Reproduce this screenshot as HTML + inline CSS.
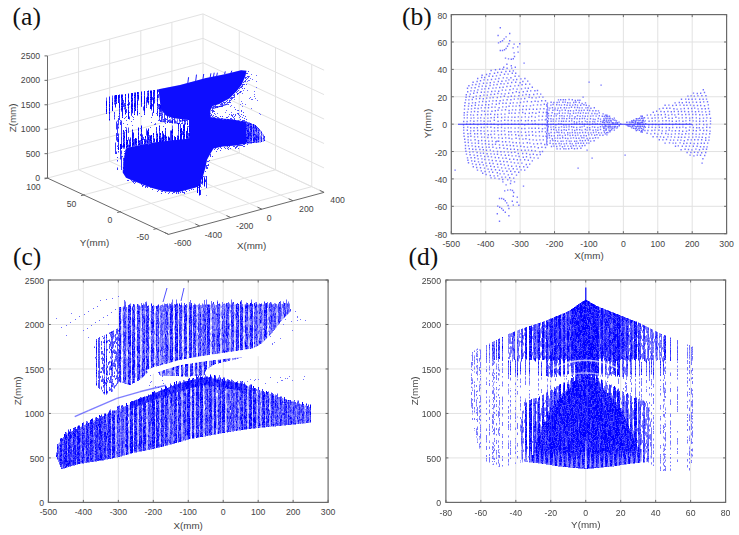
<!DOCTYPE html><html><head><meta charset="utf-8"><style>html,body{margin:0;padding:0;background:#fff;}svg{display:block;}</style></head><body><svg width="739" height="535" viewBox="0 0 739 535" shape-rendering="auto">
<defs><filter id="soft" x="-5%" y="-5%" width="110%" height="110%"><feGaussianBlur stdDeviation="0.55"/></filter></defs>
<rect width="739" height="535" fill="#fff"/>
<line x1="485.71" y1="14.60" x2="485.71" y2="233.70" stroke="#e2e2e2" stroke-width="1.0"/>
<line x1="520.12" y1="14.60" x2="520.12" y2="233.70" stroke="#e2e2e2" stroke-width="1.0"/>
<line x1="554.54" y1="14.60" x2="554.54" y2="233.70" stroke="#e2e2e2" stroke-width="1.0"/>
<line x1="588.95" y1="14.60" x2="588.95" y2="233.70" stroke="#e2e2e2" stroke-width="1.0"/>
<line x1="623.36" y1="14.60" x2="623.36" y2="233.70" stroke="#e2e2e2" stroke-width="1.0"/>
<line x1="657.77" y1="14.60" x2="657.77" y2="233.70" stroke="#e2e2e2" stroke-width="1.0"/>
<line x1="692.19" y1="14.60" x2="692.19" y2="233.70" stroke="#e2e2e2" stroke-width="1.0"/>
<line x1="451.30" y1="206.31" x2="726.60" y2="206.31" stroke="#e2e2e2" stroke-width="1.0"/>
<line x1="451.30" y1="178.92" x2="726.60" y2="178.92" stroke="#e2e2e2" stroke-width="1.0"/>
<line x1="451.30" y1="151.54" x2="726.60" y2="151.54" stroke="#e2e2e2" stroke-width="1.0"/>
<line x1="451.30" y1="124.15" x2="726.60" y2="124.15" stroke="#e2e2e2" stroke-width="1.0"/>
<line x1="451.30" y1="96.76" x2="726.60" y2="96.76" stroke="#e2e2e2" stroke-width="1.0"/>
<line x1="451.30" y1="69.38" x2="726.60" y2="69.38" stroke="#e2e2e2" stroke-width="1.0"/>
<line x1="451.30" y1="41.99" x2="726.60" y2="41.99" stroke="#e2e2e2" stroke-width="1.0"/>
<line x1="83.36" y1="280.00" x2="83.36" y2="502.40" stroke="#e2e2e2" stroke-width="1.0"/>
<line x1="118.33" y1="280.00" x2="118.33" y2="502.40" stroke="#e2e2e2" stroke-width="1.0"/>
<line x1="153.29" y1="280.00" x2="153.29" y2="502.40" stroke="#e2e2e2" stroke-width="1.0"/>
<line x1="188.25" y1="280.00" x2="188.25" y2="502.40" stroke="#e2e2e2" stroke-width="1.0"/>
<line x1="223.21" y1="280.00" x2="223.21" y2="502.40" stroke="#e2e2e2" stroke-width="1.0"/>
<line x1="258.18" y1="280.00" x2="258.18" y2="502.40" stroke="#e2e2e2" stroke-width="1.0"/>
<line x1="293.14" y1="280.00" x2="293.14" y2="502.40" stroke="#e2e2e2" stroke-width="1.0"/>
<line x1="48.40" y1="457.92" x2="328.10" y2="457.92" stroke="#e2e2e2" stroke-width="1.0"/>
<line x1="48.40" y1="413.44" x2="328.10" y2="413.44" stroke="#e2e2e2" stroke-width="1.0"/>
<line x1="48.40" y1="368.96" x2="328.10" y2="368.96" stroke="#e2e2e2" stroke-width="1.0"/>
<line x1="48.40" y1="324.48" x2="328.10" y2="324.48" stroke="#e2e2e2" stroke-width="1.0"/>
<line x1="480.86" y1="280.00" x2="480.86" y2="502.40" stroke="#e2e2e2" stroke-width="1.0"/>
<line x1="515.83" y1="280.00" x2="515.83" y2="502.40" stroke="#e2e2e2" stroke-width="1.0"/>
<line x1="550.79" y1="280.00" x2="550.79" y2="502.40" stroke="#e2e2e2" stroke-width="1.0"/>
<line x1="585.75" y1="280.00" x2="585.75" y2="502.40" stroke="#e2e2e2" stroke-width="1.0"/>
<line x1="620.71" y1="280.00" x2="620.71" y2="502.40" stroke="#e2e2e2" stroke-width="1.0"/>
<line x1="655.67" y1="280.00" x2="655.67" y2="502.40" stroke="#e2e2e2" stroke-width="1.0"/>
<line x1="690.64" y1="280.00" x2="690.64" y2="502.40" stroke="#e2e2e2" stroke-width="1.0"/>
<line x1="445.90" y1="457.92" x2="725.60" y2="457.92" stroke="#e2e2e2" stroke-width="1.0"/>
<line x1="445.90" y1="413.44" x2="725.60" y2="413.44" stroke="#e2e2e2" stroke-width="1.0"/>
<line x1="445.90" y1="368.96" x2="725.60" y2="368.96" stroke="#e2e2e2" stroke-width="1.0"/>
<line x1="445.90" y1="324.48" x2="725.60" y2="324.48" stroke="#e2e2e2" stroke-width="1.0"/>
<line x1="78.60" y1="169.70" x2="78.60" y2="47.50" stroke="#e2e2e2" stroke-width="1.0"/>
<line x1="109.70" y1="161.30" x2="109.70" y2="39.10" stroke="#e2e2e2" stroke-width="1.0"/>
<line x1="140.80" y1="152.90" x2="140.80" y2="30.70" stroke="#e2e2e2" stroke-width="1.0"/>
<line x1="171.90" y1="144.50" x2="171.90" y2="22.30" stroke="#e2e2e2" stroke-width="1.0"/>
<line x1="203.00" y1="136.10" x2="203.00" y2="13.90" stroke="#e2e2e2" stroke-width="1.0"/>
<line x1="47.50" y1="153.66" x2="203.00" y2="111.66" stroke="#e2e2e2" stroke-width="1.0"/>
<line x1="47.50" y1="129.22" x2="203.00" y2="87.22" stroke="#e2e2e2" stroke-width="1.0"/>
<line x1="47.50" y1="104.78" x2="203.00" y2="62.78" stroke="#e2e2e2" stroke-width="1.0"/>
<line x1="47.50" y1="80.34" x2="203.00" y2="38.34" stroke="#e2e2e2" stroke-width="1.0"/>
<line x1="47.50" y1="55.90" x2="203.00" y2="13.90" stroke="#e2e2e2" stroke-width="1.0"/>
<line x1="239.25" y1="152.95" x2="239.25" y2="30.75" stroke="#e2e2e2" stroke-width="1.0"/>
<line x1="275.50" y1="169.80" x2="275.50" y2="47.60" stroke="#e2e2e2" stroke-width="1.0"/>
<line x1="311.75" y1="186.65" x2="311.75" y2="64.45" stroke="#e2e2e2" stroke-width="1.0"/>
<line x1="203.00" y1="111.66" x2="324.07" y2="167.94" stroke="#e2e2e2" stroke-width="1.0"/>
<line x1="203.00" y1="87.22" x2="324.07" y2="143.50" stroke="#e2e2e2" stroke-width="1.0"/>
<line x1="203.00" y1="62.78" x2="324.07" y2="119.06" stroke="#e2e2e2" stroke-width="1.0"/>
<line x1="203.00" y1="38.34" x2="324.07" y2="94.62" stroke="#e2e2e2" stroke-width="1.0"/>
<line x1="203.00" y1="13.90" x2="324.07" y2="70.18" stroke="#e2e2e2" stroke-width="1.0"/>
<line x1="78.60" y1="169.70" x2="199.68" y2="225.98" stroke="#e2e2e2" stroke-width="1.0"/>
<line x1="109.70" y1="161.30" x2="230.78" y2="217.58" stroke="#e2e2e2" stroke-width="1.0"/>
<line x1="140.80" y1="152.90" x2="261.88" y2="209.18" stroke="#e2e2e2" stroke-width="1.0"/>
<line x1="171.90" y1="144.50" x2="292.98" y2="200.78" stroke="#e2e2e2" stroke-width="1.0"/>
<line x1="203.00" y1="136.10" x2="324.07" y2="192.38" stroke="#e2e2e2" stroke-width="1.0"/>
<line x1="83.75" y1="194.95" x2="239.25" y2="152.95" stroke="#e2e2e2" stroke-width="1.0"/>
<line x1="120.00" y1="211.80" x2="275.50" y2="169.80" stroke="#e2e2e2" stroke-width="1.0"/>
<line x1="156.25" y1="228.65" x2="311.75" y2="186.65" stroke="#e2e2e2" stroke-width="1.0"/>
<line x1="203.00" y1="136.10" x2="324.07" y2="192.38" stroke="#e2e2e2" stroke-width="1.0"/>
<line x1="47.50" y1="178.10" x2="203.00" y2="136.10" stroke="#e2e2e2" stroke-width="1.0"/>
<g filter="url(#soft)">
<path transform="scale(.5)" d="M521 268v3m4 1v4" stroke="#f4f4ff" stroke-width="2.0" fill="none"/>
<path transform="scale(.5)" d="M525 279v4" stroke="#d4d4ff" stroke-width="2.0" fill="none"/>
<path transform="scale(.5)" d="M505 280v4" stroke="#cacaff" stroke-width="2.0" fill="none"/>
<path transform="scale(.5)" d="M505 276v4m16-15v3m4 8v3" stroke="#bfbfff" stroke-width="2.0" fill="none"/>
<path transform="scale(.5)" d="M519 263v3m6 0v6m0 11v1" stroke="#b5b5ff" stroke-width="2.0" fill="none"/>
<path transform="scale(.5)" d="M499 257v4m6-11v4m0 8v2m14 18v3m2-25v5" stroke="#9f9fff" stroke-width="2.0" fill="none"/>
<path transform="scale(.5)" d="M505 258v4m6 1v5m8 2v2m0 6v4" stroke="#9595ff" stroke-width="2.0" fill="none"/>
<path transform="scale(.5)" d="M355 237v3m150 8v2m0 18v5m10 11v2m6-7v4" stroke="#8a8aff" stroke-width="2.0" fill="none"/>
<path transform="scale(.5)" d="M355 242v4m4-3v2m146 19v4m0 5v3m10-19v6m0 0v5m4 4v6m2-7v5" stroke="#8080ff" stroke-width="2.0" fill="none"/>
<path transform="scale(.5)" d="M265 226v1m60 10v4m186 40v4m10-9v3m0 4v2m6-7v3" stroke="#7575ff" stroke-width="2.0" fill="none"/>
<path transform="scale(.5)" d="M265 193v3m60 27v5m0 13v3m30-4v2m74-20v2m2 4v2m0 2v2m4-8v2m2 6v2m0 0v2m4-26v2m10 10v2m2-6v2m2 12v2m2-32v2m0 26v2m4-48v2m0 24v2m2-4v2m0 12v2m0 2v2m6-36v2m0 2v2m0 14v2m4-36v2m2 38v2m2 4v2m2 6v2m2-78v2m0 48v2m0 32v2m0-2v2m2-102v2m0 14v2m0 4v2m0 16v2m0-2v2m0 18v2m2-54v2m0 34v2m0 18v2m0 4v2m2-50v2m0 14v2m4-40v2m0 64v2m0 37v6m2-11v2m2-82v2m0 16v2m2-30v2m0 6v2m2-10v2m0 6v2m0 34v2m2-42v2m0 36v2m2-48v2m0 48v2m0 16v2m2-60v2m0 38v2m4-18v2m0 4v2m0 2v2m0 55v5m0 16v4m2-78v2m2-48v2m0 10v2m0 10v2m2 24v2m0 78v4m4-58v2m0 38v4m2-42v2" stroke="#6a6aff" stroke-width="2.0" fill="none"/>
<path transform="scale(.5)" d="M213 195v6m132 50v7m20-16v3m128 18v4m2-14v3m4 5v2m0 13v5m10-22v5m0 20v2m4-21v4m4 11v2m10-13v6m0 6v2" stroke="#6060ff" stroke-width="2.0" fill="none"/>
<path transform="scale(.5)" d="M225 191v5m12 36v2m4 6v2m6 4v2m2-12v2m2-12v2m0 6v2m0 18v2m0 4v2m2-30v2m0 6v2m0 13v4m2-11v2m4-26v2m4 16v2m2-12v2m0 16v2m2-18v2m0-2v2m0 2v2m12-14v2m0-2v2m2 28v2m2-26v2m16 36v7m2-23v2m2-22v2m0 8v2m6 2v2m2-4v2m0 0v2m2-24v2m4 12v2m2-8v3m0 3v2m8 10v2m4-8v2m16-10v2m2-6v2m0 0v2m8 12v2m0 10v9m2-33v2m2 8v2m8-10v2m2-2v2m4 10v2m0 0v2m2-4v2m2 4v2m2 0v2m106 19v5m12-14v4m6-22v4m10 10v4m0 4v4m8-9v2m6 4v3" stroke="#5555ff" stroke-width="2.0" fill="none"/>
<path transform="scale(.5)" d="M249 276v7m46-98v6m18 80v6m6-58v6m16 11v5m10-6v5m24 5v4m6-9v5m84-17v2m4 0v2m0 4v2m2-8v2m0 0v2m2-6v2m0 4v2m2-4v2m0-2v2m0 2v2m2-20v2m0 8v2m0 0v2m0-2v2m4-6v2m2-8v2m0 4v2m0 0v2m2 0v2m2 0v2m0 16v5m2-35v2m0 0v2m0-2v2m0 4v2m0 23v5m2-24v2m2-12v2m0 4v2m4 0v2m4 10v5m0 7v4m14 4v4m10-10v5" stroke="#4a4aff" stroke-width="2.0" fill="none"/>
<path transform="scale(.5)" d="M219 229v8m10-46v8m0 0v6m0 0v4m0 15v5m0 0v6m0 0v4m10-10v8m4 43v8m2 3v4m2-95v7m0 0v7m2-8v9m0 0v4m0 44v9m4-54v8m2-18v3m2-15v3m0 56v3m0 0v8m0 8v7m0 8v5m0 0v1m2-91v6m0 23v6m10-42v8m0 73v8m0 0v6m12-24v4m0 8v8m6-75v8m0 53v6m6-85v4m0 0v5m0 0v9m0 0v3m0 41v9m0 0v5m0 8v6m0 0v2m4-6v6m6-69v3m2-27v6m0 8v5m0 12v7m12-53v5m0 4v8m0 12v7m0 0v3m2-5v7m0 17v3m4 35v3m0 0v6m2-14v4m4-4v7m0 0v4m12-20v5m0 0v4m0 0v8m0 0v4m24-37v3m0 14v8m12-4v7m0 0v4m0 0v3m104-20v5m2-3v4m6-21v4m0 35v4m4-44v3m0 11v5m0 7v3m2 6v4m2-4v4m2-32v2m0 0v4m0 24v6m6-3v2m2-14v3m2-21v5m2-3v3m0 26v1m2-34v3m4 12v3" stroke="#4040ff" stroke-width="2.0" fill="none"/>
<path transform="scale(.5)" d="M225 196v7m6 82v23m2-65v16m0 7v15m0 22v5m2-67v2m0 4v25m0 2v10m0 7v3m0 3v1m0 16v2m0 4v3m0 12v5m2-104v15m0 2v4m0 10v11m0 24v3m2-108v9m0 11v8m0 11v4m2 3v7m0 39v30m2-123v9m0 36v49m0 1v4m0 6v8m0 2v29m16-56v5m8-12v6m0 7v3m2-108v5m2 98v3m14-22v8m16-91v7m0 8v8m14 1v3m4 50v8m2-56v3m0 0v3m0 0v2m0 2v4m0 0v3m0 8v2m0 0v2m2-24v5m0 0v4m0 0v4m0 0v3m0 0v4m0 0v2m0 0v2m2-13v6m0 29v4m2-32v3m0 0v3m2-16v2m0 0v6m0 0v4m0 0v4m0 0v1m2-9v2m0 0v6m0 0v1m2-7v2m2 1v2m2-3v4m2-11v3m0 3v4m0 0v3m2-7v2m0 0v5m2-11v2m0 4v3m0 0v2m6-10v6m0 0v2m0 0v3m0 25v9m2-40v5m0 0v1m2-4v2m0 0v2m8-7v4m0 5v8m2-16v2m0 3v2m4-9v3m2 32v7m2-42v2m0 0v4m0 0v4m2-9v2m108 2v3m0 26v3m2-2v6m0 3v4m4-45v3m8 26v3m2-22v6m2-13v6m2 10v5m0 20v1m6-30v3m4 10v6m4-22v3m8 10v4" stroke="#3535ff" stroke-width="2.0" fill="none"/>
<path transform="scale(.5)" d="M219 200v4m18 81v8m10-24v6m10-59v3m6 5v7m6-12v8m2-33v8m4-10v7m0 12v6m0 0v4m2-37v5m6 15v9m0 70v7m6-68v5m6-45v3m0 6v3m4 83v8m8-105v3m8 30v4m0 10v5m6 39v4m4-47v3m2 51v2m6-7v4m10-5v5m2-15v3m10-23v2m4-10v5m10-1v3m0 17v5m32 88v3m0 0v16m0 6v10m2-27v2m0 9v1m8-22v1m0 5v5m2-12v24m0 15v1m68-137v5m2 12v2m6-31v2m0 4v4m2 18v3m0 12v2m2-41v5m8 4v2m0 21v4m0 0v3m6-22v4m4 0v2m2 12v4m4-27v4m0 7v4m10 1v3m2-6v5" stroke="#2a2aff" stroke-width="2.0" fill="none"/>
<path transform="scale(.5)" d="M233 203v3m0 0v2m14 70v7m2-2v4m2-82v4m0 4v6m8 60v5m2-9v8m2-78v3m2-5v5m0 12v6m2 46v5m4 14v1m6-29v3m12-84v9m2 86v5m4-8v8m12-94v7m0 80v6m2-97v9m0 6v8m0 75v3m4-31v7m0 0v6m2-81v3m4 24v3m12 45v9m12-4v4m0 0v6m12 2v4m2-31v8m2-14v3m20 24v5m108 0v4m6-29v3m0 12v3m0 6v4m0 5v2m2-22v4m4-6v3m0 0v6m4-25v4m0 14v4m0 11v3m8-24v4m2 6v3m2 0v4m2-20v3m6 14v5m0 0v4" stroke="#2020ff" stroke-width="2.0" fill="none"/>
<path transform="scale(.5)" d="M213 213v4m0 8v3m6-35v7m12 12v3m2-16v4m4-5v6m2-15v8m4 77v6m2-60v6m18-7v5m0 7v1m2 31v5m2-3v7m22-45v3m0 48v7m6-83v3m2-20v8m0 75v5m4 10v3m2-12v5m4-71v4m0 0v6m0 63v4m8-88v8m0 12v4m4-13v5m0 42v8m2-46v6m10 33v5m4-29v4m20 35v4m8-1v7m10-19v8m2-6v7m108-29v3m0 13v4m2-3v3m2 6v6m2-16v4m2-9v3m0 12v3m4-2v2m2-13v4m0 12v2m0 7v4m4-41v5m0 3v2m0 17v2m2-21v6m0 9v6m0 8v4m6-9v6m2-8v5m2-21v5m4 17v3" stroke="#1515ff" stroke-width="2.0" fill="none"/>
<path transform="scale(.5)" d="M219 240v1m12-36v7m12 3v6m2-32v6m0 31v7m0 0v3m2 24v5m0 0v4m4-81v5m0 0v5m0 0v7m6 14v7m4 57v7m2-104v6m2 76v8m4-61v4m2-34v9m0 8v8m0 0v7m2 70v5m2-93v5m0 22v5m8-48v8m0 71v3m0 0v5m0 0v5m6-84v3m0 0v8m6 59v3m0 6v4m2-93v4m4 24v9m2-18v5m4-22v5m0 30v6m2-31v6m6 6v6m0 10v6m6 48v5m10 2v2m2-3v3m12-38v1m12 29v5m8-43v4m4-3v3m0 6v4m4 25v4m6-41v6m0 0v4m0-1v7m102-9v3m2 16v6m2-24v6m0 0v5m0 3v6m0 3v5m2-2v3m2-9v5m0 6v5m2-41v2m0 13v6m10-13v3m0 12v4m0 0v3m6 2v3m2-4v4m2-28v6m2 16v5m10-14v4" stroke="#0b0bff" stroke-width="2.0" fill="none"/>
<path transform="scale(.5)" d="M213 201v5m0 0v7m0 4v8m6-21v3m0 0v8m0 0v8m0 0v6m0 8v3m6-37v8m0 0v5m0 0v6m6-32v8m0 0v4m0 0v3m2-15v6m0 0v3m4-9v8m0 6v2m0 72v7m0 8v7m2-94v4m0 0v7m0 8v4m2 59v7m0 0v4m2-110v7m0 9v6m0 0v4m0 6v2m0 65v6m0 0v4m2-103v8m0 0v8m0 0v9m2 55v3m0 7v5m0 0v5m0 0v2m2-25v4m0 11v8m0 0v2m2-88v4m0 6v6m0 0v4m2 30v9m0 0v6m0 0v9m0 0v8m0 0v5m2-16v9m0 0v6m2-108v9m0 3v6m0 0v8m0 0v3m0 10v4m0 0v8m2 51v6m2-5v4m2-102v7m0 0v6m0 3v6m0 0v5m2-33v7m0 3v7m0 5v4m0 0v3m0 0v5m0 39v4m0 13v9m0 0v8m0 0v1m2-11v7m2-100v3m0 0v4m0 8v7m0 0v3m0 12v3m2-13v5m0 54v6m0 0v6m2-11v4m0 0v6m2-103v5m0 0v3m0 12v7m0 10v5m2-37v3m0 0v7m0 0v2m0 54v8m0 3v5m0 0v8m0 0v8m0 0v4m2-10v4m0 0v5m4-99v7m0 0v6m0 9v1m0 37v6m0 0v5m0 13v8m2-6v4m0 0v5m0 0v3m4-87v7m0 0v7m0 0v6m0 63v3m2-16v5m0 5v5m0 0v1m4-94v4m0 0v4m0 62v6m0 12v5m2-94v8m0 0v6m0 0v2m0 48v6m0 0v5m0 5v5m0 0v3m2 4v1m2-105v5m0 7v4m0 0v4m0 70v7m0 0v5m2-102v3m0 0v8m0 0v8m0 5v7m0 0v6m0 52v4m0 5v7m4-91v5m0 0v8m0 16v2m0 40v5m0 0v4m2-95v4m0 93v5m4-15v4m0 6v8m2-106v7m0 3v8m0 70v8m0 0v5m0 0v5m4-69v3m0 6v4m0 0v5m0 17v4m0 16v8m0 0v6m2-75v7m0 6v1m0 42v5m0 9v4m4-22v4m0 8v5m0 0v5m2-17v7m0 0v8m4-12v9m0 0v3m2-9v4m2-34v3m2 27v8m0 0v2m2-8v6m0 0v2m4-22v5m0 15v2m2-43v6m0 12v4m0 0v4m0 3v5m0 0v6m0 0v3m4-2v1m2-8v7m0 0v1m4-7v3m2-32v5m0 8v3m0 9v5m4-19v5m0 0v5m0 0v7m0 0v6m0 0v1m2-25v9m0 0v9m4-25v8m0 0v6m0 0v8m0 0v8m0 0v2m2-29v4m0 0v6m0 5v7m4-4v7m2-32v5m0 6v8m0 7v6m0 0v3m4-24v9m0 0v7m0 5v3m16 76v30m4-31v36m6-37v15m4-16v20m72-131v2m0 21v5m0 0v3m0 3v3m0 0v3m0 0v3m0 0v3m2-43v5m0 0v3m0 27v3m0 4v1m2-46v4m0 0v2m0 20v3m0 5v2m0 0v6m0 0v4m2-43v4m0 0v3m0 0v4m0 0v4m0 0v4m0 0v4m0 18v2m2-35v5m0 4v6m0 5v6m2-34v2m0 9v2m0 6v4m0 6v5m0 0v3m0 0v4m2-31v3m0 15v3m0 4v5m2-36v4m0 7v5m0 9v5m0 4v4m2-42v2m0 0v5m0 10v3m0 0v5m0 0v4m0 2v3m4-21v3m0 14v4m2-28v3m0 6v5m0 10v5m4-32v6m0 0v3m0 3v4m0 4v4m0 6v5m0 0v3m2-18v2m4-15v3m0 0v2m0 17v5m4-19v4m0 7v6m6 2v2m6-4v2" stroke="#0000ff" stroke-width="2.0" fill="none"/>
<polygon points="158.5,89.3 180.0,85.1 206.0,78.0 226.0,74.0 241.0,70.3 246.5,70.7 245.4,75.9 241.5,85.1 236.3,91.6 229.7,98.2 219.2,104.1 212.7,106.0 210.5,110.0 210.0,117.0 219.0,118.6 229.2,119.1 244.9,121.4 246.0,122.0 246.0,143.6 245.0,143.7 235.8,145.4 222.7,146.6 213.5,148.4 209.6,154.9 207.0,159.7 205.4,167.7 203.0,176.0 199.0,186.0 195.0,187.8 186.3,190.0 178.5,192.0 165.0,191.5 152.0,188.0 140.0,183.5 126.0,177.7 122.7,172.5 123.5,160.0 126.0,148.0 150.0,143.0 170.0,140.5 186.0,139.0 190.0,138.0 190.0,120.3 173.0,117.9 165.8,115.4 160.9,109.4" fill="#0808ff"/>
<path transform="scale(.5)" d="M243 336v2m0 0v2m2-28v2m2 2v2m0 0v2m0-2v2m0 0v2m0 2v2m0-2v2m0 4v2m0 0v2m0 4v2m2-38v2m0 2v2m0 4v2m0 0v2m2-16v2m0 50v2m2-58v2m2 62v2m2-2v2m4-70v2m0 64v2m0-2v2m2 0v2m2 0v2m0-2v2m2-74v2m0 70v2m0 0v2m2-74v2m0 68v2m0 2v2m2-6v2m0 0v2m2-76v2m6-2v2m2-4v2m2-2v2m0 78v2m2-82v2m0 80v2m0-2v2m0 0v2m2-4v2m4 0v2m0 0v2m2-4v2m2-88v2m0 84v2m0 0v2m2-90v2m0-2v2m0 0v2m2-6v2m0 0v2m2-2v2m0 86v2m4 2v2m10 2v2m2-4v2m6 0v2m0-2v2m0-2v2m0 2v2m2-6v2m6 0v2m0-2v2m6 0v2m2-4v2m6 0v2m2-4v2m0-2v2m2-2v2m4-2v2m0 0v2m4-4v2m0-2v2m0 0v2m4-4v2m0-2v2m4-4v2m0 0v2m2-2v2m2-2v2m0 0v2m2-8v2m2 0v2m6-4v2m0-2v2m4-4v2m0-2v2m4-2v2m10-6v2m4-10v2m0-2v2m0 0v2m0 0v2m2-8v2m0-2v2m0-2v2m0 0v2m2-2v2m2-16v2m2 0v2m2-14v2m2-14v2m0-2v2m0 0v2m0 0v2m0 0v2m2-16v2m0 6v2m0 2v2m0 0v2m2-16v2m0 4v2m0 0v2m2-12v2m2-96v2m0-2v2m0 2v2m0 0v2m0 74v2m0 0v2m0 0v2m2-94v2m0-2v2m0-2v2m0 6v2m0 0v2m0 2v2m0-2v2m2-22v2m0-2v2m0 0v2m0 0v2m0 0v2m0 0v2m0 0v2m0-2v2m0 6v2m0 78v2m2-102v2m0 0v2m0 4v2m0 0v2m0 6v2m0 2v2m2-24v2m0 8v2m0 2v2m0 6v2m0-2v2m0 62v2m2-90v2m0 0v2m0 0v2m0-2v2m0 16v2m0 62v2m2-86v2m0 18v2m0 2v2m0 64v2m2-92v2m0 0v2m0 18v2m0 62v2m2-4v2m2-86v2m0 22v2m2-30v2m0 22v2m0 60v2m0-2v2m0 4v2m2-96v2m0 0v2m0-2v2m0 2v2m0 22v2m0 58v2m2-92v2m0-2v2m0 0v2m0 2v2m0 18v2m0 2v2m0 0v2m2-36v2m0 32v2m2-36v2m0 0v2m0-2v2m0 86v2m2-92v2m0 90v2m2-96v2m0 30v2m0 2v2m2-40v2m0 2v2m0 28v2m0 56v2m0 2v2m2-94v2m0 2v2m0 84v2m0 2v2m2-100v2m0-2v2m0 0v2m0 0v2m0 32v2m0-2v2m0-2v2m0 52v2m2-98v2m0 2v2m0 2v2m0 30v2m0 58v2m0-2v2m2-104v2m0 0v2m0 0v2m0-2v2m0 38v2m0-2v2m0-2v2m2-46v2m0 0v2m0 40v2m2-50v2m0 2v2m0 96v2m0-2v2m2-106v2m0 0v2m0 0v2m0 44v2m0 52v2m0-2v2m0-2v2m2 0v2m0 0v2m2-114v2m0-2v2m0-2v2m0-2v2m0 54v2m0 50v2m0 0v2m0-2v2m2-114v2m0 2v2m0 0v2m0-2v2m0 100v2m0 0v2m2-114v2m0 4v2m0 52v2m0-2v2m0 48v2m0 4v2m2-122v2m0 6v2m0 104v2m0-2v2m2-118v2m0 6v2m0-2v2m0-2v2m0 0v2m0 52v2m0 2v2m0 46v2m0-2v2m2-120v2m0 0v2m0 114v2m2-124v2m0-2v2m0 0v2m0 0v2m0 2v2m0 62v2m0 48v2m2-128v2m0 2v2m0 70v2m0 0v2m0-2v2m0-2v2m0 44v2m0 2v2m2-132v2m0-2v2m0 4v2m0-2v2m0 6v2m0 58v2m0-2v2m0 2v2m0 46v2m0 2v2m2-140v2m0-2v2m0-2v2m0 0v2m0 2v2m0 0v2m0-2v2m2-18v2m0 6v2m0-2v2m0 2v2m0 8v2m0 68v2m0-2v2m2-94v2m0 4v2m0 2v2m0 88v2m0 40v2m2-148v2m0 8v2m0 0v2" stroke="#4040ff" stroke-width="2.0" fill="none"/>
<path d="M213 108.5 L228 103.8" stroke="#0000ff" stroke-width="1.3" stroke-opacity="0.8"/>
<path d="M187.8 83.0L188.6 77.2M195.7 81.0L196.5 74.6M202.9 79.5L203.7 74.0M210.1 78.0L210.9 73.3M213.4 77.0L214.2 72.7M216.6 76.5L217.4 72.7M224.5 74.5L225.3 71.4M231.0 73.0L231.8 70.7" stroke="#2020ff" stroke-width="1" fill="none"/>
</g>
<g filter="url(#soft)">
<path transform="scale(.5)" d="M243 624v7m0 16v5m0 47v4m0 28v4m2-93v7m0 21v6m12 158v7m6-187v6m4 164v2m0 14v6m0 5v7m0 45v3m4-247v5m0 19v6m0 7v5m2-84v6m10 8v2m16 45v5m0 35v4m0 18v1m2-122v3m0 67v7m0 29v6m8-76v3m2 41v4m0 103v8m36-197v5m0 54v4m2-69v4m0 53v6m0 35v6m6 87v4m2-124v6m2 48v7m6-81v7m0 5v6m0 4v4m10-73v7m0 28v7m0 41v4m0 9v6m2 26v5m8-138v3m0 42v8m6 211v2m2-184v5m2-79v5m0 37v6m12 100v4m8-39v7m6-67v4m0 0v4m2-58v5m0 68v4m10 88v7m2-31v7m0 17v5m6-158v5m2-22v3m0 99v7m8 125v5m8-227v3m10 54v5m2-42v5m0 37v4m8-9v5m0 6v5m8-74v2m0 6v7m0 35v8m2-58v3m24 152v3m24-144v4" stroke="#f4f4ff" stroke-width="2.0" fill="none"/>
<path transform="scale(.5)" d="M223 880v3m22-234v6m0 37v5m0 38v6m12 107v6m6-210v4m0 82v5m0 3v7m4 65v5m0 2v7m6-190v5m0 35v7m0 51v4m0 12v4m0 10v2m8-41v7m10 17v2m2 56v5m2 65v5m4-265v6m0 86v7m2-90v4m0 68v4m0 4v6m0 21v6m8-103v6m0 52v4m0 22v8m2-48v2m0 153v5m8-181v5m18-2v6m10-30v5m0 66v3m2-89v6m0 0v5m0 9v4m0 36v3m0 0v6m2 55v6m6-125v4m0 19v3m0 0v5m2 86v3m8-52v3m2 53v3m6-96v4m0 10v6m0 0v3m0 11v4m2-72v6m0 22v2m0 8v6m0 40v4m0 0v4m2 18v4m0 14v2m6-118v3m0 35v5m0 5v5m0 10v6m4 22v6m2 31v4m0 95v3m4-242v4m0 22v4m0 53v2m8-34v3m4 76v5m0 4v4m0 17v7m0 10v3m2 6v3m0 55v4m6-149v3m6-102v3m0 18v5m0 35v3m0 12v7m12 153v6m8-227v4m2-33v3m0 29v7m8 134v3m0 70v7m10-247v5m0 22v6m0 172v5m8-206v5m2 19v5m16-39v7m0 29v7m0 12v8m20 13v3m0 5v3m8 111v4m20-199v3m4 195v7" stroke="#eaeaff" stroke-width="2.0" fill="none"/>
<path transform="scale(.5)" d="M233 898v4m10-243v2m0 74v5m2-123v6m0 0v3m0 29v4m0 0v8m0 61v7m10-121v6m8 16v6m0 41v7m0 6v4m0 45v6m8-138v4m0 11v5m0 121v2m2-108v5m0 89v3m4 86v7m0 46v3m4-194v3m0 7v7m2-67v4m0 0v5m0 23v3m2 133v5m6-193v6m0 88v6m2 91v4m0 20v6m6-217v5m0 29v5m0 0v3m0 18v6m0 8v3m2-25v3m8-13v4m2-3v4m0 188v5m0 10v5m8-255v7m0 0v4m0 0v5m0 61v6m2 105v4m8-92v2m10-48v3m8-62v4m0 54v4m0 5v5m0 4v5m2-58v7m0 22v7m6 202v2m2-255v2m0 25v8m0 0v6m0 17v2m0 10v4m0 0v5m0 3v4m8-47v5m2-6v7m0 32v3m0 3v5m0 11v3m8-91v5m0 34v6m2-7v6m4 178v3m2-101v6m0 10v4m0 71v7m2-247v4m0 0v5m0 0v4m0 21v5m2 77v6m0 10v4m2 107v6m4-166v7m2-91v3m0 83v5m0 2v4m0 31v5m4 92v3m6-108v5m2-7v4m0 33v6m0 17v7m0 3v7m6-152v3m8 3v2m12 199v4m2-150v5m6-107v4m0 30v7m2-22v5m2 77v7m6 75v5m0 27v6m2-69v6m16-132v4m0 43v7m10-88v5m0 17v5m0 13v3m0 0v6m0 0v8m0 24v6m8-67v6m0 50v7m0 0v7m2-43v3m6 188v3m2-161v3m10-26v7m0 0v7m16 126v7m4-161v4m8-26v7m0 32v5m2-7v6m74 142v3" stroke="#dfdfff" stroke-width="2.0" fill="none"/>
<path transform="scale(.5)" d="M223 842v4m0 49v3m8-40v7m2-6v6m10-250v5m0 0v4m0 37v7m0 6v7m0 22v5m0 11v5m0 16v7m0 8v5m0 0v5m10-59v3m0 0v6m2-95v6m0 3v5m0 67v3m4 116v5m0 18v6m0 8v4m4-245v5m0 21v2m0 4v6m0 6v5m0 25v6m4 169v5m4-234v6m0 7v3m0 67v5m0 11v7m2-129v4m0 69v6m0 9v2m0 5v5m0 0v6m0 33v4m8-93v7m0 86v3m2-97v6m0 39v4m0 6v5m2 117v7m6-117v7m2 124v5m2-20v6m4-230v6m0 95v7m10-98v3m0 11v4m0 0v6m0 45v3m2-65v7m0 17v5m0 7v4m0 12v5m0 11v3m0 12v3m0 78v4m0 8v4m0 24v5m0 35v7m0 0v7m8-247v5m2 198v4m2-110v6m16-81v6m0 0v4m0 166v8m8-208v3m0 67v6m2-108v3m0 20v3m0 101v4m2 5v1m4 29v8m0 17v3m0 4v7m2-149v7m0 0v4m8 17v6m2-78v7m0 16v4m0 21v4m0 25v3m0 25v3m2 4v7m6-124v4m0 8v7m0 5v4m0 36v5m0 4v3m0 19v1m2-51v7m0 53v5m4 38v2m0 25v7m0 19v6m2-17v7m0 27v5m2-163v7m0 14v4m2 25v6m2 3v4m0 41v2m0 4v3m2-26v3m0 0v5m0 36v3m2-194v2m2 7v7m0 28v5m2 53v3m0 0v4m2 116v7m8-43v6m6-213v7m8 2v4m0 18v3m0 49v6m2-70v7m0 62v7m4 119v4m6-14v6m2-29v4m0 41v7m6-198v6m0 31v5m0 10v6m2-13v4m0 0v7m0 24v1m8 34v2m0 0v8m0 74v3m2-40v4m0 0v4m6-136v5m2-6v7m0 18v1m8-74v7m0 29v7m0 0v6m0 18v6m2-80v4m8-13v3m0 3v6m10-11v7m0 8v4m0 0v7m0 4v7m0 43v5m6 88v5m2-169v7m0 189v7m2-146v5m6 133v8m2-218v6m0 29v5m0 11v3m8 123v4m0 30v6m6 6v4m6-176v3m4 175v5m6-188v6m18-37v7m12 175v2" stroke="#d4d4ff" stroke-width="2.0" fill="none"/>
<path transform="scale(.5)" d="M223 837v5m0 16v2m0 48v7m8-78v7m0 0v4m2 32v4m10-232v7m0 29v4m2-10v3m8-60v3m0 67v4m0 3v4m2-80v3m0 16v3m0 66v4m2 105v5m2 21v3m0 47v8m4-200v3m0 6v3m0 0v6m4 109v6m4-223v5m0 42v5m0 20v7m0 5v6m0 17v6m0 0v5m2-6v3m0 13v3m2 73v2m2 5v3m0 14v5m0 23v5m4-199v4m0 3v7m0 3v3m0 35v5m2-71v3m0 17v6m0 9v4m8-95v5m2 178v6m6-132v5m0 23v4m0 31v5m0 0v3m2-112v8m0 81v8m8-15v5m0 15v4m2-122v3m0 7v4m0 58v6m0 128v5m8-211v4m0 224v5m0 35v4m2-142v5m0 36v7m0 16v2m0 77v3m2-146v4m4-122v3m0 43v6m0 30v3m2 149v5m0 25v4m2-153v6m6-120v3m2-17v3m0 4v6m0 6v4m0 50v3m8-21v4m0 14v2m2-25v7m0 52v3m6 97v6m0 20v3m2-232v4m0 88v3m2 18v6m4 117v5m2-222v7m0 4v6m0 142v5m0 43v3m2-155v3m0 52v6m8-50v4m2-77v6m0 97v4m4 96v4m2-17v4m0 28v5m0 10v3m0 0v3m2-205v6m0 5v5m4 49v4m0 37v4m0 53v4m2-34v7m0 5v7m0 9v5m0 8v3m2-229v3m0 16v3m2-4v4m0 60v4m0 11v2m2 10v6m0 17v4m2 57v4m4-100v1m2-97v5m0 124v6m2 7v4m2 36v4m12-153v4m2-43v4m0 12v3m0 12v4m0 20v5m0 35v2m4 132v7m6-229v8m2 151v4m0 44v5m0 14v6m6-228v5m0 77v4m2-48v6m0 15v6m0 15v5m0 91v4m8-5v4m0 5v4m0 29v6m0 3v3m0 12v3m4-145v3m4-100v5m0 6v7m0 0v6m0 14v6m2-38v6m0 33v3m0 45v4m4 0v1m4-84v6m0 8v7m0 0v4m0 17v3m8 128v3m2-175v4m0 0v7m0 17v7m16 138v7m2-164v6m2-36v6m0 63v4m6 130v2m0 0v4m2-218v3m8 235v3m2-182v6m4 101v4m4-172v7m2 58v4m8-64v4m4 170v4m14-158v7m2-36v3m10 4v7" stroke="#cacaff" stroke-width="2.0" fill="none"/>
<path transform="scale(.5)" d="M223 846v5m0 51v6m8-77v6m0 33v7m0 33v4m2-67v5m0 24v4m10-242v6m0 0v3m0 34v7m0 59v3m2-124v7m0 4v5m0 79v4m8 33v7m2-54v3m0 45v6m2 45v6m2 51v6m4-208v7m0 86v2m8-108v7m0 48v8m2-92v5m0 53v5m0 50v6m2 76v3m6-201v7m0 0v7m0 42v3m2-57v3m0 8v7m0 0v3m0 79v5m0 3v7m0 19v1m8-84v3m0 28v5m2 184v4m2-96v7m0 0v7m4-176v3m2 5v7m0 18v7m0 3v3m0 29v3m8-105v7m0 7v5m0 45v7m2-32v7m0 0v4m0 66v4m0 106v4m0 25v6m8-219v3m0 35v6m0 12v6m0 0v4m0 5v3m2 105v5m0 7v7m8-48v6m8-182v6m0 86v7m0 19v5m2-15v6m0 7v3m0 51v4m0 3v3m8-202v6m0 9v5m0 42v3m2 20v7m0 0v6m0 6v5m0 19v3m6 32v5m0 0v2m0 71v7m2-248v6m0 4v5m0 90v5m6 97v7m0 14v7m2-221v7m0 11v4m2-31v5m0 41v6m0 17v3m2 46v5m4 41v7m2-177v5m0 15v4m2 1v6m0 0v6m0 43v6m4 88v5m0 0v4m0 47v6m2-86v5m0 75v6m0 17v3m2-237v6m0 78v3m4 20v7m0 8v1m0 6v4m0 18v5m0 26v3m0 7v5m2-34v4m0 37v5m0 0v3m0 3v7m0 0v6m0 0v5m8-27v5m4-190v4m4 83v7m0 105v4m0 16v3m2-50v5m0 14v4m0 6v5m4-182v7m8-71v6m0 17v8m0 12v7m2 2v3m2 160v6m2-17v2m0 42v7m4-171v8m2 121v5m8-163v4m10-21v4m0 133v4m2 34v4m0 20v5m6-152v4m2-78v3m0 32v7m8-54v5m2 19v5m0 10v4m0 14v6m0 10v3m6 86v7m2-166v3m8 0v7m2-18v6m0 7v5m0 32v6m0 4v4m0 16v6m6 108v5m0 25v7m0 10v4m2-236v6m0 7v3m0 45v7m0 130v4m0 17v7m0 5v4m2-212v7m0 49v1m6 85v3m0 0v6m0 12v6m0 0v6m0 26v6m2-193v5m6 186v7m2-12v3m2-176v6m6 116v4m2-133v6m6 142v7m0 14v5m4-187v5m0 0v3m0 18v1m2-53v3m0 3v6m2 183v3m0 22v7m2-26v3m12-199v4m2 20v1m10-26v3m2 168v6m6-195v3" stroke="#bfbfff" stroke-width="2.0" fill="none"/>
<path transform="scale(.5)" d="M135 902v4m28-10v4m6 0v7m62-59v3m0 34v4m2-47v5m8-3v5m2-157v7m2-84v2m0 80v6m0 11v3m6 166v5m0 14v7m2-168v6m2-113v8m0 23v6m0 84v4m2 124v5m0 12v3m2-94v7m0 36v5m0 16v6m0 28v1m8-38v3m0 0v3m0 22v5m4-226v6m2 12v6m2 139v5m0 10v5m0 0v6m2-50v7m0 27v2m0 26v6m4-227v6m0 7v6m0 7v3m0 13v4m0 13v7m0 22v4m2-55v4m0 0v5m0 8v6m0 27v5m2 73v7m6-174v5m0 6v7m2 157v3m0 16v5m0 43v4m2-78v8m0 7v7m0 6v4m0 4v4m0 0v4m0 18v6m0 0v4m6-241v7m0 0v4m0 35v4m0 6v4m8-56v4m0 11v3m0 11v5m0 4v4m2 24v4m0 66v5m0 48v6m0 5v4m8-241v6m0 37v3m0 19v6m2 116v7m0 10v4m0 46v5m0 0v5m6-176v3m0 11v6m2-23v4m10-86v3m0 10v4m0 0v6m0 46v4m0 92v3m0 63v7m8-168v4m2-66v6m6 171v4m0 30v3m0 20v3m2-223v3m6 141v5m0 0v5m2-189v3m0 0v6m0 12v4m0 19v7m0 18v4m0 9v6m0 13v6m0 55v6m0 9v7m0 21v6m0 12v3m0 23v4m2-253v5m0 63v6m0 81v6m10-156v7m4 158v3m0 45v3m2-33v6m0 27v8m2-177v4m0 37v5m4 57v7m0 21v4m0 28v4m2-63v5m0 14v6m0 78v4m2-256v7m0 29v7m0 4v4m2 13v8m0 0v7m0 28v6m2-66v5m0 74v3m2 26v4m0 27v4m0 66v1m8-99v7m0 7v3m0 30v8m0 4v3m0 15v4m0 7v5m2-116v7m0 7v3m0 18v6m4-140v4m4 76v3m4-111v7m0 54v6m2-42v7m2 111v3m0 38v3m0 6v6m0 23v4m6-242v5m2 141v4m0 39v4m2 55v6m6-255v8m0 9v7m0 30v2m0 28v4m2-78v5m0 24v7m0 17v3m0 11v4m8-65v5m0 7v4m0 46v6m0 116v6m0 6v6m2-48v7m0 29v3m0 34v7m6-228v3m0 41v4m2 6v4m0 0v7m8-87v5m2-1v6m0 38v5m0 3v6m0 6v4m0 16v5m0 63v6m2-56v3m4 95v4m10-201v4m0 32v6m2-17v4m0 32v5m6 119v2m0 18v8m2-169v3m0 23v3m0 123v4m2-186v6m0 30v4m6 128v6m0 29v5m2-206v6m0 0v6m8-29v6m0 195v4m2-163v4m4 136v7m0 13v6m0 30v3m2-14v6m0 3v3m2-245v4m0 60v6m6 120v3m4-180v5m2-18v6m2 42v4m0 126v5m0 15v3m2 4v5m8-28v6m4-188v5m2 21v4m8-31v7m2 18v6m2-10v4m44 191v6" stroke="#b5b5ff" stroke-width="2.0" fill="none"/>
<path transform="scale(.5)" d="M117 908v3m28-16v5m44-40v4m0 13v3m24 23v4m10-82v3m0 23v4m0 18v7m8-29v2m0 0v5m0 56v2m2-81v7m0 23v5m0 24v4m0 11v6m10-247v6m2-41v4m0 30v3m4 199v4m4-236v6m0 0v4m0 108v3m2-87v8m2 175v3m0 9v3m0 19v4m2-53v4m0 52v4m8-53v5m0 30v7m4-142v8m2-101v7m0 32v3m2 128v5m0 3v3m0 61v6m2-92v7m0 7v5m0 24v7m0 9v5m0 26v5m4-270v7m2-28v5m0 131v7m2 73v5m0 21v2m6-213v5m0 37v5m0 6v7m0 5v3m0 11v6m2 89v5m0 64v6m2-38v4m0 8v8m4-171v3m2-67v7m2 159v5m0 37v6m6-214v5m2-13v6m0 7v6m0 29v4m0 104v6m0 5v3m0 51v5m0 38v1m8-235v2m0 34v6m0 24v3m0 73v7m0 0v4m0 58v7m2-169v7m0 3v7m0 144v3m2-173v7m6-40v4m0 123v8m8-133v4m0 26v7m0 0v3m0 84v6m0 84v5m2-235v7m0 25v6m0 4v5m0 76v4m0 17v4m0 19v7m0 16v2m0 39v4m2-154v5m0 5v4m6-64v3m0 123v5m0 57v7m2-229v4m0 34v3m0 0v3m6 130v5m0 3v3m0 0v6m0 26v6m2-236v7m6 138v6m0 22v6m0 40v5m2-210v2m0 182v6m0 6v7m0 0v4m2-214v4m0 8v4m0 35v7m0 14v1m14 44v7m0 41v7m0 33v3m0 4v5m0 3v6m2-95v4m0 24v7m0 15v5m2-219v3m0 22v8m0 0v4m2 94v4m2 53v7m0 0v3m0 3v3m0 0v4m0 20v3m0 21v5m0 5v2m4-233v7m0 10v4m0 17v7m0 21v4m2-104v5m0 29v5m0 91v3m4 16v3m0 15v6m0 0v5m0 11v5m0 65v5m4-257v7m0 5v4m0 7v6m0 36v5m0 0v5m0 14v6m2-88v4m0 14v5m0 64v1m0 11v5m0 0v7m0 5v5m2-1v5m0 61v7m0 26v6m2-89v7m4-147v4m0 18v4m8-30v3m2 54v6m2 76v7m0 79v3m0 0v4m2-89v5m0 20v7m0 0v3m0 52v8m4-163v3m2 77v4m0 45v3m0 27v6m2-87v5m0 21v7m0 5v6m0 0v7m6-178v3m0 31v6m0 5v6m2 133v7m0 5v5m0 3v3m2-211v4m2-11v6m4 152v7m0 19v6m2-61v5m0 77v2m6-157v6m2-35v3m8 1v4m0 16v3m0 97v4m2-105v6m0 7v3m0 147v3m6-53v6m0 26v7m2-6v4m2-117v2m6-74v3m0 143v2m2-138v4m6 127v5m0 20v3m0 18v4m2-196v7m0 30v5m0 94v4m2-100v4m14 104v3m0 5v4m2-7v3m0 9v5m0 4v5m0 10v3m0 19v5m2-224v6m4 12v7m0 169v5m0 8v5m2-194v7m4-35v7m0 0v4m0 10v3m0 23v5m4 114v4m0 62v4m4-218v6m0 0v5m0 15v6m2-44v3m2 202v6m2-39v6m12-189v5m2 20v4m8-10v6m2-16v3m0 196v3m8-206v5m2 176v4m18 31v5m18 3v4" stroke="#aaaaff" stroke-width="2.0" fill="none"/>
<path transform="scale(.5)" d="M117 887v4m2 1v4m16-5v5m44-6v3m10-53v4m0 50v7m24-151v3m0 88v6m10 36v7m0 8v4m8-37v5m0 11v4m0 17v5m0 0v3m2-82v7m8-18v6m0 26v3m0 55v3m2-195v4m2 44v3m4-109v7m0 172v5m0 0v6m0 2v8m0 40v4m2-73v6m2-176v5m0 6v3m0 18v5m0 27v3m2-77v5m0 5v7m0 14v4m0 7v5m0 28v3m0 20v3m0 0v6m2 102v5m2-30v7m0 22v3m0 15v6m8-59v5m0 0v3m8-19v3m0 33v4m0 15v7m0 0v3m0 5v5m0 11v3m2-100v5m0 54v5m4-224v7m0 0v6m0 82v6m0 4v3m2-134v4m0 3v6m0 40v4m0 3v5m2 115v6m0 60v6m0 0v4m0 0v5m0 11v4m0 0v3m6-268v2m0 0v7m0 103v6m2 76v7m0 14v5m0 5v6m0 5v5m0 11v6m2-72v3m0 77v5m4-247v8m0 32v4m10 6v4m0 0v3m0 5v3m2-92v6m0 35v3m0 47v4m0 102v7m8-151v7m0 171v3m0 0v4m2-220v5m0 101v2m0 114v6m2-191v5m2-50v4m2 0v3m0 6v7m0 44v6m0 41v5m2-62v5m0 145v4m8-222v3m0 155v7m0 78v3m2-234v3m0 69v5m0 107v4m0 40v7m8-33v5m2-223v3m2 116v8m4 23v6m0 85v7m0 9v8m8-48v4m2-57v6m0 16v7m0 66v5m0 0v1m2-262v6m6 198v5m8-58v5m0 95v5m2-54v4m2-132v3m4 146v5m0 5v5m2-101v5m0 20v3m0 10v4m0 22v6m0 37v5m2-260v5m0 82v2m2 32v5m4 128v5m4-259v3m2 53v3m0 7v6m4 93v6m0 51v5m4-200v5m0 19v6m0 0v7m0 7v6m0 17v6m4 79v2m0 32v5m4-162v5m0 54v5m2-116v7m0 67v6m2 68v7m0 13v6m0 0v8m0 17v6m0 48v3m2-261v7m0 152v4m0 34v3m0 7v5m0 33v4m0 7v5m4-196v5m0 0v6m2 95v6m0 17v6m2 40v7m8-244v4m0 145v5m0 22v4m0 13v3m0 56v3m8-255v3m0 15v7m0 56v7m0 70v6m2-11v4m0 68v5m6-233v5m2 57v7m0 114v5m0 0v5m0 36v5m2 14v6m4-147v4m2-96v6m2-21v4m6 159v4m0 29v5m0 31v6m2-27v3m2-44v2m6 16v3m0 39v5m0 0v4m8-71v6m0 14v4m2-138v5m0 137v7m0 32v5m2-163v7m6 145v4m0 6v6m0 0v3m6-176v7m0 0v6m2 134v6m4-218v4m0 22v5m0 3v4m0 0v3m0 27v7m2-23v4m2 169v6m2 7v1m2-224v2m0 34v6m0 6v6m10-76v3m0 15v3m2-15v7m2 2v7m0 169v7m2-14v4m0 11v6m0 5v4m0 3v5m0 5v2m0 13v3m8-17v6m4-222v6m0 4v7m0 12v5m2-37v6m0 19v4m0 0v4m2 177v4m2 6v6m8 4v3m8-25v4m18-24v3m16 2v2m0 8v3m10 21v1" stroke="#9f9fff" stroke-width="2.0" fill="none"/>
<path transform="scale(.5)" d="M135 932v3m10-57v5m8 35v3m0 0v7m8-43v4m2-25v2m0 59v2m6-4v3m2-66v6m0 50v5m16-80v5m20 31v4m6-45v5m10-123v3m0 139v6m8-40v5m2 21v7m0 11v2m8-38v6m0 21v3m0 29v4m6-274v7m4 265v7m2-224v6m0 0v6m0 47v4m0 6v3m0 0v5m2-72v3m0 0v4m0 43v5m0 0v3m0 0v5m0 19v4m2 100v2m2-55v4m0 7v5m0 53v3m8-73v2m8-199v3m0 213v6m0 5v6m6-235v4m0 93v3m0 14v4m0 18v4m2-100v6m0 65v3m4-108v5m4 22v6m0 21v4m0 11v6m0 15v5m2 93v4m0 61v6m2-1v5m4-211v4m2-56v2m2 46v4m8 37v6m0 113v3m4 14v5m4-236v5m0 54v4m0 41v5m0 74v5m0 25v7m0 28v4m2-245v6m0 12v3m0 50v3m0 50v3m0 69v3m2-185v3m2-25v4m2 37v6m0 25v5m2-68v3m0 39v3m0 9v5m0 138v7m0 41v7m2-240v2m0 107v7m2-138v7m2 128v3m2-118v6m0 0v3m0 23v5m0 66v4m0 60v5m0 32v3m0 9v4m0 17v7m2-211v4m0 31v4m0 5v7m0 0v6m0 83v3m2-69v5m4 102v7m2-214v6m0 67v3m0 23v6m2-13v6m14 39v6m0 41v4m0 0v6m0 28v5m2-246v3m0 140v8m0 27v4m0 18v5m0 37v7m2-136v6m0 0v5m6 21v5m0 48v5m0 5v7m0 8v4m0 21v6m4-161v2m4 101v5m0 54v1m2-86v7m10-174v3m0 61v3m0 14v4m2-83v6m0 33v6m0 5v5m0 54v4m0 8v4m2-15v7m2-51v3m0 66v5m0 0v6m0 49v3m4-201v5m0 68v4m2-87v2m0 86v5m2 23v3m0 98v4m0 3v5m2 28v2m4-222v3m0 47v3m0 96v6m4-25v8m4-110v5m0 46v2m2-96v5m0 90v2m2 98v5m0 21v6m0 0v4m2-95v5m0 32v5m0 14v7m2-207v4m2 19v4m2 138v6m0 10v5m0 14v3m2-57v2m8-145v5m0 29v7m0 99v5m0 39v6m0 39v4m8-255v3m0 3v5m0 21v4m0 0v3m2 170v5m2-11v4m2-145v4m2-61v6m0 0v3m0 44v8m0 18v7m2-91v6m0 81v7m4 13v4m0 76v5m6-182v4m0 39v3m0 124v6m6 57v7m2-85v6m0 4v7m0 22v7m0 3v4m0 22v5m8-196v6m0 8v5m0 99v5m0 9v7m0 3v4m6-159v3m2-6v6m0 145v4m0 21v3m0 33v4m2-244v4m0 16v3m0 7v4m0 0v6m0 177v6m0 16v4m2-209v6m6 162v3m4-201v6m2-20v7m0 38v3m4-43v6m0 164v7m0 43v7m0 8v4m2-213v7m2-14v6m0 19v7m0 4v4m0 4v4m2 134v4m0 14v4m2-219v5m0 168v4m0 23v5m0 7v4m2-189v3m0 0v8m0 0v3m2-42v4m0 14v7m0 0v3m4 203v8m6-206v5m0 11v3m2 172v6m0 10v2m2-239v3m0 31v4m0 185v4m0 2v7m8 0v2m2-234v7m2 19v5m2-38v6m4 190v7m4-176v3m2-13v4m0 203v3m2-206v4m8 171v7m0 3v5m18-4v5m0 16v7m2-46v3m14 9v8m10 20v4" stroke="#9595ff" stroke-width="2.0" fill="none"/>
<path transform="scale(.5)" d="M117 911v4m2-30v4m6 14v5m0 20v7m10-68v6m10 57v2m8-53v3m18-27v5m0 37v6m16-40v6m2 42v6m8-64v6m12-189v3m0 75v6m4 75v4m2 44v7m8-196v6m0 134v5m0 57v5m8-18v4m0 15v6m2-30v4m0 13v5m2-68v3m6 46v7m8-263v4m0 234v6m0 3v3m0 32v5m4-259v4m0 64v7m2-80v3m0 8v5m0 68v7m2-45v5m0 123v7m0 56v4m0 9v8m2-36v3m8-253v5m0 269v6m10-92v2m0 34v7m4-232v3m0 25v3m0 66v3m4 91v7m0 35v4m0 0v5m0 2v7m0 33v5m2-252v4m0 88v3m4-128v6m0 15v6m0 36v6m0 50v5m2 129v5m2-183v4m0 122v5m0 8v7m2 16v3m2-221v3m4 229v5m6-190v4m6-39v3m0 65v4m4-77v6m0 235v4m2-191v3m0 18v3m0 108v4m4-176v2m0 60v7m2-50v6m2 13v3m0 115v5m0 10v3m2-170v3m2 1v6m4-23v6m0 0v6m0 15v5m0 11v3m0 23v3m0 86v7m0 0v4m0 24v3m0 0v6m0 11v4m0 3v3m0 11v3m2-238v4m0 94v4m4-14v7m2 92v4m0 30v5m2-48v6m2-175v5m0 85v6m4 25v6m2 6v5m0 37v3m8-68v6m0 74v7m2-42v5m0 30v3m0 22v6m4-131v4m0 129v2m4-213v5m0 129v6m0 0v6m0 0v6m0 56v4m4-178v5m4 139v5m8-89v4m0 83v5m0 16v5m2-103v3m2-106v8m0 0v5m2-29v7m2 19v4m2 109v3m0 21v6m0 21v5m0 12v4m4-231v7m2-5v3m0 54v7m2 158v7m2-199v6m0 15v3m0 92v7m0 31v3m0 5v5m0 5v4m0 4v6m0 12v4m2-176v7m2-81v3m0 67v7m0 124v4m4-68v5m0 45v5m8-134v6m0 40v5m0 46v7m0 23v8m2-126v7m0 65v3m0 5v4m0 32v6m2-166v4m0 6v7m2-36v3m0 31v2m0 6v8m0 14v6m2-66v2m0 3v5m0 67v3m0 130v8m0 4v3m2-48v5m0 26v3m0 20v2m0 6v4m2-18v5m6-200v4m0 99v3m0 47v7m2-143v5m2-58v8m4-7v5m2 161v8m0 37v6m0 7v3m0 12v5m2-86v7m2 26v4m0 24v4m2-188v6m2-13v3m4 178v4m4-6v3m0 6v6m2-209v5m0 180v3m0 0v4m0 0v3m0 19v7m0 7v1m6-15v5m0 7v2m2-81v4m8 23v2m0 0v4m0 5v5m0 0v4m2-145v7m4 123v6m2 22v7m2-49v7m2-184v3m0 30v4m2-15v7m8 38v3m4 124v3m0 0v5m0 18v5m0 7v3m2-175v7m0 105v4m0 39v5m2-221v5m0 0v4m0 51v4m2-50v4m2-11v5m0 158v7m2-15v4m0 8v5m0 0v7m0 42v3m2-218v7m0 14v3m2 14v7m0 4v1m4 140v7m0 5v3m8-207v3m0 12v6m2 7v6m0 177v2m4-220v3m4-21v7m0 230v4m6-216v4m2 175v3m2 5v5m8-4v6m6-196v2m2 199v4m0 5v7m10-14v4m8-12v4m8 5v5m2-11v4m0 10v6m6-19v5m0 3v3m2-28v4m0 6v3m0 6v7m0 0v6m8-12v4m0 0v6" stroke="#8a8aff" stroke-width="2.0" fill="none"/>
<path transform="scale(.5)" d="M117 918v5m8-32v7m2-16v2m8 2v5m26-37v3m0 60v5m2-49v6m0 21v3m8-34v7m0 35v5m8-3v2m8 0v5m2-48v5m0 12v5m14-37v5m6-186v4m0 46v3m4 104v3m0 48v7m0 25v3m10-207v3m0 151v7m2-30v5m6 41v7m2-76v6m0 58v5m8-49v4m0 38v4m0 15v6m6-252v7m0 49v6m0 172v8m2-205v5m0 136v3m0 53v8m4-269v3m0 20v7m0 14v3m0 0v3m0 21v3m0 23v5m0 0v7m0 28v3m2-73v6m0 17v5m4 165v7m2-247v3m4 2v5m0 0v6m10 138v7m0 0v6m0 51v4m2-221v4m8 46v2m0 178v3m4-194v5m2-33v6m2 135v4m2-104v4m0 89v7m2 63v5m4 28v2m2-42v6m2-197v5m10 16v6m4 96v3m0 0v7m0 20v7m0 0v3m2-39v3m0 0v6m0 0v7m0 50v7m2-192v6m0 0v4m0 34v3m2-78v3m2-16v6m0 32v5m2-32v6m0 29v5m0 109v5m0 26v3m0 30v7m0 24v6m2-259v7m0 28v4m4-18v3m2-42v5m0 64v6m0 0v5m0 96v3m0 38v6m2-207v3m0 32v5m0 75v3m0 30v3m0 4v7m0 3v7m0 14v5m0 22v5m2-95v2m0 55v5m2-70v4m0 29v6m0 44v6m2-26v3m0 23v3m2-88v6m0 19v6m0 0v4m0 40v4m0 6v5m0 20v5m0 0v7m6-206v4m2 128v3m0 52v3m6-63v5m2-152v5m0 32v5m0 116v4m0 64v6m2-254v2m0 157v3m0 45v7m8-47v5m0 3v7m8-25v4m0 73v4m8-81v3m2 27v5m4 46v7m4-110v4m0 29v4m0 33v6m6-210v3m0 34v4m0 45v4m2-89v6m0 14v5m0 21v5m0 76v2m0 121v1m2-79v4m0 4v7m0 47v7m4-233v7m0 73v1m4 109v3m0 22v4m0 0v7m2-135v7m0 0v5m4-50v5m2-61v6m0 93v5m0 48v3m2-136v5m0 12v3m0 128v6m2-138v6m0 37v4m2-63v5m2-10v7m0 15v7m0 0v2m0 33v3m0 59v4m0 85v3m2-102v5m4 76v4m2-184v5m2-39v7m0 44v5m0 81v3m0 85v4m0 0v7m4-249v4m0 38v7m0 30v7m2 25v2m2-56v7m0 101v6m2-109v5m0 39v6m0 71v7m2-124v6m4 125v6m2-194v6m0 152v6m0 0v5m0 0v3m4 51v7m2-175v5m0 99v7m2-9v5m0 63v7m2-74v6m0 14v3m0 40v3m0 13v4m6-95v6m0 65v4m2-126v1m8 97v5m0 36v6m10-189v3m0 18v6m0 79v6m0 0v5m0 3v7m2-182v5m0 15v5m0 17v3m6 131v6m6-122v5m2 116v6m0 4v5m0 22v7m2-214v7m2 13v3m4 28v3m2-27v3m0 172v3m2-175v4m2-52v3m0 4v3m0 44v3m4 8v5m0 123v7m0 7v7m6-189v7m2 155v4m2-178v5m0 161v5m2-188v3m2 12v4m0 21v5m0 0v5m2-23v7m2 158v4m4-182v2m4 179v6m0 14v5m2-23v3m6-9v5m0 30v5m6-230v5m2 0v4m0 0v4m6-7v7m0 0v6m0 202v5m4-3v4m2 13v3m6-32v4m2 7v3m2 14v3m4-1v1m2-40v5m8 20v3m0 6v5m2-29v3m8-7v5" stroke="#8080ff" stroke-width="2.0" fill="none"/>
<path transform="scale(.5)" d="M113 636v2m12 274v7m8-249v2m2 242v7m8-295v2m0 248v7m0 32v4m2-3v3m8-24v5m0 4v3m8-9v6m2-46v6m0 28v4m6-46v5m0 22v3m0 15v5m2-34v3m0 52v5m6-252v2m2 200v4m0 35v7m8-65v6m0 23v6m2 25v3m0 0v3m8-42v6m16-200v5m0 0v6m0 33v4m0 125v5m0 31v7m0 4v5m2-59v7m2-212v2m6 56v6m0 29v6m0 7v4m0 8v4m0 85v3m2-192v2m4 158v4m4-4v2m6-4v6m0 0v5m0 29v5m2-220v2m0 204v6m0 8v6m0 22v4m0 9v3m4-3v2m2-237v2m0 147v5m0 3v6m2-25v7m0 27v2m0 14v3m2-44v4m0 49v5m2-217v6m4 40v4m0 42v5m0 81v7m0 23v8m0 24v6m2-215v5m0 126v2m6-71v5m0 70v6m10-9v3m0 49v5m2-179v8m0 145v4m2-139v4m4 9v7m2-60v4m0 128v6m0 65v3m2-270v2m0 16v4m0 12v4m0 67v7m2-110v5m2 166v4m0 0v6m2-97v5m0 122v5m2-212v5m2 74v7m2 91v4m2-70v1m0 76v3m2-160v4m0 21v6m0 197v3m4-199v6m2 31v4m2 143v4m4-252v6m0 41v5m0 16v4m0 23v6m0 59v7m2-104v5m0 93v5m0 4v6m2-17v5m0 26v4m0 17v4m2-205v6m0 16v3m0 16v4m0 0v7m0 0v7m0 128v3m2-208v8m0 37v5m0 19v3m0 2v3m0 15v6m0 3v8m2-94v4m0 105v3m2-133v7m0 44v3m2-34v7m0 6v6m0 63v6m0 112v2m0 30v6m6-185v6m0 54v5m0 27v6m2-6v4m2-166v4m0 211v6m0 0v5m0 29v4m2-93v3m2-37v3m0 129v4m2-142v4m0 35v6m0 30v4m0 61v5m2-41v3m4-114v4m4 60v5m4-189v3m0 6v4m0 49v5m0 82v7m4 3v6m0 26v8m4-16v3m0 25v4m0 29v7m0 5v5m2-82v5m4-87v6m0 56v2m0 77v8m8-206v6m0 177v4m8-183v8m0 41v4m0 124v7m4-211v4m0 17v3m4-29v3m2 144v1m0 39v4m2-206v6m2 38v4m0 34v5m0 4v5m0 21v4m2-84v4m0 18v7m0 6v4m2 37v7m8 25v5m0 11v7m2-12v6m0 0v6m0 50v6m0 29v3m0 0v5m2-138v2m2-14v4m0 7v2m2 126v4m2-249v5m0 19v5m0 0v7m0 47v5m0 5v1m0 87v6m2-163v7m0 58v5m0 71v4m0 37v3m2-192v8m2-10v6m0 6v4m2-31v2m0 31v6m0 18v6m0 10v7m0 0v7m0 129v4m0 8v4m2-193v3m2-9v7m0 145v7m2-105v4m0 51v7m0 16v6m0 16v2m4-28v4m0 12v5m0 4v4m0 28v5m0 5v3m2-242v5m2 6v4m0 41v7m2-30v4m2 11v3m0 0v6m2-45v6m0 179v6m0 20v4m2-31v7m2-167v5m0 46v5m0 7v1m0 68v8m0 47v7m2-61v6m0 5v3m4-182v5m2 10v4m0 65v7m0 64v4m0 37v4m4-89v3m0 73v6m0 0v4m0 0v8m0 7v7m0 18v3m2-50v3m0 56v3m6-142v2m0 70v7m2-27v7m0 57v5m0 22v3m6-253v6m2 213v5m4-188v6m0 22v7m2 121v6m2-44v2m0 8v5m2 11v3m4-33v2m0 10v2m8-159v5m0 27v4m0 111v2m2-136v5m0 3v4m0 120v2m2-109v4m0 168v5m2-189v7m0 0v4m0 11v3m0 0v7m0 5v5m0 116v2m0 0v3m2-44v2m4-99v3m0 121v5m0 24v3m2 1v7m2-205v7m2 16v5m4 22v2m0 94v2m8 81v3m2-218v5m0 33v2m0 80v2m0 47v5m2-147v6m2-12v4m0 27v2m0 0v2m0 143v5m2-230v5m0 32v3m2-25v5m0 56v2m0 122v4m2-158v3m0 132v3m4-28v2m2 28v6m0 6v4m0 26v5m2-43v4m0 3v3m2-132v2m0 76v2m2-141v6m0 139v2m2-2v2m0 49v7m0 32v1m2-248v6m0 39v2m0 158v6m0 16v3m0 0v7m4-229v5m0 22v2m0 116v2m4-2v2m0 76v5m0 7v4m2-247v6m2-2v5m0 140v2m0 87v7m2-38v3m2-171v2m0 167v6m2-157v2m0 98v2m0 45v6m0 0v6m0 8v5m6-210v2m0 211v4m4-207v2m0 0v2m0 4v2m4 200v5m2-209v2m0 186v7m2-2v6m4-79v2m0 58v3m2-69v2m2-114v2" stroke="#7575ff" stroke-width="2.0" fill="none"/>
<path transform="scale(.5)" d="M117 896v6m6-248v2m2 227v5m0 20v4m8-262v2m2 226v8m0 10v6m6-258v2m2 279v5m2-59v7m6-240v2m2 242v5m0 0v8m6-263v2m2 276v7m6-257v2m2-34v2m2 219v6m0 48v4m4-251v2m0 234v4m2-274v2m2 225v5m0 10v3m0 13v6m0 36v3m4-275v2m4-36v2m0 284v3m2-4v4m0 0v6m2-267v2m2 109v6m2-149v2m2 264v3m0 19v4m2-264v2m0 258v5m2-305v2m6 32v2m0 226v5m0 41v5m2-157v3m4-161v2m0 76v5m0 82v2m0 126v5m2-266v2m0 196v6m0 50v4m8-264v2m0 41v3m0 62v4m0 22v3m0 72v4m0 78v2m2-321v2m6 20v2m0 201v5m6-234v2m0 257v6m0 18v5m2-266v2m0 199v6m2-160v4m0 187v3m0 31v7m2-45v6m4-241v3m0 251v5m0 0v4m0 31v3m2-310v16m0 57v3m0 197v8m0 0v3m0 0v5m2-286v13m0 9v6m0 7v4m0 14v3m0 79v6m0 96v6m0 21v8m2-254v4m4 16v6m0 181v6m0 28v4m2-167v4m0 24v5m2-125v9m0 15v3m0 123v4m14-52v3m2-103v3m2 38v5m4-49v10m0 134v2m0 72v7m2-158v6m0 31v5m0 119v5m2-232v9m0 54v6m0 38v3m2-100v5m0 227v3m2-248v12m0 276v3m2-292v13m0 17v3m0 88v7m4 100v6m2-67v2m0 97v3m2-122v2m0 12v2m0 87v5m0 0v7m0 0v4m2-195v3m0 85v2m0 56v5m0 5v5m0 28v5m0 26v5m2-155v2m4-84v7m2 103v2m2-67v7m0 0v7m2-70v3m0 8v7m0 8v6m0 116v4m0 28v4m2-61v2m2 75v6m2-188v3m0 0v4m0 212v6m2-284v3m2 12v3m0 0v4m0 11v5m0 2v7m0 23v4m0 68v2m0 6v2m0-2v2m0-2v2m2-129v7m0 42v5m0 79v2m2-161v9m0 67v7m0 8v3m0 18v8m0 24v1m0 27v8m0 5v4m0 48v7m2-149v7m2-53v5m0 214v3m2-207v4m0 63v3m0 120v5m2-223v5m0 46v4m0 13v6m0 117v4m0 16v7m2-254v9m0 257v6m2-111v2m0 51v4m0 23v4m2-247v11m0 74v7m0 173v4m2-275v17m0 186v3m0 68v7m2-91v5m0 23v4m0 20v3m2-236v8m4-17v17m0 171v7m0 30v7m4-66v4m0 42v6m2 45v5m4-262v11m0 71v6m0 79v7m0 95v5m0 0v4m2-178v7m0 21v4m4-129v8m0-8v8m0 181v4m0 14v7m2 50v5m2-231v7m0 121v6m2 92v6m4-274v12m0-12v12m0 3v3m2-22v16m0 144v3m0 30v4m0 7v7m8-204v9m0 38v3m0 107v5m0 16v7m2-119v7m6-59v4m0 16v5m2-28v5m0 7v8m0 25v4m0 35v6m0 123v4m0 13v5m2-237v8m0 53v7m2 39v4m2-120v9m0 12v7m0 3v4m0 20v4m2-57v6m0 76v6m2-97v16m0-3v5m0 0v4m0 31v5m0 40v5m0 7v2m2 54v4m0 17v4m0 29v6m2-227v17m0 78v7m0 68v4m0 33v7m0 9v4m4-67v7m0 50v4m2 5v4m2-36v3m2-194v14m2 42v4m0 0v5m0 18v3m0 148v5m0 11v5m2-229v5m0 144v3m0 55v4m4-224v6m0 3v6m0 27v6m0 8v3m2-64v5m0 23v3m0 20v2m0 97v7m0 8v5m2-179v15m0-13v13m0 164v6m0 43v4m2-134v4m2-28v6m0 69v7m0 29v4m4-24v5m2-147v8m0 142v1m2-131v6m0 24v6m0 7v3m0 68v4m2-151v6m2 58v5m2-74v10m2 23v8m0 11v6m0 53v3m0 105v6m2-227v12m0 42v3m0 154v6m2-214v9m0 31v8m0 109v7m0-1v3m0 44v4m0 3v7m0 24v4m2-97v7m0 38v4m0 39v4m2-255v17m0 2v2m0 150v2m0 40v4m2-210v10m0 170v6m2-179v6m2 236v3m2-231v6m0 138v7m2 57v6m0 13v4m2-85v3m0 28v3m2-27v1m2 27v5m0 23v5m0 0v8m2-49v7m0 36v7m2-250v16m0 98v1m2 63v4m2 22v3m4-141v6m2-67v11m0 14v4m0 14v6m2-6v5m2-44v5m0 213v4m0 26v1m2-249v7m0 54v7m2-64v7m0 55v5m2-81v17m6 38v4m0 20v6m0 105v4m0 36v4m2-213v6m0 36v4m0 189v2m2-253v3m0 171v4m0 6v5m0 10v4m0 5v3m2-159v5m2-52v7m0 164v5m2-173v6m0 23v7m0 0v5m0 177v3m2-176v4m2-43v3m0 57v3m0 4v2m0 148v7m2-215v4m2 17v4m0 4v4m4-54v10m0-10v10m0 176v7m4-195v12m0 181v2m0 30v6m2-48v4m0 23v4m2-212v10m2-11v11m0-9v9m0 11v2m2-22v9m2 235v2m2-237v5m2 24v4m0 168v7m0 0v5m0 0v8m2 6v3m2-238v8m4 11v4m2-24v7m2-12v14m0 213v3m2-211v5m2-18v8m0 191v4m0 37v2m2-47v3m0 34v8m2-223v3m4-29v17m0 8v5m2 186v3m2-213v11m2 201v3m4 2v7m2-10v5m10-9v7m0 16v7m2-33v5m0 18v4m12 0v3m8 1v3m2-19v4" stroke="#6a6aff" stroke-width="2.0" fill="none"/>
<path transform="scale(.5)" d="M117 915v3m2-22v5m0 0v5m8-15v4m2 14v5m4-49v5m2 36v3m8-26v4m2 18v5m6-28v7m2-20v2m0 57v1m8-56v3m0 18v4m2-45v3m0 10v7m0 8v6m0 0v5m4-32v6m2 41v6m0 3v7m2-47v4m8-35v4m0 8v4m0 0v3m0 3v6m8 47v4m10-65v7m0 38v6m8-61v6m2-19v7m0 13v6m0 30v3m2-209v5m0 167v5m2-4v4m2-195v2m0 195v6m2-22v4m8-173v4m0 63v4m0 10v2m10 139v7m2-88v5m0 21v6m0 13v8m0 15v4m0 0v3m2-58v5m0 24v8m0 5v5m0 0v3m2-41v4m2 13v5m2-15v4m0 2v3m2-39v8m0 9v7m0 18v6m0 0v3m2-170v6m0 6v7m0 5v7m0 12v5m0 7v6m0 95v6m0 9v6m0 28v1m2-91v3m0 0v6m0 0v4m0 73v5m2-211v7m0 6v4m0 43v5m0 47v4m0 0v6m0 24v5m0 58v1m2-296v7m0 10v6m4 98v7m2-33v7m2-23v4m0 2v4m0 24v5m0 14v5m0 10v7m4-145v7m0 185v1m2-185v4m2 25v5m6 23v4m0 107v7m0 84v5m2-233v6m0 66v7m0 146v7m4-30v5m4-204v6m0 0v2m0 18v8m0 2v3m0 0v6m0 172v5m2-242v5m0 11v5m0 66v6m2-129v8m0 10v5m2 163v6m0 2v2m4-94v7m2-58v3m0 132v7m0 46v6m0 28v5m2-23v5m0 13v3m2-16v4m0 4v4m2-233v6m0 188v6m0 28v3m0 0v6m4-271v3m0 55v5m0 42v6m2 61v7m4-90v4m0 166v2m2-253v3m0 29v3m0 26v4m0 121v7m2-187v7m0 21v6m0 0v2m0 46v6m4-105v7m0 11v3m0 17v8m0 128v6m0 47v7m2-232v4m0 23v5m2-36v6m0 4v6m0 34v3m0 10v3m0 0v5m0 7v5m0 16v4m2 0v7m0 0v4m0 94v3m2-206v6m0 0v4m0 26v4m0 6v6m0 80v5m2-103v7m0 35v5m0 30v3m2 16v7m0 42v6m2-182v7m0 7v3m0 41v2m0 45v3m0 16v3m0 38v7m0 42v4m2-219v3m0 0v3m0 76v3m0 40v5m2-95v4m0 69v2m2-56v3m0 113v7m0 24v4m2-213v3m0 57v3m0 78v3m0 66v7m0 49v4m0 4v7m2-267v6m0 13v3m0 141v3m2-4v5m0 5v5m0 87v2m2-15v6m2-28v3m2-147v7m0 6v2m2-95v7m0 114v3m4 22v3m2-70v7m0 68v1m2-80v3m0 36v7m0 18v6m4-12v6m0 24v6m0 55v6m2-169v7m0 88v3m0 26v3m0 53v4m2-105v5m0 7v6m2-22v4m0 75v3m0 4v2m6-229v7m8-19v5m0 13v3m0 39v5m0 22v4m2-68v3m2 48v4m0 59v5m2-115v7m0 95v5m0 0v4m4-139v4m0 70v2m0 12v3m0 0v5m0 7v2m2-107v5m0 15v3m0 20v5m0 22v5m0 26v5m2-79v3m0 111v3m0 65v7m0 35v3m2-248v4m0 29v4m0 20v4m2-64v4m2 69v2m2-76v4m0 13v6m0 45v4m0 25v4m0 60v5m2-131v6m0 72v7m0 20v7m0 53v6m0 33v7m2-209v5m0 114v4m0 22v7m0 28v4m0 36v6m4-81v6m0 12v7m0 18v5m0 17v7m2-172v5m6-89v8m0 142v6m2-112v6m0 0v6m0 35v6m2-6v7m0 66v2m2-137v6m0 60v4m0 73v7m2-151v3m2 182v4m2-51v5m0 0v7m2-172v3m0 6v5m0 12v3m2 119v7m0-4v7m0 4v2m2 44v5m2-207v5m0 35v4m0 27v4m0 0v5m2-91v3m2-4v4m4 163v3m0-2v4m2 28v5m0 33v7m2-177v5m0 100v7m2-71v6m0 49v2m0 28v7m0 36v5m0 10v5m2-90v4m2-96v5m0 0v7m0 107v4m0 11v4m2-143v6m0 177v3m2-210v7m0 35v5m2 65v6m0 0v6m0 47v3m2-43v5m0 19v6m2-173v4m2-34v4m0 3v6m0 13v5m0 7v4m0 190v5m0 0v6m2-88v7m0 10v4m0 46v4m2-46v5m0 0v7m4-143v6m0 156v5m2-56v3m0 58v3m2-66v7m0 72v6m6-175v6m2-1v5m4-28v5m2-27v4m2-31v3m2 19v8m0 35v6m0 93v7m4-154v4m0 5v7m0 19v7m2-33v4m0 10v5m0 9v3m0 0v4m2-11v6m0 4v2m2-40v5m2 22v7m2-50v6m0 36v4m0 147v5m0 36v4m2-9v6m2-232v4m0 32v7m4 164v5m6-35v2m0 27v4m0 7v3m2-37v6m4-193v7m0 20v2m0 15v6m0 153v5m2-172v6m0 172v5m2-20v5m0 31v1m2-238v5m0 7v3m0 8v2m0 201v6m2-208v6m0 9v5m0 129v3m2 10v7m2 9v7m2-29v6m0 25v5m0 18v3m2-54v7m0 18v7m2-186v3m0 178v3m0 4v4m0 9v6m2-57v4m0 17v3m2 1v3m2-196v7m0 190v7m2-12v4m0 17v4m0 0v5m2-232v4m2 1v4m2 211v4m4-225v5m2-8v5m0 0v8m2 175v3m0 0v6m0 11v7m2-3v5m2-23v5m2 25v5m4-18v8m4 0v4m0 12v1m2-36v3m2 6v3m0 7v4m4-22v7m4 0v7m4-3v4m4-17v5m0 20v5" stroke="#6060ff" stroke-width="2.0" fill="none"/>
<path transform="scale(.5)" d="M113 905v4m4-7v6m2-19v3m0 14v6m0 11v6m2-47v5m4 48v3m2-64v8m0 13v5m8 9v5m2-42v5m8 13v5m0 5v5m8-40v4m0 2v8m8-18v7m0 21v5m0 10v6m0 12v3m2-8v4m2-16v8m2-66v6m4 54v4m2-69v3m2 63v6m2-51v5m2 5v3m0 17v6m0 7v7m4-2v5m2-42v6m2-29v6m0 12v6m0 0v5m0 0v6m0 10v3m2-29v2m2-37v6m0 64v3m2-32v6m4-8v4m0 19v3m2 5v7m0 0v5m6-44v3m0 16v6m2-66v4m0 11v4m0 20v6m0 4v7m2-115v5m4-70v4m2 122v4m0 0v7m0 0v4m0 21v4m0 0v3m0 32v4m8-229v4m0 87v5m12 94v5m0 34v2m2-22v7m2-232v7m0 209v6m0 7v3m2-77v5m0 0v6m2-17v7m0 2v4m0 0v7m0 5v6m0 10v2m0 9v6m0 13v5m2 4v3m2-270v4m0 0v4m0 39v4m0 5v5m0 6v8m0 19v5m0 171v7m2-210v5m0 7v4m0 30v6m0 0v6m2-142v5m0 74v4m0 138v6m0 21v6m4-27v6m2-153v6m2-63v6m2 69v5m0 117v5m2 29v5m2-252v3m0 7v4m0 93v3m0 21v5m0 52v7m2-120v2m0 13v3m8-49v4m0 35v6m0 11v6m0 15v6m0 0v5m0 54v3m2-92v7m0 170v5m2-255v6m0 17v6m0 5v6m0 25v4m2 156v3m2-69v6m2-172v6m0 45v3m0 49v6m2-119v4m0 76v4m0 0v3m2-65v5m0 6v3m0 30v5m2 161v5m2-179v3m0 3v5m2-25v3m0 31v6m2-89v6m0 229v7m0 11v7m2-87v3m0 4v2m0 25v6m0 0v4m0 37v3m2-79v7m0 10v7m2-211v5m0 36v3m0 134v6m2-169v3m0 40v3m0 0v5m0 0v6m0 22v2m0 4v6m0 4v4m2-117v4m6 17v8m0 154v6m2 53v3m2-177v5m0 21v6m0 73v3m0 5v5m2 92v2m2-272v5m0 37v5m0 198v3m2-216v6m0 70v4m2-38v4m0 6v6m0 7v4m0 25v5m0 0v3m0 37v6m0 80v5m0 6v5m2-273v6m0 68v5m2-43v6m0 50v3m0 163v6m2-274v7m0 8v6m0 86v6m2-113v6m0 27v6m0 24v3m0 64v6m0 7v1m0 126v5m2-206v7m2 133v7m2-50v5m2-58v3m0 101v3m0 3v3m2-187v5m0 33v5m0 7v5m0 74v6m0 31v5m0 13v7m2-117v3m0 70v4m0 0v4m0 17v7m0 12v5m0 42v3m2-107v3m0 1v1m0 82v6m4-165v5m0 116v3m0 39v4m4-242v6m0 0v7m0 60v7m2 113v5m0 45v5m2-264v4m0 46v7m0 125v7m0 20v3m2-204v7m0 151v5m0 72v7m2-209v6m0 0v7m0 76v2m4 49v5m2-178v5m0 51v6m0 73v6m0 41v4m0 40v2m0 0v5m0 0v4m0 9v7m2-237v4m0 117v4m0 5v5m0 43v7m0 23v5m2-212v3m0 39v3m0 104v3m0 42v5m0 23v5m2-127v3m0 71v7m4-195v7m2 47v3m0 41v5m6 30v6m2-80v5m0 3v4m0 0v6m2-50v6m0 78v7m6 8v4m0-1v5m0 51v8m0 22v6m2-209v6m0 0v3m0 8v5m0 19v6m0 0v5m0 3v6m0 93v4m2-133v6m0 28v6m0 32v3m2-79v3m0 95v5m2-114v7m0 41v3m0 154v7m2-205v5m0 10v5m0 0v5m0 83v5m2-129v6m2-33v3m0 0v7m0 5v3m0 0v5m0 26v3m0 127v5m0 30v6m2-211v6m0 143v4m0 69v3m0 4v6m0 0v7m2-106v3m0 0v8m0 51v4m2-68v5m0 15v3m0 16v7m0 35v6m4-11v6m2-83v6m4-147v5m0 0v7m2-19v2m0 0v6m0 27v6m0 25v4m0 3v4m0 6v4m0 67v3m2-60v2m0 12v6m2-45v7m0 79v6m2-130v5m0 34v3m2-66v6m0 5v8m0 55v6m0 68v3m0 37v3m2-194v6m0 25v6m0 28v7m0 31v3m0 68v3m0 6v3m0 59v6m2-97v5m0 79v5m2-79v8m2-179v6m0 0v4m0 80v7m2-56v3m2-12v5m0 0v6m0 32v4m0 0v8m0 0v5m0 64v4m2-69v5m0 61v5m2-149v4m0 69v6m2-95v3m0 78v3m0 0v5m0 63v7m0 27v8m0 57v3m2-254v8m0 47v5m0 14v6m2-2v3m0 92v5m0 3v7m2 31v7m0 22v7m2-236v3m0 30v6m0 187v6m2-252v3m0 27v3m0 27v3m0 137v5m0 26v7m2-234v4m0 6v7m0 0v4m0 70v3m0 62v6m2-7v7m0 0v6m0 81v4m2-147v4m0 82v7m0 6v4m4-185v4m0 78v3m0 44v6m0 39v6m0 0v2m0 25v3m2-220v7m0 24v6m0 40v1m0 120v5m4-174v6m0 129v6m0 57v5m0 0v4m2-254v4m0 201v3m2-45v8m0 21v4m0 24v3m2-47v1m0 50v7m4-216v6m0 195v7m0 11v5m2-221v4m0 10v5m2 15v3m2 5v3m2 126v3m4-162v5m0 0v8m8 138v7m2-182v4m0 10v3m0 53v7m4 120v7m2-211v5m0 75v2m0 95v4m0 16v7m2-175v4m0 14v3m0 17v4m0 126v6m2-168v5m0 34v4m2 153v6m6-191v6m0 130v3m2 29v6m4-5v5m4-217v5m0 24v4m0 22v4m2-55v6m0 5v7m2-23v3m0 18v8m0 21v4m0 0v2m2-6v3m0 175v6m2-215v3m0 23v6m0 152v5m0 30v4m2-13v5m2-53v5m0 15v7m2 33v2m2-11v4m2-12v5m0 6v5m0 0v3m2-213v4m0 189v5m6-217v3m0 191v5m2 20v3m2-226v3m0 179v6m8 34v3m6-38v4m0 34v5m2-43v5m0 0v3m0 20v6m2-26v5m0 15v3m0 6v5m2-24v7m0 11v6m4-23v4m0 3v5m6 9v5m6-2v1m6-31v7m4-9v4m0 8v7m2-14v8" stroke="#5555ff" stroke-width="2.0" fill="none"/>
<path transform="scale(.5)" d="M117 891v5m2 16v4m6 3v5m2-40v3m0 18v3m0 6v8m16-59v6m0 18v7m2-11v4m0 23v6m8-16v4m6 8v5m2-60v4m0 21v3m2-29v2m0 45v6m2-50v5m6 21v6m0 0v6m2 16v3m0 6v4m6-40v4m2-17v4m6 28v4m0 0v6m2-222v3m0 148v3m0 17v6m2-156v3m0 181v3m2-167v5m0 22v4m0 117v4m4-210v3m0 0v3m0 0v4m0 0v4m0 0v5m0 0v5m0 0v2m0 0v2m0 0v3m0 0v3m0 0v3m0 0v4m0 0v5m0 0v4m0 0v6m0 0v4m0 5v4m0 0v4m0 0v2m0 0v6m0 3v3m0 0v2m0 0v5m0 0v4m0 0v2m0 66v5m2-173v4m0 0v3m0 0v4m0 0v5m0 0v4m0 0v3m0 0v4m0 0v6m0 0v4m0 0v5m0 0v5m0 0v5m0 0v6m0 0v4m0 0v6m0 0v4m0 0v6m0 0v2m0 0v4m0 0v2m0 0v2m0 0v6m0 0v4m0 0v6m2-35v3m0 6v4m2-74v5m0 0v4m0 3v5m0 3v4m0 0v3m0 7v3m0 16v3m0 4v4m0 13v5m0 9v6m0 104v8m2-219v2m0 28v3m0 0v4m0 4v3m0 0v3m0 0v4m0 0v5m0 6v4m0 0v3m0 10v3m0 0v3m0 0v3m0 0v4m0 16v3m0 115v4m0 10v5m2-242v3m0 5v3m0 21v4m0 5v6m0 5v2m0 0v5m0 0v5m0 0v5m0 0v3m0 10v4m0 0v2m0 0v5m0 2v5m0 9v3m0 80v4m0 17v4m0 9v7m0 5v7m0 0v1m2-219v5m0 25v5m0 41v6m0 2v3m0 95v5m2-125v5m0 86v4m2-157v6m0 45v4m0 16v5m2-97v4m0 13v3m0 30v5m0 5v6m0 0v4m0 5v2m0 3v4m0 17v5m0 116v6m0 4v5m0 0v1m2-239v2m0 42v6m0 24v6m0 107v5m2-207v3m0 11v5m0 4v3m0 0v3m0 0v4m0 5v3m0 16v5m0 6v2m0 0v6m0 0v2m0 2v5m0 10v3m0 0v3m0 8v3m0 0v5m2-118v3m0 0v4m0 0v2m0 10v5m0 0v5m0 5v3m0 12v4m0 6v2m0 6v3m0 0v6m0 12v6m0 0v3m0 0v5m0 11v4m0 50v7m0 49v5m2-222v4m0 3v3m0 35v3m0 33v3m2-92v5m0 0v4m0 0v5m0 0v5m0 0v3m0 0v4m0 0v6m0 0v4m0 3v3m0 0v2m0 0v5m0 0v5m0 3v6m0 0v5m0 0v3m0 0v6m0 0v4m0 0v5m0 0v5m0 5v3m0 0v4m0 0v4m0 0v3m0 0v2m0 5v2m0 0v2m2-122v4m0 0v5m0 0v5m0 0v2m0 6v4m0 0v6m0 0v2m0 4v2m0 0v5m0 19v4m0 0v4m0 19v2m0 12v5m0 2v2m0 46v5m0 80v5m2-240v2m0 9v6m0 11v4m0 0v5m0 11v2m0 0v4m0 0v4m0 0v5m0 9v5m0 2v5m0 16v5m0 0v1m2-109v5m0 0v4m0 0v3m0 0v5m0 6v4m0 6v3m0 0v4m0 3v2m0 0v4m0 0v4m0 0v2m0 4v3m0 0v5m0 0v4m0 17v4m0 10v3m2-115v3m0 0v6m0 0v2m0 6v6m0 3v4m0 15v3m0 0v5m0 0v4m0 0v6m0 0v2m0 16v4m0 8v4m0 0v3m0 9v3m0 0v1m2-114v3m0 0v6m0 0v3m0 4v3m0 0v5m0 0v5m0 0v2m0 0v5m0 0v5m0 0v2m0 0v3m0 0v2m0 0v4m0 0v2m0 0v3m0 0v5m0 0v5m0 0v5m0 0v6m0 0v3m0 0v6m0 0v5m0 0v5m0 0v4m0 0v3m0 0v3m0 0v4m0 141v4m2-253v3m0 4v2m0 0v4m0 0v3m0 0v6m0 6v4m0 6v5m0 0v4m0 0v3m0 0v3m0 0v4m0 0v5m0 0v6m0 0v5m0 0v4m0 6v5m0 6v5m0 0v4m0 0v2m0 92v4m0 39v3m0 0v8m2-148v1m0 76v7m0 4v6m0 15v3m0 0v5m0 27v5m4-49v6m0 12v7m0 20v4m2-80v6m0 18v7m0 16v3m2-235v4m0 169v4m0 21v3m0 0v4m0 34v3m0 8v3m2-262v6m0 121v2m2-134v5m0 21v5m0 16v5m0 0v7m0 25v6m0 42v3m0 83v4m0 0v6m8-214v5m0 26v6m2-43v7m2 166v7m0 68v3m2-242v3m0 11v3m0 51v7m2-99v5m0 21v5m0 18v7m0 6v7m0 115v3m2-128v3m0 27v4m0 18v4m0 20v5m2 36v5m0-4v6m2-10v6m0 43v3m2-213v4m0 17v2m0 91v3m2-127v7m0 0v4m0 37v7m0 58v6m0 12v3m2-107v4m0 54v7m0 28v8m0 99v5m2-66v8m0 0v4m0 0v6m0-3v1m0 2v6m0 77v5m2-87v6m2-140v5m0 37v3m2-113v4m0 72v3m0 55v4m0 56v3m0 37v8m2-199v3m0 41v7m0 95v5m2 83v4m2-171v3m2-57v4m2 8v5m0 110v5m0 20v5m0 13v6m0 53v3m0 0v1m2-102v5m0 4v5m0 10v7m0 10v4m0 52v5m2-63v4m0 9v3m2-226v8m0 42v5m0 129v4m0 39v3m0 31v6m2-263v6m0 72v4m0 82v3m2-169v4m0 0v5m0 0v4m0 19v6m0 0v5m6-49v5m0 44v4m0 6v5m0 44v2m2-76v5m0 133v3m0 44v5m2-230v3m0 124v2m0 50v1m2 48v6m0 17v5m0 17v5m2-263v3m0 30v4m2 20v2m0 99v6m2-134v4m0 0v6m0 27v3m0 153v4m2-216v6m0 48v3m0 131v6m0 7v7m0 16v3m2-259v3m2 85v3m0 19v4m0 111v3m0 37v4m4-273v3m0 43v6m0 51v5m0 74v1m0 19v5m0 0v4m0 8v5m0 10v7m0 21v6m0 11v4m2-139v1m0 38v5m0 29v4m0 50v4m4-261v4m0 53v4m0 152v7m0 0v7m0 21v5m2-196v7m0 88v3m0 6v3m0 7v3m0 59v5m2-231v2m0 20v5m0 0v3m0 5v6m0 192v7m2-69v6m0 0v7m0 35v6m0 0v3m0 25v5m2-77v3m2-98v3m0 127v5m2-238v8m0 22v3m0 35v4m0 49v8m0 40v7m0-4v2m0 16v7m0 39v3m0 11v6m2-253v3m2 122v6m0 87v4m0 13v5m2-224v7m0 0v4m0 0v5m0 41v6m0 20v7m0 56v6m2-166v3m0 59v7m0 18v3m2-99v3m0 19v5m0 19v6m0 38v5m4 112v5m0 16v5m2-234v8m0 30v3m0 32v3m0 20v6m0 0v6m0 55v3m0 57v4m0 30v5m2-159v4m0 61v5m0 65v6m2-242v3m0 6v6m0 75v3m0 158v6m6-257v4m0 34v5m0 52v5m0 53v4m0 5v4m0 0v3m2-97v3m2 22v7m0 3v1m0 58v2m2-33v3m2-131v6m0 138v3m2-126v5m2 50v5m4 62v5m0 10v3m0 99v1m2-263v3m0 12v5m0 0v8m0 127v5m0 63v8m2-206v3m0 14v3m0 110v4m2-60v1m0 148v4m2-200v5m0 7v5m0 49v4m0 0v7m0 0v5m2 9v4m0 0v3m0 82v6m0 12v4m4-235v6m0 43v5m2-25v3m0 20v7m0 91v5m0 12v7m0 36v6m4-219v4m0 71v4m0 61v2m0 48v3m0 20v7m0 9v3m4-165v4m0 89v7m0 56v5m0 10v4m2-99v5m6-144v6m2-22v5m0 35v5m0 61v6m0 40v2m2 0v5m0 10v5m0 0v6m0 60v5m2-208v7m2-36v2m0 30v6m0 0v7m0 15v3m0 78v6m2-53v6m0 35v7m0 58v7m2-10v7m2-58v4m0 41v7m0 43v1m4-204v6m0 96v5m2-133v2m0 0v5m0 141v4m0 62v3m2-197v3m0 7v2m0 0v3m0 0v6m0 0v6m0 71v3m0 4v3m2-104v7m0 12v7m0 30v7m2-111v3m2-7v5m0 0v6m0 31v7m0 42v5m0 64v3m0 66v7m2-227v4m0 11v7m0 154v7m0 6v4m0 23v5m2-8v7m4-183v3m0 17v7m0 101v5m0 5v5m0 22v6m2-211v5m0 9v2m0 37v6m0 0v3m0 21v3m0 63v6m0 3v6m0 31v3m0 7v6m0 28v6m2-221v3m0 129v3m0 64v4m2-56v6m0 18v7m0 13v6m2-8v3m0 0v6m2-187v7m0 143v4m0 43v7m2-184v2m0 22v6m0 79v5m2-98v4m2 77v7m0 29v5m2-46v3m0 19v3m0 20v6m0 46v2m2-252v3m0 13v6m0 4v3m0 34v3m0 88v4m0 81v5m2-226v7m0 35v4m0 10v3m0 82v3m0 3v4m0 57v4m2-68v7m0 3v7m2 4v6m0 12v4m2-135v5m0 11v4m0 92v6m2-190v4m0 5v3m0 0v4m0 37v7m0 18v4m0 147v5m2-178v4m0 13v4m0 12v3m4 74v7m0 23v7m2-183v4m0 41v3m0 94v7m0 76v4m2-26v3m2-218v7m4 36v6m0 7v7m0 13v4m2-64v3m0 12v3m0 159v5m2-195v6m0 7v3m2-13v6m0 44v5m2 148v7m2-153v3m0 115v8m0 22v4m0 7v4m2-218v4m0 37v3m0 0v7m2-45v6m0 0v7m0 22v7m0 0v7m0 154v3m2-15v5m4-219v7m0 0v7m0 44v4m0 132v7m2-174v4m2 151v4m0 3v3m4-15v4m2-153v6m2-36v6m2 178v4m2-180v3m0 25v5m0 173v3m2-173v6m0 189v4m2-210v5m2-27v4m0 17v6m0 184v3m0 0v5m2-3v6m2-50v6m0 23v7m0 18v4m2-238v3m0 21v7m0 213v1m2-214v3m0 185v7m2-228v2m0 18v7m0 0v7m0 171v6m2-19v6m0 7v7m0 25v8m6-5v6m6-241v5m0 189v4m0 15v3m2-217v3m0 13v2m2 221v2m2-37v6m0 10v4m0 6v3m2-25v5m0 16v4m6-42v3m0 0v6m2-5v5m0 19v7m2-26v5m2-10v8m2 5v4m4-1v6m2-17v6m10 15v6m2-17v3m0 7v4m0 0v6m6-5v5" stroke="#4a4aff" stroke-width="2.0" fill="none"/>
<path transform="scale(.5)" d="M117 923v1m4-20v6m2 20v5m2-37v5m4-29v5m0 54v4m2-56v5m2 38v4m2-55v5m6 10v4m0 16v7m4-53v3m0 22v3m0 34v6m2-39v5m2 12v6m4-7v7m0 0v4m2-65v5m2 33v3m2-8v6m2-24v5m0 3v6m2 27v8m4-64v4m2-2v7m0 18v4m0 6v5m2-15v5m4 3v4m0 8v8m2-55v6m0 9v4m0 32v4m2-9v7m2-58v2m2 25v5m0 41v3m6-77v7m0 29v6m2-41v7m0 4v3m0 0v6m2-190v3m2 165v7m0 32v7m0 0v6m2-32v8m4-31v5m4 54v5m2-12v6m2-164v3m0 14v2m0 133v6m0 20v4m2-86v6m0 77v3m2-192v4m0 11v3m0 102v7m0 0v6m0 52v4m2-56v6m0 22v7m4-47v6m2-35v2m0 71v5m0 14v4m2-194v3m0 56v4m2 77v7m0 18v5m2-65v4m8 52v7m0 7v7m0 0v3m2-60v5m0 10v6m2-253v4m0 64v7m0 48v4m0 70v4m0 54v3m2-247v4m0 0v7m0 29v5m0 21v8m2 194v5m2-50v3m0 12v3m0 9v4m2-237v5m0 4v4m0 7v6m0 0v7m0 61v5m0 72v7m0 9v3m0 50v4m2-263v5m0 0v7m0 15v7m0 56v5m0 11v4m0 3v7m0 12v4m2-149v3m0 10v2m0 6v2m0 15v3m0 97v6m6-144v7m2-3v4m0 13v5m0 21v4m0 98v7m4 37v6m2-94v3m0 43v6m0 0v1m2-101v4m0 77v3m0 51v2m2-195v7m0 0v5m0 0v5m0 0v4m0 25v5m0 31v3m0 40v3m0 20v4m2 51v2m0 30v3m0 56v2m2-83v4m0 44v3m2-258v3m0 11v6m0 7v6m0 35v5m0 29v3m0 14v5m2-127v4m0 0v5m0 93v3m2-106v5m0 0v5m0 10v5m0 51v5m0 64v4m0 48v5m0 0v7m2 57v5m2-63v5m0 19v5m0 14v7m0 20v5m0 6v3m2-244v6m2-50v5m0 22v3m0 13v3m0 34v5m2-68v4m0 10v3m0 26v2m0 32v6m0 13v6m0 3v7m0 87v7m0 50v5m0 0v7m2-36v4m2-256v7m0 69v3m0 53v3m0 55v4m2-70v5m0 0v4m0 47v2m2-147v6m0 156v4m2-23v6m0-4v3m0 4v3m0 10v4m0 56v4m0 9v2m2-95v3m0 29v6m0 0v7m0 36v4m2-171v7m0 88v5m0 9v5m0 53v3m2-220v6m0 23v7m0 124v4m4-27v3m4-177v4m0 163v7m0 26v5m0 44v5m2-176v4m0 25v6m2-68v7m0 52v6m0 54v4m2 6v3m2-96v7m0 0v4m2-66v5m0 6v6m0 154v4m2-34v3m0 11v6m0 25v7m0 27v4m2-89v8m0 74v5m0 3v3m0 4v3m0 0v4m2-257v4m0 70v5m0 127v7m2-185v6m0 19v4m0 202v6m2-214v5m0 130v7m0 0v3m0 0v6m2-219v2m0 22v4m0 21v2m0 54v7m0 126v3m0 0v6m0 18v4m0 11v1m4-106v4m2-181v4m0 155v5m0 9v5m0 66v5m0 0v6m0 14v3m2-228v6m0 44v3m0 80v3m0 60v6m2-220v7m0 17v5m0 6v6m0 6v5m0 58v6m0 0v2m0 36v6m0 14v7m0 40v6m2-85v4m2-3v6m0 49v6m2-182v7m0 105v5m2-90v5m0 7v3m0 71v8m0 36v4m0 17v6m2-98v3m0 27v7m2-5v4m0 3v2m0 34v3m0 22v7m0 5v5m0 0v4m2-217v4m0 47v5m0 135v6m0 27v3m0 0v5m2-241v6m0 0v7m0 11v6m0 6v5m0 99v4m0 17v7m0 34v6m2-208v5m2 87v4m0 4v2m0 4v5m0 17v4m2 38v7m0 50v5m0 5v7m2-211v4m0 99v4m0 69v6m2-237v6m0 0v7m0 36v7m0 67v4m2-89v8m0 27v3m0 42v4m0 25v4m2-4v6m0 11v6m0 67v6m0 12v2m4-179v3m0 128v7m2-221v4m0 35v4m0 15v8m0 24v6m0 67v3m2-155v6m0 0v6m0 79v3m0 12v5m0 10v4m2 51v4m2-147v2m0 7v7m0 40v5m0 59v3m2-84v3m0 14v5m0 44v5m0 5v6m2-140v4m0 7v6m0 60v3m0 13v5m2 77v3m0 55v6m2-61v4m2-201v5m0 49v6m0 9v5m0 0v7m0 69v2m2-156v6m0 110v3m0 30v7m2-144v3m0 24v7m0 66v5m0 20v4m2-95v4m0 145v5m0 46v5m2-177v6m0 91v7m2-155v7m0 5v5m0 0v6m0 45v3m2-35v6m0 16v5m0 34v3m0 11v4m2-141v6m0 10v5m0 50v4m0 14v4m0 68v7m0 0v5m0 44v3m0 29v4m2-103v6m0 4v1m0 13v8m2-158v4m0 12v3m0 44v3m0 85v4m0 20v7m0 14v4m0 21v4m2-243v5m0 82v7m2-100v6m0 11v6m0 0v3m0 31v5m0 0v3m0 32v4m0 58v3m0 3v7m4-60v6m0 39v4m0 0v2m0 3v7m0 62v5m2-198v7m0 14v3m2 7v2m0 7v7m0 60v7m0 0v5m2-74v2m2 67v4m0 2v2m4-166v7m0 0v4m0 30v6m2-43v2m0 0v3m0 9v5m0 73v4m0 48v5m0 8v6m0 22v4m2-158v5m0 6v8m0 0v4m0 139v4m0 3v7m0 17v3m0 10v5m2-85v2m0 27v4m0 44v4m0 13v4m4-197v3m0 5v7m0 117v3m0 53v6m2-145v6m0 48v4m0 68v7m2-234v6m0 222v6m0 4v8m4-100v4m2-140v3m0 2v7m0 44v4m0 78v4m0 16v7m2-170v7m0 172v6m0 42v5m2-60v7m0 48v6m2-86v5m0 69v7m2-222v6m0 12v6m0 18v5m0 19v6m0 59v5m0 24v5m0 12v7m0 21v7m0 5v6m2-213v6m0 10v5m0 174v3m0 14v4m2-212v5m0 18v3m0 0v7m0 87v3m0 30v8m0 12v4m0 38v4m6-95v5m0 5v7m0 13v4m2-155v4m0 40v5m0 6v2m2-25v5m0 118v5m0 12v4m4-205v5m0 42v6m0 149v7m0 15v3m2-160v5m0 105v8m2-137v5m0 9v5m0 3v3m0 5v3m0 68v3m0 8v6m2-4v3m2-16v3m0 50v6m2-9v3m0 29v6m2-219v6m0 32v7m0 127v3m0 37v5m2-219v2m0 19v3m0 11v7m0 15v7m4 125v6m0 9v4m2-180v5m0 174v7m2-161v3m0 130v5m4-18v3m2-159v5m0 139v7m2-184v4m0 22v4m0 130v4m2-156v4m0 30v4m0 12v7m4 104v4m0 53v7m2-173v2m0 110v4m0 24v7m10-172v7m0 14v5m0 107v4m2-151v6m0 0v5m2 10v8m0 126v3m2 4v5m0 43v6m4-245v6m0 38v5m2-28v5m2 11v5m0 0v5m0 158v3m2-30v4m0 39v4m2-220v3m0 5v4m0 182v4m2-162v5m2-47v8m0 16v5m0 13v5m0 138v7m0 47v5m2-44v3m0 12v4m2 9v6m2-227v8m0 0v5m0 186v7m2-197v5m0 0v6m0 0v4m0 185v3m2-219v7m0 208v7m2-36v4m0 20v6m4-214v7m0 7v6m2-11v3m0 185v6m2-180v1m0 194v3m0 10v6m2-42v3m0 19v8m0 14v2m4-15v3m2-29v3m2-194v5m4 201v3m2-16v3m0 14v3m2-15v7m0 11v6m4-26v5m2 7v3m2-28v6m0 17v7m2-24v7m0 17v2m0 4v5m2-4v5m2-28v2m0 7v3m2-12v5m2-6v4m0 21v4m8-21v7m2 4v5m4-17v3" stroke="#4040ff" stroke-width="2.0" fill="none"/>
<path transform="scale(.5)" d="M115 888v6m0 5v6m4 11v7m2 8v3m6-47v4m0 17v4m0 14v6m0 0v5m2-37v6m0 22v5m2-9v7m6-19v7m0 0v7m2 2v5m2-54v6m0 12v6m2 7v5m0 15v2m2-67v6m0 48v5m4-40v5m0 12v3m0 14v6m2-49v7m4 28v3m2-52v3m0 24v3m4 34v2m2-48v2m2 8v3m0 34v1m2-54v6m0 38v3m0 0v6m2-64v7m0 0v8m4-9v8m0 32v5m2-70v4m0 0v5m0 0v6m0 66v1m2-66v4m0 34v7m2-50v3m2 35v4m2-27v6m0 30v6m2-27v5m0 14v6m2-63v5m0 48v3m2-48v6m0 20v3m2-28v4m0 52v6m2-211v5m0 150v6m2-24v3m0 14v6m0 8v6m0 18v2m0 0v3m0 6v7m4-48v3m0 0v3m0 7v5m4-40v4m0 0v7m0 23v3m0 12v4m0 4v3m2-70v5m0 0v5m0 9v6m0 0v6m0 0v6m0 3v5m2-38v4m0 4v5m2-183v3m0 15v4m0 22v5m2 122v3m0 55v7m2-184v2m0 51v2m0 98v6m4-49v7m2 22v5m2 6v6m4 30v3m2-84v4m2 12v5m0 38v5m6-77v4m0 32v6m2-47v4m0 3v3m0 12v4m2-143v4m0 7v7m0 108v3m0 56v4m0 6v7m2-189v4m0 7v4m0 0v3m0 0v3m2 146v6m0 17v4m0 0v6m0 4v1m2-103v5m0 91v4m2-294v7m0 15v4m0 49v6m0 158v6m2-197v6m0 12v4m0 0v6m0 70v3m2-101v6m0 6v4m0 16v4m0 23v4m0 153v3m2-12v6m2-25v4m2-232v3m2 34v5m0 52v5m2-68v4m0 151v2m0 9v5m0 45v3m2-43v3m0 0v5m2-226v3m0 51v6m0 3v7m2-48v5m0 4v8m0 33v3m0 29v3m0 93v2m2-127v3m0 17v7m0 26v7m0 63v6m0 27v7m0 0v3m0 3v6m0 6v6m0 6v3m0 19v2m2-105v3m0 44v5m2-1v5m0 20v4m0 18v7m2-249v3m0 15v3m0 49v5m2-86v4m0 4v5m0 25v7m0 34v4m2-107v6m0 170v7m0 6v1m0 88v4m2-70v6m0 0v6m2-45v7m2-184v4m0 0v3m0 22v7m0 56v6m0 33v1m2-79v5m0 9v5m0 125v5m0 8v7m2-177v6m0 65v3m0 64v5m0 21v4m0 35v3m0 31v2m2-97v2m0 15v3m0 10v5m0 0v3m2-221v3m0 0v4m0 7v4m0 77v4m0 71v5m2-175v4m0 10v5m0 91v4m0 68v1m2-136v6m0 23v7m0 7v8m0 69v6m0 18v6m0 24v5m2-32v6m0 57v3m0 5v8m2-88v7m0 27v5m0 0v4m0 41v6m2-279v3m0 0v6m0 14v3m0 78v3m0 0v6m0 66v4m0 24v5m2-207v5m0 64v5m0 30v6m0 87v4m0 36v7m0 28v3m2-244v7m0 16v5m0 3v4m0 23v7m0 157v5m2-87v7m0 27v7m0 34v4m4-234v6m0 6v5m0 6v6m0 53v4m0 3v3m0 73v7m2-200v3m0 21v4m0 69v3m0 73v7m0 104v1m2-282v3m0 3v8m0 7v3m0 7v3m0 23v7m0 51v3m0 60v3m0 21v3m2-70v1m0 32v4m2-58v3m2-106v6m0 0v6m0 139v6m0 6v6m0 9v7m2-162v2m0 34v3m0 25v3m0 65v6m0 7v1m0 30v4m0 0v3m0 7v5m0 0v7m2-66v7m0-3v3m0 46v7m2-104v6m2-131v8m0 15v6m0 0v4m0 36v6m0 88v7m0 12v5m0 14v8m0 0v6m2-195v6m0 6v4m0 32v4m0 90v2m0 24v3m0 48v4m0 0v5m0 0v5m0 15v7m2-187v7m0 15v2m0 57v7m0 30v5m0 9v6m2-66v4m2 100v7m2-204v7m0 0v5m0 80v6m0-4v5m0 12v6m0 13v5m0 63v4m2-246v6m0 0v3m0 24v3m0 40v3m0 53v5m0 6v6m0 55v6m2-238v5m0 157v4m0-4v7m0-3v7m4-13v6m0 0v3m0 6v5m0 0v6m0 0v6m0 36v3m0 7v7m0 8v7m2-226v3m0 56v2m0 120v5m0 9v5m0 17v4m2-214v6m0 186v4m2-240v7m0 155v3m0 7v5m2-10v5m0 103v3m2-259v4m0 23v5m0 35v4m0 79v4m0 63v7m0 17v3m2-260v6m0 197v7m0 12v7m2-192v6m0 82v6m4 35v4m0 5v5m2-128v4m0 101v6m2-114v5m0 7v3m0 13v4m0 44v3m0 55v7m0 9v5m0 13v3m0 47v4m2-270v6m0 44v5m0 12v7m0 6v3m0 12v4m0 35v6m2-5v6m0 16v5m2 0v6m0 16v3m2-128v5m0 36v5m0 101v7m2-160v4m0 8v4m0 52v6m0 7v5m0 18v5m2-157v5m0 19v2m0 35v7m0 48v5m2 14v1m0 32v6m0 28v3m2-178v5m0 27v4m0 26v5m0 135v6m2-210v4m2-36v5m0 74v3m0 34v3m0 31v4m2 68v4m2 6v5m0 0v3m2-47v7m0 54v5m2-245v4m0 44v6m0 47v4m2-88v6m0 15v5m0 23v7m0 10v6m0 17v3m0 46v3m4-18v7m0-6v4m0 2v1m0 53v5m0 8v4m2-226v7m0 41v5m2-20v5m0 108v5m2-64v7m0 0v2m0 49v6m0 105v2m2-96v6m2-170v3m0 83v5m0 129v5m0 11v5m0 16v2m2-234v6m0 0v3m0 0v6m0 44v5m2-42v3m0 0v3m0 8v4m0 126v3m0 7v3m0 0v3m4-35v6m0 13v4m0 0v6m0 25v5m2-224v7m0 143v2m2-106v4m2-48v6m0 51v3m0 38v3m0 62v5m0 42v5m2-72v6m2-93v3m0 83v3m2-149v7m0 10v4m0 0v4m0 52v7m2-94v3m0 31v6m0 7v7m0 14v4m0 105v4m0 0v7m0 19v2m2-147v5m0 143v4m2-62v4m0 13v7m0 75v3m2-98v4m2-126v6m0 0v6m0 30v6m0 80v4m0 25v2m2-174v4m0 49v7m0 10v3m2-48v5m0 112v6m0-5v6m2-14v4m2-140v7m0 0v6m0 45v6m0 0v5m2 121v6m0 33v2m2-228v4m0 53v5m0 5v7m0 14v3m0 0v2m0 40v4m0 77v6m2-89v4m0 50v3m0 4v3m0 14v6m2 17v3m2-254v8m0 16v6m0 158v3m0 25v7m2-225v7m0 9v5m0 184v7m2 5v7m0 0v6m2 14v3m2-18v4m2-216v6m0 6v4m0 33v3m0 99v4m0 28v3m0 0v7m2-212v5m0 67v5m0 151v6m2-143v3m4-52v4m0 177v5m2-222v3m0 155v5m0 3v3m0 0v1m0 22v6m0 3v3m0 22v4m0 11v4m2-216v4m0 0v3m0 10v6m0 25v5m0 93v3m0 0v7m0 4v6m0 0v7m2-46v3m2 3v4m0 36v4m0 29v6m2-224v3m0 4v4m2 169v3m0 9v7m2-200v4m0 6v4m6 48v5m0 119v4m4-176v7m2 179v7m2-202v5m0 186v5m2-13v5m0 0v3m2-180v7m0 4v3m2 30v4m2 103v4m2-161v3m0 139v4m0 57v4m6-67v6m0 17v7m0 17v8m2 0v3m0 10v6m2-219v4m0 24v3m0 151v6m2-213v4m0 2v5m0 10v4m2 174v4m2-20v6m0 38v7m0 11v1m2-27v5m0 15v4m2-211v4m4 11v6m0 124v3m0 4v6m0 6v5m0 12v4m2 13v3m0 6v4m2-40v5m0 14v7m2-224v5m0 0v5m2 22v4m2 155v3m0 30v2m4-229v4m2 4v5m2-4v6m0 18v1m2 159v5m2 17v6m4-218v5m0 194v6m2 12v6m0 10v5m2-44v5m0 5v5m0 12v3m0 0v5m0 0v6m2-241v3m0 10v4m0 0v5m2 187v5m0 0v6m0 0v3m2-18v5m0 18v3m2-32v4m0 32v5m0 0v3m2-47v3m6 39v3m8-41v5m0 32v4m8-15v7m2-4v3m0 4v3m8-4v4m2-37v5m0 4v3m4 10v3" stroke="#3535ff" stroke-width="2.0" fill="none"/>
<path transform="scale(.5)" d="M115 913v3m0 0v3m6-32v3m0 25v3m2-34v6m0 23v4m0 18v3m2-50v3m2 31v4m2-40v6m2-14v3m0 9v6m8-27v3m0 10v7m0 18v5m0 0v2m2-29v3m0 34v6m0 0v4m2-38v3m0 7v6m6-38v7m4-21v7m2 1v5m0 19v4m0 4v5m4-45v3m0 37v7m4 16v4m2-47v6m2 7v5m2-12v6m0 23v3m4-20v5m2-31v7m0 0v4m2 38v6m4-75v4m0 42v4m0 20v3m2-75v7m0 31v4m0 0v5m0 0v7m2 17v5m2-32v4m4-28v7m0 0v7m0 35v3m2-209v4m0 0v2m0 4v4m0 161v4m0 0v7m0 11v6m2-11v6m0 7v6m2-85v5m0 76v4m2-87v7m0 48v3m2-61v6m0 34v7m0 7v3m2-60v6m0 0v6m0 77v3m2-14v5m4-232v4m0 26v2m0 32v4m0 19v6m0 54v5m0 12v3m0 4v7m0 23v3m0 23v8m2-68v4m0 23v6m2-182v4m0 36v4m4 148v7m0 7v5m2-79v4m0 58v4m0 5v7m0 0v3m0 0v6m2-72v6m2-154v3m0 63v3m0 4v5m2 79v7m0 12v5m2-31v6m0 25v6m8-55v7m0 0v4m0 19v7m0 40v3m2-87v5m2-209v3m0 34v3m0 75v4m0 10v2m0 5v3m0 143v3m0 9v2m2-278v5m0 10v3m0 0v7m0 73v7m0 7v3m0 7v4m2 49v6m0 20v5m2-4v3m0 10v5m0 44v6m2-225v5m0 166v3m2-220v3m0 6v6m0 68v6m0 35v3m2-144v5m0 21v4m0 59v6m0 18v7m0 6v4m0 78v2m2-1v4m0 12v3m0 7v6m4-192v4m0 50v5m0 16v7m2-127v5m0 0v4m0 35v5m0 32v6m0 23v5m0 0v5m2-78v5m0 7v4m0 17v2m0 33v7m0 12v6m0 11v2m0 34v6m2-8v3m0 5v4m0 14v3m0 8v7m0 0v8m2-220v6m0 0v6m0 84v4m0 109v5m2-191v6m0 78v3m0 60v6m2-180v4m0 7v7m0 32v5m0 118v8m0-1v5m0 15v5m0 19v3m0 29v8m2-87v6m0 76v6m2-86v4m0 24v7m0 0v4m0 45v5m2-290v7m0 10v4m0 19v5m0 86v2m0 14v7m0 47v3m2-154v4m0 28v6m0 51v7m2-127v4m0 106v5m0 121v4m0 4v5m0 17v6m2-54v3m0 52v3m2-108v5m0 7v6m0-4v1m0 59v7m0 21v3m2-257v5m0 76v6m0 0v3m0 62v5m0 4v5m2-178v7m2 39v4m0 39v5m0 19v7m0 90v4m2-28v5m0 35v2m2-219v3m0 0v7m0 0v6m0 10v3m0 0v6m0 21v3m0 98v5m2-155v3m0 5v7m2-51v4m0 0v7m0 6v4m0 12v3m0 6v7m0 15v4m0 5v8m0 28v7m0 166v3m2-44v4m0 2v6m2-71v8m0 80v5m2-187v3m0 29v5m2-120v3m0 114v2m0 94v4m0 4v6m2-136v5m0 149v3m0 7v5m2-80v4m0 18v3m0 0v7m2-43v5m2-162v3m0 25v6m0 14v2m0 0v4m0 11v7m0 25v3m0 59v3m0 55v7m0 23v4m0 5v4m2-274v5m0 12v4m0 34v3m0 29v7m0 117v6m2-193v7m0 3v4m0 153v4m0 47v4m0 2v3m0 0v6m2-128v6m4-82v4m0 23v8m0 125v6m0 40v5m0 7v5m2-194v3m0 80v7m0 0v7m0 66v6m0 15v6m2-146v7m0 52v3m0 0v4m0 0v6m0 0v5m0 67v3m2-77v3m2-138v5m0 101v3m0 18v4m0 3v7m0 47v4m0 3v6m2-255v3m0 4v2m0 21v5m0 67v5m0 116v6m2-238v5m0 7v2m0 12v5m0 18v3m0 218v4m2-103v4m4-170v4m0 85v6m2-3v5m0 124v4m0 17v7m2-162v7m0 24v5m0 103v5m4-31v2m0 36v3m2-211v5m0 18v4m0 13v7m0 76v5m0 18v4m2-161v5m0 3v7m0 118v4m0 0v7m0 37v7m0 7v3m2-217v6m0 24v3m0 3v5m2 87v5m0 28v3m0-2v4m2-103v4m0 18v7m0 74v7m0 34v3m2-177v4m0 38v7m0 20v1m0 43v3m0 15v3m2-170v3m0 88v5m2 29v4m2 29v4m0 64v7m0 0v4m2-231v6m0 5v6m0 140v6m0 50v6m2-204v7m0 61v4m0 70v2m0 21v4m2-138v2m0 48v2m2 15v7m0 58v2m0 35v7m2-35v4m2-199v7m0 62v4m0 0v5m0 0v3m2-69v2m0 33v5m2-58v4m0 42v6m0 0v2m0 40v5m0 32v5m2 4v5m0 108v4m2-232v5m0 20v7m0 16v4m0 0v6m0 0v8m0 4v4m0 72v3m0 81v4m2-249v3m0 0v4m0 28v3m2-27v8m0 4v7m0 20v7m0 32v7m0 21v7m2 8v4m0 6v8m0 11v6m0 10v5m0 0v5m0 10v7m0 0v6m2-54v1m0 3v8m0 12v7m0 0v4m0 14v6m0 27v4m2-212v6m0 0v6m0 118v7m2-49v3m0 0v6m0 0v4m0 10v4m2 3v3m0 0v7m0 0v4m0 35v3m0 35v7m2-111v4m0 61v5m2-40v6m0 37v4m2-196v7m0 62v6m0 3v6m0 47v7m2-77v4m0 10v3m2-33v3m0 53v5m0 21v5m0 75v7m2-29v5m0 17v6m2-232v4m0 72v6m0 103v6m0 5v3m0 7v4m0 7v3m0 32v6m0 0v3m2-236v4m0 28v4m2-19v5m0 0v4m0 40v3m0 126v4m0 3v7m0 0v3m0 0v3m2-88v3m0-2v5m2-14v7m0 0v8m0 0v2m0 12v3m0 29v5m0 6v7m0 17v7m0 8v4m2-165v5m0 55v7m2-166v5m0 61v6m0 0v6m2 178v6m2-115v3m0 84v4m0 20v5m4-165v5m2-91v3m0 19v4m0 20v7m0 11v5m0 85v3m0 59v5m0 0v6m0 12v6m2-228v6m0 154v6m0 30v6m0 7v6m0 10v3m2-106v5m0 48v3m2-43v7m2-4v4m0 14v7m0 8v3m0 44v3m4-231v8m0 29v7m0 109v7m0 0v4m0 0v6m0 58v4m4-177v6m2-61v4m0 37v6m2-25v6m0 15v5m0 88v3m2 5v3m0 3v5m2-10v8m2-156v5m0 27v3m0 9v6m0 30v4m2 61v6m0-1v3m0 6v7m0 6v4m0 30v3m2-225v5m0 51v5m0 100v4m0 17v7m0 54v6m0 8v2m6-218v5m0 7v3m0 123v5m2-158v3m0 34v3m0 2v6m0 5v6m0 140v5m0 23v4m2-227v5m0 35v3m0 99v4m4-159v6m0 0v7m0 7v7m0 49v4m0 64v7m0 5v7m0 29v5m2-199v6m0 30v5m0 6v6m0 3v3m0 15v3m0 71v3m0 14v5m0 38v7m2-214v7m0 46v5m0 19v3m0 62v3m4 16v8m0 47v5m0 0v6m2-78v7m0 77v6m2-64v5m2-166v4m4 142v6m0 29v6m2 0v4m2-200v3m0 37v7m0 8v5m0 3v7m0 95v3m0 50v3m2-218v6m0 33v6m2 121v6m0 52v4m2-232v5m0 175v7m2-27v5m0 40v7m2-197v5m0 47v2m2-43v6m2 118v6m0 19v6m2 28v4m2-222v5m0 12v4m2-29v6m2 195v7m2-33v7m0 26v7m0 30v3m2-252v3m0 189v5m2-152v5m2 158v4m0 33v6m2-44v3m0 0v5m0 0v6m2-33v6m2-130v4m0 154v5m2-212v4m0 21v6m2-41v6m0 6v5m0 200v3m2-22v4m2-185v7m0 162v7m0 20v5m0 0v4m4-188v3m0 157v3m0 7v5m0 17v4m2-37v3m0 13v5m2 23v5m6-236v5m0 174v7m8 31v8m0 3v3m2-226v7m0 0v6m0 179v5m0 7v4m6-24v7m0 0v6m6 17v5m6 10v1m2-40v8m8 4v5m0 0v5m4-14v7m2-14v5m0 25v5m2-34v3m0 7v7m0 0v8m6 5v5m4-25v5m4-10v5" stroke="#2a2aff" stroke-width="2.0" fill="none"/>
<path transform="scale(.5)" d="M123 894v6m0 23v3m0 0v4m2-6v4m2-28v5m2-13v5m2-30v7m0 22v5m0 5v3m0 22v3m6-75v7m0 64v4m2-35v8m0 7v8m2-64v5m0 52v7m2-25v7m4-2v7m0 0v6m2-60v6m0 18v5m0 12v5m0 3v4m0 16v5m6-71v4m0 60v7m2-73v5m0 7v4m2-4v7m6 28v2m2-24v4m6-24v3m0 0v4m0 48v6m2-37v3m2-9v6m0 7v5m4-29v5m0 27v6m0 5v5m0 0v4m0 3v1m2-22v3m2-63v4m0 0v3m0 40v4m0 0v7m0 9v5m0 0v5m6-78v7m2-163v6m0 58v6m0 79v6m0 3v6m0 5v3m0 10v2m0 45v7m0 0v2m2-87v3m0 0v4m2 44v5m0 0v5m0 13v5m4-61v4m0 21v7m0 14v4m0 0v6m2-11v4m2-70v3m0 10v3m0 36v7m4-192v2m0 10v5m0 5v4m0 14v4m0 95v5m0 58v5m2-56v4m0 30v3m0 10v4m4-7v8m2-78v3m0 18v4m0 4v7m0 36v7m2-17v5m0 25v1m2-97v4m0 31v8m0 0v4m2-194v3m2 144v6m0 0v6m0 3v4m0 8v6m0 28v4m0 17v2m2-52v3m0 6v5m2-26v5m0 15v7m0 34v6m0 0v7m6-36v3m2-66v3m0 92v3m2-276v7m0 5v5m0 67v3m0 5v3m0 24v6m0 94v7m2-244v5m4 190v4m0 0v5m0 58v8m2-149v7m0 5v7m2-147v6m0 57v6m0 20v7m0 15v5m2-78v5m0 71v4m2 163v5m0 0v4m2-70v3m0 27v3m2-239v4m0 27v3m0 20v7m0 28v5m0 39v6m2-114v5m0 59v2m0 28v4m0 0v3m2-128v6m0 85v5m0 105v7m0 27v2m2-53v7m0 38v7m0 0v6m2-221v4m0 167v7m2-216v6m0 49v4m0 4v4m0 22v4m0 0v6m0 37v4m0 3v6m2-89v5m0 79v5m0 78v4m0 24v6m0 15v2m0 12v5m2-82v3m0 0v4m0 29v4m0 13v6m0 3v6m2-89v6m0 13v3m0 8v3m0 0v4m0 43v4m2-216v6m0 3v6m2-44v3m0 0v3m0 23v8m0 20v6m2-18v3m0 133v6m0 4v7m0 23v3m0 13v6m2-55v6m0 20v7m0 0v4m0 18v6m2-40v7m0 0v7m2-252v7m0 13v7m0 11v4m0 148v4m2-138v4m0 132v6m0 17v4m0 37v6m0 3v4m0 0v4m0 13v6m2-245v3m0 45v4m2 92v7m0 87v6m2-294v5m0 68v5m2-73v5m0 0v5m0 52v6m0 120v4m2-172v6m0 3v3m0 161v4m2-13v3m4-164v6m0 24v5m0 119v3m0 6v4m2-165v6m0 19v4m0 125v7m0 0v3m0 89v5m2-97v3m0 47v5m0 0v8m0 31v3m2-113v5m0 14v5m0 29v2m0 50v6m2-103v4m0 0v5m2-154v6m0 49v3m0 93v2m0 13v4m0 9v6m0 6v6m0 16v5m0 0v5m2-229v4m0 0v5m0 143v4m0 87v6m2-195v7m0 16v7m0 86v7m0 8v7m0 5v3m0 10v7m0 27v7m2-104v7m2-12v4m0 6v4m2-14v4m0 0v3m0 12v3m0 7v6m0 8v3m0 28v4m2-45v3m2 38v7m0 11v4m2-92v4m2-94v4m0 10v6m0 91v3m0 41v5m2-194v4m0 9v4m0 16v3m0 0v6m0 0v4m0 6v6m0 64v7m0 9v4m0 26v4m0 57v1m2-223v3m0 186v4m0 5v3m0 10v3m2-95v3m4-178v5m0 34v6m0 6v7m0 129v8m0 56v6m0 15v5m2-278v4m0 12v7m0 0v4m0 67v4m0 97v7m0 53v4m2-192v3m0 5v7m2 78v5m2 3v6m0 17v7m0 3v5m0 41v5m2-222v3m0 61v4m0 8v6m0 50v6m0 75v3m2-238v4m0 9v4m0 21v5m0 40v5m0 7v6m0 120v3m2-178v7m0 7v7m0 28v4m0 19v5m0 9v1m2 16v4m0 18v5m0 4v4m0 17v7m2-169v6m0 0v4m0 16v3m0 93v3m0 13v4m0 16v8m0 36v2m0 16v6m2-265v7m0 28v7m0 24v7m0 7v4m0 64v6m0-4v3m0 0v6m0-5v4m0 1v3m0 27v5m0 7v6m0 42v6m2-257v8m0 47v7m0 5v3m0 6v4m2 72v4m2 55v7m2-188v4m0 15v4m0 102v6m0 8v6m2-118v6m0 0v4m0 63v6m0 77v4m0 0v3m2-212v7m0 0v4m0 101v8m2 29v5m0 6v7m0 0v6m0 2v7m0 35v7m0 0v3m2-31v7m0 46v5m2-221v6m0 32v7m0 53v5m0 34v5m2-174v4m0 6v7m0 0v6m0 37v7m0 45v7m0 16v7m2-158v6m0 31v5m0 35v7m0 52v6m0 15v7m2-48v5m0 6v6m0 17v6m0 100v4m2-222v6m0 112v4m0 23v7m0 29v3m0 3v6m0 0v4m0 9v4m0 0v3m2-251v6m0 7v6m2-15v5m0 0v3m0 0v5m0 35v4m0 14v4m2 72v5m0 6v3m0 56v5m0 26v2m0 5v4m2-110v7m0 25v6m0 21v4m2-163v7m0 11v3m0 84v3m0-2v5m0 0v3m0 78v3m0 15v4m0 0v3m2-208v4m2-34v3m0 18v3m0 11v5m0 64v4m0 16v4m0 4v3m0 34v7m0 33v5m0 14v7m2-107v7m0 15v4m0 40v4m0 11v4m0 13v6m0 3v2m2-114v4m0 26v4m0 57v5m2-100v3m2-101v7m0 74v7m2-8v5m0 13v7m0 28v3m0 12v3m0 46v3m0 4v4m2-111v4m0 82v5m0 3v4m2-232v5m0 0v3m0 47v6m0 9v5m0 12v3m0 42v6m0 4v6m0 31v5m2-178v3m0 40v5m0 0v8m0 9v5m0 59v2m0 8v5m2-156v5m0 62v4m0 0v5m0 90v4m0 64v3m2-96v5m0 3v8m0-5v4m0 25v7m0 20v5m0 12v7m0 0v6m0 0v5m0 7v4m0 0v2m2-80v6m0 0v7m0 52v4m2-227v6m0 49v7m0 0v3m4-30v7m0 11v6m0 98v7m0 40v4m0 15v4m2-101v6m0 62v3m2-71v5m2-160v3m0 25v3m0 53v7m2 30v2m0 35v6m0 42v5m0 2v3m0 23v7m2-243v6m0 14v6m0 73v1m0 53v6m0 87v5m2-74v7m0 58v5m4-92v3m0 10v6m0 15v3m0 32v3m0 11v6m2-151v5m0 87v3m6-144v4m0 7v6m2-38v2m0 15v4m0 209v5m2-44v6m0 34v3m4-100v4m0 34v5m0 7v6m2-49v4m0 4v4m0 57v5m2-162v6m0 12v2m2-70v6m0 41v6m0 83v4m0 0v6m0-5v5m0 14v2m0 8v7m0 9v6m6-217v4m0 73v5m0 128v4m0 0v5m0 0v3m2-188v3m0 14v8m0 117v7m0 0v6m0 0v7m0 11v6m0 0v8m2-184v4m0 15v4m0 0v6m4-65v7m0 42v5m0 27v7m0 70v6m0 0v6m0 46v4m2-191v7m0 51v5m0 72v2m0 0v3m0 3v3m0 17v3m2-156v6m6-35v4m0 27v6m0 131v4m0 6v5m2-148v6m2-54v3m0 47v4m6-37v4m0 9v3m0 41v3m0 93v3m0 19v4m0 0v6m2-193v7m0 29v4m0 17v5m0 103v7m0 0v3m0 3v6m0 9v3m2-203v7m0 47v5m0 25v5m2 92v5m0 51v7m2-70v7m0 22v5m2-36v4m0 29v3m0 20v4m6-22v6m0 15v3m2-218v4m0 195v3m2-218v7m0 66v7m4 96v4m0 0v6m0 0v7m0 50v4m2-45v5m0 21v4m2-203v8m0 162v3m2-198v2m0 10v5m2 5v4m0 6v7m0 15v5m0 0v6m0 164v7m2-60v3m0 51v5m8-207v5m0 153v3m0 27v3m0 14v7m2-52v6m2 10v5m0 31v1m2-222v6m0 5v3m2-19v5m0 193v2m2 17v6m2-56v5m2-160v6m0 3v2m4 195v8m2-44v2m2-9v6m2 18v5m2-12v7m2-9v7m6 15v6m0 0v6m2-18v3m2-35v6m0 13v5m6 13v6m0 0v6m12-35v7m8-13v3m6 15v4m4 8v5" stroke="#2020ff" stroke-width="2.0" fill="none"/>
<path transform="scale(.5)" d="M113 909v3m2-7v8m8-37v2m0 0v6m0 21v3m2-31v6m2 29v2m2 5v5m0 0v4m2-64v3m0 19v4m0 11v5m2-10v5m0 13v6m2 5v7m2-49v3m0 7v7m0 7v5m2-40v6m0 0v4m2-19v4m0 25v5m2-28v7m0 43v6m4-69v3m0 0v4m0 6v4m0 11v7m0 35v5m2-70v4m0 49v4m0 11v2m2-71v7m0 22v7m0 0v4m0 15v8m0 3v4m4-13v5m2-58v4m0 26v4m0 3v3m0 7v5m0 0v4m2-69v7m0 3v4m0 40v7m6-60v7m0 25v5m0 3v6m2-19v2m6-36v6m0 3v7m0 21v7m2 29v6m2-39v7m0 24v3m4-65v7m4-5v6m6 20v5m0 0v6m0 27v3m2-225v4m0 0v4m0 59v3m0 89v4m0 36v3m0 0v8m2-42v8m0 6v5m4-11v7m2 8v4m2-31v4m0 8v6m0 26v6m2-31v4m0 32v4m4-214v3m0 165v6m2-13v6m0 17v7m0 11v7m2-243v3m0 93v4m0 14v2m4 53v4m0 26v5m0 38v3m2-97v3m0 0v6m0 24v3m2-16v4m0 23v7m0 25v7m0 8v3m2-224v3m4 192v2m0 0v7m2-77v5m0 9v6m0 10v3m0 61v1m10-295v4m0 40v3m0 7v7m0 43v5m0 11v6m0 2v5m2-84v6m0 65v7m0 3v7m0 4v3m2 59v2m2 64v7m2-59v7m2-112v3m2-66v6m0 212v7m2-75v7m0 19v4m0 34v3m2-57v3m0 43v8m0 16v5m2-285v4m0 106v5m2-126v5m0 109v4m2-76v4m0 48v8m0 134v4m0 0v5m0 14v3m2 8v4m2-267v4m0 105v2m0 110v6m0 18v5m0 0v5m2-164v3m2 18v6m0 14v4m0 65v7m2-15v3m0 23v6m0 39v3m0 16v4m2-97v5m0 50v5m0 7v3m2-223v3m2 146v4m0 0v5m2-152v4m0 0v4m0 25v7m0 5v5m0 11v4m0 4v2m0 74v4m0-4v6m0 16v4m0 21v4m0 12v4m0 19v3m4 1v3m2-280v6m0 110v7m0 6v4m0 0v4m2-37v3m0 18v4m0 7v4m0 46v6m0 3v7m0 68v5m2-252v4m0 41v7m0 106v6m0 6v8m0 0v4m0 27v4m2-18v4m0 14v8m2-198v7m2-25v6m0 15v5m0 13v7m0 0v5m0 4v5m2-38v6m0 23v6m0 101v3m0 22v7m0 56v6m2-46v5m0 4v2m2-63v5m0 1v2m2-115v5m0 9v4m0 7v7m0 72v6m2-179v4m0 26v7m0 46v5m0 85v3m0 58v7m0 26v4m2-273v6m0 59v3m0 14v8m2 80v7m0 61v7m0 31v4m4-285v7m0 275v2m2-185v5m0 76v7m0 23v3m0 10v7m0 13v5m0 5v7m0 16v7m2-286v5m0 205v5m0 15v6m0 31v7m6-87v4m0 41v7m0 0v3m0 0v4m0 27v3m2-90v5m0 6v8m0 3v7m2-45v5m2 5v4m2 52v5m2-143v6m0 66v5m0 6v3m0 40v7m0 10v4m2-228v5m0 12v7m0 131v3m2-5v4m4-158v3m0 0v6m0 13v4m0 177v3m0 43v3m2-262v3m2 12v4m0 10v6m0 25v3m0 105v4m0 39v5m4-48v3m0 38v5m2-51v5m0-4v7m0-3v2m0 23v7m0 42v4m0 4v7m0 4v7m2-260v5m0 38v5m0 5v3m0 19v4m0 41v6m0 13v7m0 81v4m0 30v2m2-194v3m0 0v5m0 34v3m0 8v3m2-17v4m0 37v2m0 21v4m0 4v3m0 62v2m0 0v7m2-227v3m0 114v7m0-5v4m0 34v6m0 17v7m0 13v6m2-223v4m2-27v4m0 96v7m2 60v4m2-16v7m0 0v5m0 3v5m0 34v5m2-173v7m0 37v7m0 99v7m2-117v2m0 6v4m0 4v2m0 33v5m0 43v3m0 44v7m0 11v5m0 0v7m0 0v5m6-114v4m0 84v4m0 3v5m2-203v3m0 50v3m0 54v5m0 0v6m0 27v6m0 43v7m0 9v5m2-252v3m0 69v7m2-63v3m0 2v5m0 13v5m2 97v5m0-1v2m0 5v6m0-4v1m0 35v7m0 33v8m2-238v7m0 8v7m0 117v6m0 17v6m0 0v4m0 32v4m2-164v5m0 7v6m4 67v6m0 5v6m0 3v7m0 69v5m0 8v5m2-110v4m0 49v6m0 20v8m0 8v5m2-103v4m0 31v6m0 30v6m0 0v3m0 0v5m0 17v6m0 0v4m2-116v4m2-67v5m0 43v6m0 95v4m0 4v5m2-90v4m0 1v4m0 15v7m0 4v2m0 8v6m2-54v7m0 53v4m0 0v3m4-198v4m0 97v3m6-44v3m0 93v6m2-164v7m0 26v6m2-13v5m0 145v5m0 6v7m0 43v5m2-81v6m0 33v3m0 35v7m2-102v3m0 4v5m2-108v5m0 9v4m4 73v8m0 0v6m0 0v6m0 23v4m0 0v7m2-58v4m0 11v2m0 59v8m0 4v4m4-219v5m0 45v5m0 25v1m2-39v7m0 13v4m2 71v4m2 23v6m0 14v5m0 14v5m0 0v6m4-209v6m0 123v4m0 57v5m0 0v4m0 23v3m0 6v3m2-111v3m0 31v3m0 3v2m0 0v5m0 0v3m0 0v5m0 44v5m2-228v6m0 162v4m0 24v5m0 0v7m2-68v5m4-81v5m0 63v6m0 5v3m0 75v3m2-89v6m0 15v7m2-30v3m4-3v6m0-6v7m2-140v4m0 14v5m0 42v2m0 73v7m2-92v6m0 0v3m0 147v5m6-187v7m0 106v3m0 12v8m0 8v4m2-155v6m0 110v6m2-164v7m0 0v5m0 26v5m0 6v4m0 26v7m0 76v3m2 78v4m2-224v7m0 33v7m0 91v5m0 16v3m2-165v4m0 222v3m2-42v7m0 21v7m4-85v6m2-163v8m0 37v6m0 121v4m0 22v6m0 16v3m2-211v3m0 158v5m0 29v3m0 35v3m2-243v7m0 0v5m0 46v6m4 91v2m0 13v7m0 0v4m0 13v5m0 37v6m2-238v3m0 8v5m0 14v5m0 129v4m0 37v3m0 28v2m2-253v7m0 10v3m0 35v5m0 111v4m0 60v3m0 10v4m2-235v6m0 21v5m0 0v8m4-56v7m0 71v4m0 132v4m0 23v6m2-196v5m0 11v3m0 170v5m2-244v7m0 20v5m0 42v3m4 105v6m0 10v6m0 25v3m4-219v3m2 2v4m2 186v5m4-193v6m0 12v6m0 26v4m0 129v5m4-188v3m0 8v6m0 187v7m2-54v4m0 36v5m2-22v3m0 34v3m0 4v3m6-218v4m0 161v3m0 27v3m0 0v5m2-43v4m0 10v3m0 8v8m10-24v4m0 0v7m4-202v4m0 23v6m4 183v7m0 0v5m6-214v6m0 160v4m2 6v3m16 7v6m0 0v8m2-19v2m8 28v5m2-11v4m4 0v4m12-29v7m6 23v3" stroke="#1515ff" stroke-width="2.0" fill="none"/>
<path transform="scale(.5)" d="M121 898v6m2-14v4m6-15v7m0 11v3m2 15v3m2-41v4m4 5v7m4 10v5m6 11v5m0 0v2m2-37v7m2-42v3m0 0v3m0 40v6m4-32v7m0 2v7m0 13v7m2 10v3m0 0v5m2-63v3m6-4v5m0 0v5m2-5v4m0 12v6m0 17v4m0 0v5m6-66v3m0 22v6m0 7v3m0 0v4m2-15v4m0 11v4m2-28v7m0 29v5m4-73v8m2 17v4m2-32v5m0 26v6m0 6v4m8-193v2m0 32v3m0 0v6m0 135v7m4 39v3m2-76v6m0 16v4m2-30v5m0 23v6m2-31v5m0 20v3m6-174v5m0 29v3m0 131v7m0 0v5m2 5v5m2-173v3m0 5v5m0 10v3m0 42v4m4 44v7m0 15v4m0 7v6m0 10v8m2-16v6m2-24v5m2-156v6m2 127v3m0 4v3m0 35v4m0 9v7m0 0v5m2-19v5m0 22v5m2-41v6m6-68v4m2 26v3m0 42v5m2-204v6m0 18v3m0 0v6m2-105v3m0 56v6m0 0v5m0 42v5m8-64v3m4 140v7m0 83v3m2-93v7m0 6v4m0 26v4m0 14v2m0 8v5m0 16v4m2-262v6m0 51v5m0 57v3m2-98v7m0 11v5m0 48v4m0 7v6m2-147v7m0 40v5m0 57v6m0 15v4m0 58v5m0 7v5m0 53v7m0 22v3m2-101v5m0 11v3m0 68v8m2-217v6m0 0v3m0 49v7m0 0v3m0 51v6m0-5v7m0 0v3m0 11v7m0 17v7m0 0v6m0 22v7m2-271v7m0 94v7m0 34v5m2-118v7m0 39v7m0 0v7m0 98v4m0 14v6m2 31v7m0 0v6m2-69v4m0 2v4m0 11v4m0 54v6m2-269v4m0 36v3m0 67v3m2-6v6m0 20v5m2-123v3m0 34v5m0 21v5m0 26v7m0 100v4m0 0v4m0 0v6m2-33v3m0 0v6m0 21v5m0 19v5m0 11v7m2-99v7m0 28v5m4-155v3m0 110v5m0 30v4m0 27v6m2-73v8m0 73v4m0 0v5m0 0v5m2-63v6m0 12v6m0 26v7m2-253v4m0 42v5m0 31v6m0 21v6m2-113v5m0 89v7m2-5v3m0 0v6m0 0v3m0 63v3m0 64v6m2-32v4m2-58v4m2-186v3m0 0v3m0 107v2m0 113v7m4-219v6m0 13v6m0 77v2m0 57v7m0 3v7m0 0v6m0 13v5m0 0v6m0 0v3m0 0v7m0 45v3m0 6v3m2-92v7m4-126v6m0 106v5m0 48v6m0 21v5m0 4v6m2-275v3m0 250v5m2-194v5m0 99v5m0 39v5m0 54v3m0 0v2m6-62v5m0 21v6m0 0v8m2 18v2m2-102v2m0 1v5m4-14v7m0 47v6m2-221v4m0 59v7m2-30v4m0 26v5m0 77v5m0 21v7m0 9v3m6-180v6m0 26v5m0 16v3m0 7v2m0 6v4m0 8v1m0 47v4m0 7v5m2-170v4m0 40v6m0 6v4m0 39v3m0 0v5m2-32v5m4 172v3m2-258v3m0 0v7m0 7v4m0 27v7m0 133v5m0 7v7m0 27v2m0 32v3m2-215v5m0 73v3m0 115v7m2-224v3m0 19v7m2 56v4m0 44v7m0 73v5m2-159v4m0 69v1m0 7v6m2-129v6m0 172v6m0 0v3m0 0v7m0 13v8m0 0v2m2-259v4m0 5v3m0 80v3m0 30v3m4 51v3m2-170v7m0 120v5m0 53v4m0 0v3m2-219v5m0 148v7m0 0v4m0 11v5m2-167v2m0 48v5m0 23v5m0 45v2m2-25v5m0 7v3m0 9v1m0 77v5m0 43v1m2-108v6m0 40v4m0 7v7m0 4v4m0 25v6m2-235v7m0 29v6m0 80v4m0 24v6m0 54v3m2-102v3m2-88v6m0 23v6m2 67v6m0 62v7m0 21v3m2-96v5m2-92v5m2-36v4m0 45v4m0 58v4m2-36v8m0 27v4m0 0v4m0 29v3m0 34v6m0 5v6m2-94v4m0 0v5m0 12v6m0 37v6m0 32v4m2-77v4m0 0v3m4-54v3m0 42v7m0 75v2m2-102v4m0 0v4m0 70v4m0 15v3m2-43v3m0 35v4m2-186v6m2-53v4m0 84v6m0 23v6m2-123v6m0 6v4m0 13v6m0 61v4m0 25v3m0 49v5m2-98v7m0 0v6m0 0v4m0 14v6m0 7v3m2-124v4m0 3v5m0 4v7m0 120v6m0 44v4m2-212v4m0 49v6m0 20v1m2 44v2m0 0v6m0 0v5m0 18v4m2-33v6m0 15v4m0 6v6m0 22v5m2-93v4m0 137v2m6-116v4m0 8v3m0 28v4m0 11v6m0 0v8m2-100v2m0 69v7m0 63v2m2-242v3m2 40v7m2 8v4m0 172v7m2-173v7m0 20v4m0 40v6m0 0v4m2-57v7m4-72v5m0 106v6m0 10v8m2-122v7m0 88v4m0 0v6m0 3v4m0 0v6m0 25v3m0 4v3m0 5v5m0 29v7m2-148v4m0 36v6m0 39v4m4-200v6m0 33v5m0 7v4m2-42v3m0 47v7m0 92v5m0 57v7m2-71v6m0 81v7m4-29v6m4-194v5m2-2v6m0 157v5m4-45v7m2-110v7m0 3v8m0 5v6m0 0v4m0 0v2m0 69v5m0 54v5m0 23v4m2-94v5m0 2v5m0 74v3m2-227v4m0 48v4m2 88v3m2 57v6m2-225v4m0 197v6m2-168v4m0 156v4m0 21v7m4-48v5m0 0v7m0 14v5m0 24v6m2-197v4m0 110v5m0 21v7m0 30v3m2-150v3m0 94v6m0 33v5m2-224v7m4 211v5m0 14v6m2-187v7m0 23v3m0 90v4m2-160v6m0 17v5m0 35v2m0 102v5m0 7v7m0 5v7m4-53v6m0 0v3m0 22v6m2 39v4m2-6v4m2-187v4m4 177v4m0 0v3m2-175v6m0 105v4m6 37v5m0 6v4m2-26v6m2 6v7m0 6v4m2-232v5m0 42v8m2-68v4m0 190v7m0 8v3m4-21v5m0 0v2m0 0v3m8 6v5m8 21v4m6-239v3m2 199v4m0 6v3m2 31v1m6-245v7m0 21v1m0 190v6m4-32v5m18 41v4m4-15v4m20 1v3" stroke="#0b0bff" stroke-width="2.0" fill="none"/>
<path transform="scale(.5)" d="M113 912v2m2-20v5m6-22v5m0 8v5m0 0v3m0 12v5m0 3v5m0 0v4m0 0v4m2-31v5m0 3v5m0 4v6m6-55v6m0 32v3m0 5v5m2-45v4m0 31v6m0 3v6m0 10v2m2-66v7m0 4v8m0 0v7m0 5v5m0 0v5m0 0v3m0 6v4m0 4v7m2-14v4m2-59v6m0 5v6m0 17v7m0 19v4m2-67v6m0 20v7m0 0v3m0 23v6m2-61v3m0 0v4m0 0v5m0 53v1m6-70v6m0 4v4m0 0v7m0 12v6m0 13v4m2-54v7m2-5v3m0 0v5m0 31v5m0 0v4m0 8v3m4-64v4m0 5v3m0 7v2m0 11v4m0 15v4m2-66v5m0 16v6m0 0v4m0 0v6m0 10v3m0 3v7m2-36v7m0 0v4m0 6v6m0 19v6m0 0v5m6-82v6m0 22v4m0 20v5m0 10v6m0 0v7m2-81v2m0 10v3m0 6v3m0 27v6m0 0v6m0 18v1m6-26v7m2-50v6m0 0v3m0 0v3m0 44v4m2-72v7m0 60v3m4-55v7m0 9v4m0 0v3m0 0v5m0 0v3m0 14v5m2-73v5m0 0v5m0 7v4m0 0v6m0 15v6m0 30v5m2-72v7m0 6v6m0 32v3m6-10v5m0 3v4m0 3v3m2-230v4m0 8v5m0 19v4m0 18v4m0 0v6m0 19v3m0 69v3m0 6v5m2-1v7m2-13v6m2-23v5m0 13v3m0 0v6m0 0v7m0 22v4m0 3v7m0 17v4m2-73v6m0 4v8m0 27v7m0 10v7m0 0v4m2-52v5m0 17v4m0 17v6m6-234v2m0 73v3m0 0v5m0 17v2m0 46v7m0 8v4m0 44v7m0 17v1m2-93v6m0 6v5m0 19v5m0 20v3m2-221v3m0 8v6m0 28v3m0 0v2m0 25v5m0 7v6m0 2v4m0 15v3m0 84v7m2-12v4m2 15v5m0 19v6m2-81v3m0 0v7m0 0v4m0 9v7m0 11v6m0 0v6m0 9v5m2-76v6m0 7v3m0 40v6m0 10v3m0 7v4m2-248v4m0 57v4m0 0v4m0 4v5m2 127v5m0 32v6m0 3v3m2-83v7m0 0v6m0 9v6m0 5v6m0 0v5m0 20v8m2-76v5m0 19v7m0 7v7m0 6v5m0 0v3m0 5v8m6-62v7m2-20v7m2-209v6m0 0v7m0 7v5m0 8v7m0 34v7m0 129v5m0 63v4m2-293v3m0 24v8m0 38v4m0 8v3m0 0v6m0 4v7m10-77v2m0 110v6m2 46v4m0 0v3m0 18v5m0 0v7m0 7v3m0 6v7m0 0v5m0 6v7m0 3v7m0 12v4m2-100v3m0 7v6m0 10v4m0 6v6m0 8v3m0 3v8m0 15v7m0 0v4m2-283v3m0 11v4m0 0v6m0 12v5m0 3v6m0 4v7m0 0v3m0 18v5m0 9v3m0 10v4m0 19v6m2-137v4m0 20v5m0 37v5m0 77v4m2-151v6m0 9v7m0 28v7m0 4v6m0 0v7m0 46v3m0 67v5m0-2v5m0-3v2m0 1v1m0 20v7m0 9v6m0 2v6m0 13v4m0 0v7m0 0v5m0 0v6m0 3v1m2-83v4m0 44v7m0 4v6m0 11v4m0 0v3m2-234v3m0 16v6m0 0v3m0 0v7m0 0v7m0 19v7m0 72v4m0 54v3m0 0v6m0 0v3m0 7v4m0 0v6m0 0v6m2-266v4m0 38v3m0 28v4m0 10v7m0 0v7m0 16v4m2-127v3m0 0v4m0 24v3m0 5v7m0 39v3m0 0v6m0 73v5m0 33v5m0 31v6m0 13v4m2-85v3m0 0v5m0 7v7m0 6v3m0 8v5m0 38v4m2-84v4m0 37v5m0 5v4m0 20v3m2-258v3m0 54v6m0 0v5m0 9v5m2-96v7m0 74v4m0 92v4m2-163v5m0 98v6m0 49v7m0 78v8m2-93v4m0 0v4m0 0v4m2 27v7m0 33v6m0 0v7m4-205v3m0 13v7m0 13v5m0 69v8m0 13v5m0 20v5m0 8v7m0 12v3m0 13v4m0 0v4m2-256v6m0 23v6m0 40v5m0 5v3m0 77v2m0 11v7m0 0v2m0 11v3m0 11v7m0 0v7m0 3v5m2-66v3m0 0v6m0 51v4m0 0v3m0 7v6m2-269v3m0 34v3m0 40v7m0 25v7m2-88v5m0 63v7m0 69v6m2-162v3m0 98v4m0 48v3m0 8v2m4 82v5m2-247v4m0 13v4m0 28v6m2-87v4m0 27v6m0 48v5m0 17v4m0 61v7m0-3v4m0 6v8m0 0v6m0 0v4m0 8v5m0 4v4m0 6v5m0 0v5m0 14v6m0 0v6m0 0v7m2-238v6m0 41v4m0 28v7m0 53v6m0-2v3m0-1v5m0 9v6m0 0v7m0 21v7m0 16v7m0 10v5m0 3v3m2-79v5m0 19v6m0 0v7m0 0v5m0 7v7m0 4v7m0 0v7m4-219v4m0 113v2m0 3v6m0 19v4m0 11v6m0 6v3m2-42v5m0 7v7m0 38v5m0 12v5m2-230v4m0 44v4m0 97v4m0 40v4m0 11v2m0 9v5m6-94v3m0 0v5m0 30v4m0 14v3m0 37v4m0 8v4m2-168v3m0 121v5m0 14v6m2-84v3m0 26v5m0 0v6m0 20v4m0 32v6m2-115v7m2-117v7m0 97v6m0-1v4m0 3v7m0 0v1m0 0v5m0 33v6m0 19v4m0 0v4m0 4v3m0 10v6m2-256v5m0 84v4m0 50v4m0 0v6m0 1v7m0 15v7m0 27v4m0 24v7m2-185v4m0 5v4m0 88v6m0 0v5m4-23v6m2-151v7m0 16v6m0 34v7m0 12v5m2-99v5m0 31v4m0 125v5m0 3v3m0 0v2m0 0v6m2-191v7m0 76v6m0 7v4m0 0v6m2 13v6m0 40v5m2-21v6m0 1v6m0 42v5m0 5v3m0 9v7m0 31v2m0 0v6m2-278v6m0 10v7m0 4v5m0 11v4m0 18v7m0 0v6m0 7v2m0 0v7m0 72v3m0 8v7m0 4v6m0 19v3m0 8v6m2-231v3m0 17v4m0 56v3m0 0v4m0 45v3m0 51v4m0 0v3m0 7v5m0 41v7m0 13v5m0 0v5m2-261v4m0 31v7m0 21v6m0 8v7m0 11v3m0 11v2m2 16v2m0 17v5m0 32v5m0 25v6m2-235v6m0 3v2m0 156v2m0 37v3m0 40v4m2-147v6m0 47v3m0 25v4m0 7v3m0 18v6m2-102v5m0 44v2m2-33v5m0 20v4m2 0v3m2-166v6m0 38v4m0 12v5m0 35v5m0 59v1m0 60v7m2-218v7m0 11v6m0 0v2m0 0v5m0 25v3m0 6v6m0 14v4m0 0v1m0 10v7m0 69v5m0 5v6m2-184v7m0 51v4m0 30v5m0 33v7m0 0v5m2-16v7m0 0v5m0-1v4m0 30v3m0 0v7m0 7v6m0 28v3m0 0v5m0 0v4m2-108v4m0-4v6m0-2v5m0-3v5m0 6v4m0 0v7m0 0v5m0 3v5m0 0v4m0 4v6m0 18v4m0 4v3m0 4v3m0 5v4m0 0v6m2-232v3m0 12v4m0 9v6m0 95v5m0 6v6m0 0v7m0 11v3m0 6v3m0 0v5m0 14v4m0 0v7m0 0v7m0 10v6m0 0v3m0 5v5m2-264v7m0 9v6m0 70v6m0 0v4m2-83v4m0 34v6m0 7v3m0 73v4m0 0v3m2-36v6m0 20v5m0 6v4m0 0v3m0 4v5m0 6v7m0 4v6m0 0v4m0 10v7m0 0v7m0 7v5m0 0v4m0 19v7m2-121v3m0 9v6m0 6v3m0 17v7m0 0v8m0 0v6m0 0v4m0 7v3m0 16v3m0 11v7m0 0v5m2-248v4m0 12v6m0 19v7m2 19v5m0 66v5m0 0v2m2-49v6m0 52v5m0 0v5m0 13v4m0 25v5m0 34v2m2-111v8m0 96v6m2-170v7m0 47v5m0 8v4m0 7v3m0 13v3m0 7v5m2-83v3m2-107v7m0 12v5m0 45v4m0 53v8m0-4v4m0 0v3m0 1v4m0 12v2m0 0v7m0 7v6m0 0v3m0 17v4m0 0v6m0 4v4m2-87v7m0 4v7m0 21v8m0 16v7m0 0v7m0 4v5m0 0v6m0 8v4m2-90v3m0 0v6m0 17v7m0 0v6m0 0v6m0 19v5m0 4v4m0 26v3m4-139v4m0 27v5m2-117v7m0 15v4m0 86v4m0 96v5m2-112v7m0 32v2m0 30v5m2-219v5m0 16v4m0 0v4m0 12v4m0 7v3m0 0v5m0 83v4m2-154v6m0 44v7m0 23v3m0 71v3m2-146v6m0 9v7m0 0v4m0 32v4m0 21v3m0 50v7m0 0v5m0-1v7m0 27v3m0 16v5m0 8v3m0 26v5m2-118v7m0 47v5m0 0v7m0 13v6m2-15v6m0 7v7m4-119v8m0 0v2m0 40v2m2-22v4m0 4v5m0 15v7m0 41v6m0 9v5m0 0v4m0 0v6m0 10v3m2-111v7m0 11v3m0 25v8m0 0v5m0 0v4m0 0v6m0 19v4m0 0v7m4-98v7m0 6v2m2-14v2m0 58v5m2-160v5m0 18v7m0 73v4m0 0v2m0 2v4m0 28v3m2-10v7m0 15v7m0 11v4m4-87v4m0 45v4m0 0v5m0 0v6m0 12v7m0 0v4m2-83v6m0 0v7m0 38v4m0 3v5m0 5v6m0 0v3m0 0v5m2-143v5m0 58v6m0 23v6m0 8v7m0 0v7m0 0v6m0 12v6m0 18v3m4-227v7m0 9v3m0 10v5m0 28v4m0 62v7m2-2v6m0 44v3m2-211v4m0 33v7m0 105v4m0 6v4m4-1v2m0 33v3m2-174v6m0 126v7m0-4v3m2-119v6m2-35v3m0 220v4m2-80v2m2-14v5m0 7v2m2-167v7m0 0v6m0 6v6m0 127v6m0 0v3m0 68v6m2-232v3m0 6v6m0 136v3m0 7v3m2-171v3m0 28v6m2 132v4m2-178v6m0 60v5m0 7v4m0 0v5m0 106v4m2-155v6m0 0v4m0 23v5m0 5v5m0 74v6m0 2v6m0 8v4m0 41v4m0 4v6m2-234v6m0 14v7m0 141v2m0 0v3m0 41v4m0 21v7m4-82v3m0 8v3m0 37v7m2-227v2m0 21v4m0 4v4m0 40v8m0 0v3m0 86v2m0 35v6m0 10v5m2-228v5m0 51v5m0 17v3m0 3v4m0 72v6m0 0v7m0 49v3m0 5v5m0 5v5m6-56v3m0 29v4m0 4v6m2-240v7m0 42v5m0 23v7m0 89v5m0 8v6m0 10v6m0 4v3m0 7v4m0 0v7m0 7v6m2-224v4m0 45v3m0 89v7m0 28v4m0 25v7m0 6v7m2-180v4m0 6v3m0 0v6m2 80v5m0 9v3m0 11v5m0 9v5m0 0v7m0 0v2m0 7v3m0 0v7m0 11v1m2-81v6m0 18v4m0 12v4m0 13v7m0 0v7m2-236v5m0 180v6m0 0v6m0 16v5m0 11v6m6-15v5m2 9v7m2-212v7m4 201v3m2-62v7m0 0v5m0 0v3m0 0v6m0 30v6m2-226v7m0 31v3m0 7v4m0 116v7m0 26v7m0 0v3m0 0v3m0 7v6m0 4v4m2-196v7m2-56v6m0 0v4m0 0v7m0 3v4m0 17v7m0 124v6m0 30v3m4-11v4m0 4v4m0 10v2m0 0v3m0 0v7m2-230v3m4 15v4m0 173v4m0 26v6m2-55v6m2-5v3m0 7v6m0 40v5m4-53v3m0 3v7m0 39v2m4-23v5m6-35v6m0 31v7m8-46v5m0 0v3m2 1v4m2 1v5m0 5v4m4-26v3m0 27v5m4-2v6m2 3v7m22-45v6m0 17v6m0 12v2m8-40v4m0 12v3m8-17v7m0 8v7m0 8v3" stroke="#0000ff" stroke-width="2.0" fill="none"/>
<path d="M163 302L167 288M181 301L184 288" stroke="#5050ff" stroke-width="1" fill="none"/>
<line x1="74.7" y1="416.7" x2="88.4" y2="410.7" stroke="#2a2aff" stroke-width="1.4" stroke-opacity="0.6"/>
<line x1="88.4" y1="410.7" x2="116.8" y2="398.4" stroke="#2a2aff" stroke-width="1.4" stroke-opacity="0.6"/>
<line x1="116.8" y1="398.4" x2="139.6" y2="391.8" stroke="#2a2aff" stroke-width="1.4" stroke-opacity="0.6"/>
<line x1="139.6" y1="391.8" x2="166" y2="385.2" stroke="#2a2aff" stroke-width="1.4" stroke-opacity="0.6"/>
<polygon points="146.0,370.0 167.0,363.7 180.0,360.1 204.4,355.8 228.7,352.2 253.0,348.5 262.0,344.5 262.0,356.0 243.0,357.0 228.7,358.3 204.4,361.3 180.0,365.0 167.0,369.0 150.0,375.0" fill="#ffffff"/>
</g>
<g filter="url(#soft)">
<path transform="scale(.5)" d="M1043 893v7" stroke="#bfbfff" stroke-width="2.0" fill="none"/>
<path transform="scale(.5)" d="M1217 781v4m78-95v5m16 20v3m4-31v6" stroke="#b5b5ff" stroke-width="2.0" fill="none"/>
<path transform="scale(.5)" d="M1025 701v9m18 137v4m56-149v9m24-79v6m128 71v4m72 1v3" stroke="#aaaaff" stroke-width="2.0" fill="none"/>
<path transform="scale(.5)" d="M1035 706v6m2-45v8m0 10v7m30 15v4m0 112v8m40-196v3m8 49v3m16-65v5m134 211v8m16 42v7m34-191v8m4-39v7" stroke="#9f9fff" stroke-width="2.0" fill="none"/>
<path transform="scale(.5)" d="M1027 712v6m8-57v6m54 17v4m46 50v4m64-39v5m8 4v4m4 45v8m38 46v8m66-123v7m4-11v4m0 12v8" stroke="#9595ff" stroke-width="2.0" fill="none"/>
<path transform="scale(.5)" d="M973 703v3m6-5v4m48-29v3m0 9v4m18-1v6m0 140v5m0 24v5m26 15v7m2-24v3m2-25v8m22-202v3m0 0v7m26-35v4m2 86v3m6-44v7m2-3v5m2 78v4m8-24v8m58-73v8m44 54v8m4 78v6m2-178v9m14 199v4m14-59v6m16-148v9m0 221v9m2-13v6m14-197v8m0 0v6m8-49v6m0 35v5m4-8v4" stroke="#8a8aff" stroke-width="2.0" fill="none"/>
<path transform="scale(.5)" d="M973 694v5m6 18v2m8-36v3m0 0v4m34 30v4m4-59v6m0 44v8m2-31v3m0 8v9m2-29v7m2 56v4m4-83v4m2-11v7m0 8v4m0 24v3m0 9v8m6 134v5m0 26v5m2-16v4m22-218v5m0 145v3m2 48v7m4 1v5m2-230v5m14 51v9m8-32v7m0 8v8m8 92v5m2-155v3m2 81v6m14-83v6m0 251v4m2-286v6m12 127v8m22-47v4m32 22v3m8-136v6m18 37v7m6-17v8m2 56v8m20 30v5m2-25v5m4-85v6m0 47v4m8 201v6m6-232v9m14 133v5m2 22v8m12-113v4m2-67v3m0 196v6m2-203v7m0 154v4m0 14v4m6-202v4m0 43v4m0 19v4m2-52v7m2 39v2m4-57v3m2 32v9m2-58v6m4 13v5" stroke="#8080ff" stroke-width="2.0" fill="none"/>
<path transform="scale(.5)" d="M943 710v1m0 13v2m0 0v5m0 0v4m0 3v2m0 7v2m0 0v3m0 2v3m0 0v5m0 3v4m0 4v3m0 8v4m0 0v2m0 6v4m0 0v4m0 0v5m0 0v4m0 0v2m2-111v3m0 0v2m0 0v3m0 0v2m0 0v4m0 0v4m0 2v3m0 0v4m0 9v2m0 15v2m0 0v1m0 0v3m0 0v5m0 7v2m0 2v3m0 16v3m0 5v2m0 0v5m0 0v3m0 0v2m0 3v4m0 2v2m0 7v4m4-139v3m0 7v2m0 0v4m0 0v2m0 0v3m0 0v3m0 0v4m0 4v2m0 0v4m0 4v2m0 18v3m0 3v4m0 0v2m0 4v3m0 0v2m0 0v4m0 0v4m0 0v3m0 2v3m0 0v4m0 10v5m0 2v4m0 11v4m0 16v2m0 2v1m4-162v2m0 4v4m0 0v5m0 3v3m0 11v4m0 8v1m0 0v4m0 22v4m0 8v3m0 3v4m0 7v4m0 0v4m0 0v2m0 0v4m0 6v2m0 3v3m0 11v2m0 17v4m0 0v3m0 0v3m0 0v3m0 3v2m2-178v3m0 2v3m0 2v4m0 0v3m0 3v3m0 0v3m0 0v3m0 4v3m0 0v2m0 0v4m0 2v4m0 0v2m0 0v4m0 5v3m0 0v2m0 20v3m0 11v3m0 16v4m0 0v3m0 0v2m0 0v3m0 0v4m0 0v2m0 5v2m0 0v5m0 9v5m0 0v2m0 3v2m0 0v3m0 0v3m0 6v2m0 0v2m0 2v3m4-187v2m0 15v2m0 0v5m0 11v3m0 0v5m0 7v1m0 13v2m0 4v2m0 0v4m0 0v3m0 0v5m0 7v2m0 11v3m0 5v4m0 0v2m0 3v2m0 0v3m0 7v3m0 0v3m0 0v2m0 5v2m0 25v3m0 2v2m0 8v4m0 0v4m0 0v2m2-198v3m0 0v2m0 0v5m0 0v5m0 0v4m0 0v1m0 5v4m0 0v2m0 0v3m0 0v3m0 4v5m0 0v3m0 4v2m0 2v2m0 0v3m0 7v3m0 4v2m0 14v2m0 0v5m0 0v3m0 0v4m0 5v4m0 4v3m0 0v3m0 0v2m0 4v3m0 5v4m0 7v4m0 0v4m0 0v4m0 0v3m0 3v3m0 0v4m0 0v3m0 7v4m0 4v3m12-205v4m0 24v4m0 0v2m0 0v2m0 7v2m0 3v4m0 0v2m0 11v2m0 0v2m0 4v4m0 0v3m0 10v2m0 0v5m0 6v3m0 5v2m0 0v4m0 9v3m0 7v4m0 10v3m0 14v5m0 8v4m0 0v4m0 0v3m0 0v4m0 7v4m0 0v4m0 10v4m0 2v3m0 0v4m6-236v3m0 20v3m0 6v4m0 0v3m0 5v2m0 0v4m0 0v4m0 4v1m0 0v3m0 11v3m0 3v4m0 0v2m0 21v2m0 4v3m0 0v3m0 4v3m0 0v2m0 5v5m0 0v3m0 7v2m0 0v2m0 0v2m0 8v3m0 0v4m0 0v2m0 0v5m0 2v4m0 0v3m0 10v2m0 0v3m0 7v3m0 0v2m0 10v4m0 2v4m0 0v2m0 0v5m6-206v4m0 2v3m0 0v4m0 13v2m0 0v5m0 9v3m0 7v2m0 8v3m0 0v4m0 10v1m0 9v2m0 6v2m0 11v3m0 0v4m0 2v4m0 0v4m0 0v2m0 3v3m0 0v3m0 5v2m0 21v2m0 5v5m0 0v3m0 4v5m0 3v3m0 0v3m0 4v2m0 4v1m2-217v3m0 0v3m0 0v3m0 0v4m0 0v5m0 8v2m0 0v3m0 0v4m0 3v3m0 0v4m0 0v3m0 5v2m0 0v2m0 0v2m0 3v3m0 2v3m0 0v5m0 0v2m0 5v4m0 2v5m0 6v2m0 0v4m0 0v2m0 4v3m0 2v3m0 0v5m0 0v1m0 4v5m0 0v3m0 9v4m0 4v3m0 16v2m0 0v3m0 3v4m0 3v2m0 0v4m0 5v2m0 2v4m0 8v3m2-248v5m0 36v4m0 19v3m0 5v3m0 6v2m0 12v2m0 8v5m0 0v2m0 0v4m0 0v2m0 8v4m0 0v3m0 9v4m0 10v2m0 15v3m0 0v4m0 0v2m0 0v5m0 7v3m0 0v2m0 0v3m0 6v3m0 4v5m0 14v4m0 2v2m4-229v2m0 30v2m0 0v2m0 0v4m0 0v4m0 5v4m0 2v4m0 0v2m0 0v4m0 4v2m0 8v3m0 0v3m0 5v2m0 5v3m0 5v4m0 4v3m0 0v3m0 6v3m0 5v4m0 14v5m0 5v4m0 8v3m0 9v3m0 0v5m0 12v3m0 0v3m0 0v3m0 0v2m0 2v2m0 0v3m0 7v4m4-212v5m0 0v2m0 4v3m0 2v4m0 0v4m0 5v5m0 5v5m0 17v3m0 7v4m0 21v2m0 7v4m0 0v4m0 0v5m0 22v3m0 0v4m0 0v3m0 0v2m0 12v4m0 5v2m0 0v2m0 0v2m0 3v4m0 0v3m0 4v3m0 0v2m0 4v4m0 0v3m0 0v1m0 5v1m2-194v4m0 4v2m0 0v2m0 19v2m0 5v2m0 15v3m0 3v4m0 0v4m0 0v3m0 4v3m0 0v3m0 2v3m0 0v3m0 0v3m0 4v3m0 0v4m0 2v4m0 5v3m0 0v3m0 0v1m0 5v3m0 0v3m0 26v1m0 6v2m0 3v2m0 0v4m0 11v3m0 0v2m0 0v2m6-208v4m0 0v2m0 3v2m0 0v4m0 0v5m0 6v3m0 8v3m0 0v3m0 0v4m0 20v3m0 0v4m0 0v5m0 2v3m0 4v5m0 8v4m0 0v2m0 11v4m0 0v4m0 16v3m0 0v5m0 6v3m0 0v4m0 3v3m0 0v2m0 15v3m0 2v5m0 8v3m12-265v7m0 0v9m0 0v3m0 0v4m0 0v8m0 0v8m0 7v4m0 31v5m0 0v2m0 0v2m0 10v3m0 0v2m0 4v2m0 0v4m0 0v4m0 0v2m0 11v3m0 9v5m0 3v4m0 0v3m0 5v3m0 0v3m0 4v4m0 2v4m0 0v2m0 0v3m0 0v3m0 11v4m0 6v2m0 2v3m0 0v3m0 0v5m0 0v2m0 8v4m0 0v3m0 5v4m0 0v3m0 2v3m0 0v1m2-264v4m0 0v6m0 0v3m0 0v8m0 7v3m0 7v6m0 0v7m2-51v8m0 0v7m0 0v6m0 4v7m0 0v5m0 0v7m0 0v3m0 41v3m0 0v3m0 15v1m0 3v3m0 8v4m0 5v5m0 3v5m0 6v4m0 0v2m0 5v5m0 0v4m0 8v4m0 0v4m0 2v4m0 20v4m0 0v3m0 1v4m0 3v3m0 0v4m0 0v3m0 0v4m0 5v3m2-252v4m0 0v4m0 9v5m0 5v6m0 0v8m2 3v5m2-36v9m2-16v6m2 72v4m0 11v3m0 0v2m0 8v4m0 4v3m0 3v2m0 7v3m0 10v3m0 0v3m0 5v2m0 0v4m0 0v2m0 0v5m0 3v3m0 11v5m0 16v3m0 2v2m0 2v2m0 4v2m0 0v3m0 0v3m0 4v3m0 0v2m0 17v2m0 0v1m4-178v3m0 0v2m0 3v3m0 11v2m0 8v3m0 0v4m0 44v2m0 11v4m0 0v2m0 0v4m0 0v2m0 7v3m0 0v2m0 16v3m0 0v4m0 9v2m0 8v5m2-225v3m2-36v8m0 0v9m0 5v7m0 0v5m0 17v7m2-51v3m0 4v3m0 6v3m0 72v4m0 0v2m0 0v3m0 5v4m0 18v4m0 2v4m0 3v4m0 0v5m0 2v4m0 13v4m0 11v8m0 0v6m0 57v3m0 0v3m2-256v9m2 143v8m0 0v4m0 18v8m0 11v6m0 10v5m0 7v8m0 11v7m2-255v9m0 6v6m0 14v8m0 108v6m0 27v4m0 0v7m0 11v5m0 0v6m0 12v5m2-248v5m0 4v7m0 30v4m0 98v8m0 27v7m0 72v5m2-170v3m0 0v3m0 2v3m0 0v2m0 0v4m0 27v2m0 0v3m0 0v3m4 88v5m0 23v3m2-12v3m2-166v4m0 2v3m0 0v3m0 0v5m0 0v3m0 0v2m0 9v2m0 5v4m0 2v4m6-143v8m0 10v6m0 26v7m0 171v4m0 37v2m2-238v7m0 5v4m0 94v8m0 11v7m2-113v6m4-68v6m0 0v8m0 0v7m0 0v8m0 0v9m0 0v5m0 0v6m0 0v8m0 0v4m0 0v4m0 0v4m0 79v4m0 0v8m0 14v6m0 15v8m0 0v7m0 0v7m0 0v4m2-183v8m0 14v9m0 86v5m0 0v8m0 0v7m0 0v8m0 0v8m0 0v8m2-90v5m0 4v2m0 0v3m0 0v2m0 4v4m0 7v2m2 52v4m2-201v6m0 6v7m0 0v4m0 0v8m0 6v6m0 0v5m0 12v6m0 0v5m0 110v4m0 0v9m0 0v4m0 6v8m0 0v7m2-211v3m0 0v3m0 0v8m0 9v9m0 0v9m0 9v8m0 44v2m0 0v2m0 19v5m0 0v3m0 30v8m0 0v7m0 22v6m6-217v5m0 48v8m0 102v3m0 7v8m0 0v8m0 0v3m0 5v5m2-194v6m0 4v6m0 0v8m0 0v4m0 6v5m0 0v5m0 0v5m0 0v6m0 6v6m0 83v5m0 10v7m0 8v4m4-82v1m0 4v4m0 0v2m0 6v3m0 0v3m0 2v2m0 0v3m0 0v1m2-144v5m0 86v4m0 0v3m0 0v4m0 0v9m0 0v4m0 37v7m0 0v7m0 0v9m0 8v7m2-103v3m0 3v6m0 6v3m0 50v8m0 0v8m0 0v6m0 0v6m2-74v3m0 7v3m0 7v4m0 0v3m4 9v8m2-11v7m0 0v8m0 0v8m0 0v4m4-54v5m4-44v8m0 13v7m0 26v7m0 6v3m0 0v8m0 0v3m2-72v6m0 5v6m0 0v5m0 23v4m0 0v7m0 0v5m0 0v8m6-8v8m2-137v7m0 119v7m4-35v2m2 23v4m2-158v5m0 118v3m0 2v3m0 20v4m4-48v6m2-113v6m0 87v5m0 4v3m0 36v8m2-144v4m0 12v8m0 38v8m0 22v7m0 29v8m0 0v4m8-52v8m26 15v6m6-17v4m2-17v8m8 22v2m0 5v8m8-139v5m0 24v6m0 0v6m0 47v4m0 45v3m2-151v4m0 132v2m0 14v7m6 2v3m0 155v1m2-163v9m2-12v5m2-69v7m0 11v8m0 0v6m0 4v6m0 18v4m0 4v7m2-63v8m0 0v3m0 17v7m0 0v5m0 5v2m0 6v9m2-44v6m0 7v7m0 22v4m6-63v6m0 9v5m0 6v8m0 17v6m0 11v9m2-76v8m0 0v9m0 6v6m0 43v7m8-16v8m0 0v5m0 9v5m4-52v5m0 0v2m0 0v4m4 27v5m2-147v3m0 147v6m0 7v3m0 0v4m2-104v9m0 54v7m2-46v3m0 8v4m0 18v3m2-46v6m0 0v8m0 44v5m0 0v8m0 0v4m0 0v7m2-136v3m0 24v3m0 26v7m0 0v3m0 0v5m0 14v5m0 3v4m0 4v3m0 19v7m0 0v7m0 0v6m0 0v5m0 0v4m0 0v4m0 0v3m2-114v4m0 24v3m0 0v2m0 0v3m0 6v2m0 2v4m0 0v4m0 0v3m0 0v2m0 126v7m2-168v5m2 36v7m0 4v4m0 0v5m0 8v5m0 0v6m0 0v7m0 0v3m0 0v4m2-204v8m0 0v4m0 6v8m0 5v8m0 0v5m0 0v4m0 0v4m0 6v7m0 7v5m0 0v8m0 106v4m0 0v5m2-86v2m0 4v3m0 0v3m0 22v3m0 1v6m2-47v2m0 0v2m0 0v5m0 7v3m0 0v2m0 5v4m0 0v3m0 0v2m2-140v5m0 5v5m0 145v4m0 8v5m0 0v7m0 0v5m0 0v8m0 8v7m2-215v6m0 0v6m0 0v5m0 0v8m0 0v7m0 0v5m0 4v4m0 0v6m0 0v7m0 0v6m0 0v4m0 0v8m0 103v8m0 0v5m0 0v5m0 23v6m0 0v9m4-126v4m0 4v5m0 4v4m0 2v2m0 0v5m0 0v2m0 0v4m0 0v5m0 0v4m4-145v7m0 0v3m0 0v7m0 3v6m0 12v6m0 162v7m0 17v6m0 7v6m2-101v6m2-149v5m0 48v8m0 35v2m0 4v2m0 4v3m0 0v2m0 4v3m0 8v4m0 0v3m0 0v2m0 3v2m0 0v4m0 0v3m0 32v3m2-38v6m2-154v9m0 9v7m0 8v7m0 15v7m0 41v2m0 0v3m0 0v3m0 0v4m0 0v4m0 5v3m0 0v4m0 4v3m0 0v4m0 2v4m0 0v3m0 0v9m0 37v4m0 14v7m0 0v3m0 0v4m0 0v4m0 0v3m0 9v7m0 0v9m0 0v3m0 0v6m2-274v5m0 7v5m0 12v4m0 8v9m0 7v4m0 0v9m0 82v9m0 15v7m0 9v4m0 0v7m0 0v5m0 5v3m0 15v6m2-8v8m4-234v7m0 13v5m0 0v3m0 0v5m0 0v4m0 9v7m0 0v4m0 0v7m0 0v8m0 82v7m0 24v7m0 0v9m0 0v5m0 5v8m0 15v7m0 4v3m0 0v8m2-255v7m0 0v6m0 4v7m0 0v7m0 76v4m0 0v2m0 7v2m0 3v3m0 0v3m0 18v4m0 8v5m0 0v7m0 0v8m0 3v8m0 0v6m0 13v5m0 0v6m0 4v9m0 4v6m0 3v4m0 11v5m0 0v3m2-270v7m0 34v9m0 0v7m0 95v4m0 0v3m0 0v9m0 0v5m0 0v6m0 0v7m0 7v7m0 0v7m0 0v4m0 0v4m0 6v6m0 42v1m2-6v6m2-249v4m0 0v8m0 0v5m0 0v8m0 16v5m0 0v3m0 26v4m0 0v3m0 0v5m0 12v4m0 9v4m0 13v2m0 0v2m0 7v2m0 2v4m0 12v6m0 8v4m0 5v5m0 6v9m2-221v6m0 0v9m0 0v5m0 5v7m0 6v4m0 3v5m0 4v8m0 124v3m0 0v8m0 14v6m0 0v7m0 3v9m0 18v6m2-248v6m0 83v3m0 0v4m0 0v3m0 0v3m0 5v2m0 8v2m0 0v3m0 0v2m0 16v3m0 12v2m0 0v3m0 8v3m0 0v4m0 11v7m0 0v8m0 0v4m0 0v9m0 0v4m0 0v6m0 0v3m0 0v7m0 0v8m0 0v3m0 0v3m0 7v2m0 0v3m2-270v9m0 36v5m2-44v7m0 0v5m0 6v6m0 0v4m0 0v6m0 0v7m0 4v7m0 14v2m0 18v3m0 0v3m0 0v2m0 9v3m0 0v4m0 13v4m0 4v2m0 0v3m0 0v3m0 0v2m0 0v2m0 8v3m0 11v3m0 1v5m0 4v3m0 0v2m0 3v4m0 0v2m0 0v3m0 2v3m0 0v3m0 9v4m0 7v5m0 0v4m0 4v4m0 0v3m0 7v4m0 0v3m0 0v3m0 4v3m2-254v7m4 13v5m2-24v8m2-1v5m2-3v4m2-25v7m0 6v5m0 0v4m0 0v7m0 8v8m0 3v7m0 9v3m0 25v3m0 10v2m0 3v4m0 5v2m0 0v3m0 19v3m0 0v2m0 0v4m0 13v3m0 1v5m0 8v4m0 2v4m0 2v5m0 0v2m0 22v3m0 0v4m0 11v3m0 0v4m0 0v4m0 0v4m0 0v4m0 6v3m0 0v3m0 0v3m2-253v6m2-1v5m0 16v8m2-50v4m0 0v8m0 0v4m0 0v6m0 0v4m0 0v5m0 8v8m0 39v3m0 4v4m0 0v4m0 0v5m0 0v2m0 0v2m0 0v2m0 13v5m0 6v3m0 0v3m0 0v2m0 5v2m0 4v2m0 0v3m0 17v4m0 0v4m0 2v2m0 0v4m0 7v2m0 0v2m0 10v5m0 5v2m0 2v3m0 3v4m0 6v2m0 0v2m0 4v1m0 0v5m0 8v3m2-207v3m0 0v5m0 7v3m0 0v5m0 17v4m0 2v3m0 0v4m0 0v3m0 0v4m0 3v3m0 0v2m0 4v2m0 19v4m0 0v3m0 12v2m0 4v3m0 2v2m0 15v4m0 12v2m0 2v3m0 0v4m0 5v4m0 0v3m0 0v4m0 5v3m0 4v4m0 4v3m2-218v4m0 6v5m0 3v4m0 0v3m0 15v5m0 0v2m0 7v2m0 0v4m0 0v3m0 6v4m0 19v2m0 0v4m0 3v4m0 6v1m0 6v2m0 4v4m0 0v3m0 10v4m0 0v5m0 0v3m0 0v4m0 0v3m0 4v3m0 0v3m0 5v2m0 8v2m0 3v2m0 4v4m0 9v3m0 0v3m0 0v4m10-197v3m0 0v4m0 13v2m0 9v4m0 0v4m0 15v3m0 0v3m0 0v3m0 0v2m0 17v3m0 0v4m0 7v3m0 0v4m0 0v3m0 3v5m0 3v5m0 3v4m0 0v2m0 5v3m0 0v2m0 0v3m0 0v2m0 4v4m0 9v2m0 4v4m0 5v3m0 4v3m0 4v4m0 0v1m14-236v2m0 15v3m0 5v4m0 3v3m0 0v3m0 3v5m0 3v4m0 14v4m0 0v3m0 0v3m0 5v4m0 0v4m0 0v4m0 2v5m0 0v3m0 2v5m0 0v4m0 0v3m0 38v3m0 11v5m0 0v4m0 0v4m0 7v4m0 2v3m0 0v3m0 11v3m0 0v2m20-235v3m0 3v4m0 0v2m0 0v2m0 0v3m0 0v4m0 0v3m0 0v4m0 3v5m0 0v3m0 6v2m0 0v2m0 0v3m0 5v3m0 5v4m0 3v3m0 0v3m0 3v3m0 10v4m0 0v3m0 0v3m0 9v3m0 5v3m0 0v4m0 11v4m0 2v2m0 4v4m0 3v3m0 0v2m0 6v4m0 11v3m0 3v4m0 0v4m0 20v2m0 9v5m0 7v2m0 0v3m4-245v4m0 0v4m0 0v3m0 0v2m0 0v4m0 0v2m0 0v4m0 0v4m0 0v2m0 3v2m0 0v4m0 2v2m0 0v4m0 4v3m0 0v5m0 9v3m0 0v2m0 14v4m0 4v2m0 2v2m0 9v4m0 12v3m0 0v4m0 7v3m0 0v4m0 0v1m0 0v5m0 10v4m0 0v5m0 10v2m0 0v2m0 0v4m0 0v3m0 11v2m0 0v4m0 2v5m0 0v4m0 0v2m0 4v3m0 4v4m0 9v2m0 0v3m4-247v2m0 0v3m0 0v4m0 0v4m0 0v3m0 0v5m0 0v3m0 0v5m0 0v3m0 0v4m0 10v5m0 0v2m0 8v4m0 17v4m0 0v4m0 0v2m0 0v3m0 13v3m0 0v2m0 0v3m0 0v3m0 11v5m0 0v1m0 0v4m0 0v5m0 2v3m0 3v3m0 0v5m0 0v3m0 0v2m0 5v2m0 0v4m0 6v4m0 0v5m0 0v2m0 10v4m0 5v4m0 0v2m0 2v1m0 4v3m0 0v3m2-233v4m0 0v4m0 0v4m0 0v2m0 0v3m0 2v2m0 0v5m0 0v2m0 15v4m0 0v2m0 6v2m0 4v4m0 4v4m0 0v2m0 11v3m0 5v4m0 0v4m0 4v5m0 0v3m0 0v3m0 0v3m0 0v2m0 3v5m0 0v4m0 4v3m0 2v3m0 4v4m0 6v4m0 4v3m0 0v2m0 0v3m0 0v3m0 0v3m0 9v3m0 10v3m0 0v3m0 6v4" stroke="#7575ff" stroke-width="2.0" fill="none"/>
<path transform="scale(.5)" d="M979 696v5m6-9v4m0 7v2m0 3v4m2-13v2m0 7v2m2-23v4m0 0v4m10-7v4m0 12v3m6 0v4m16 19v2m8-42v8m6-27v6m2 5v3m0 21v9m4 8v3m2 112v9m24-187v3m2 18v5m0 111v8m0 34v8m2-162v8m2 184v6m2-189v6m0 171v4m8-138v4m2 61v9m4-156v8m0 13v8m8 28v9m2-66v4m6 77v4m4-54v6m0 54v8m4-10v4m2-112v8m2 64v7m8-30v4m2 76v5m4-72v3m0 11v8m2-74v6m0 0v4m0 0v4m0 26v4m0 23v5m4 5v5m2-107v7m2 34v5m0 0v7m16 171v8m4-103v8m14-118v6m24 21v5m6 88v5m2-121v8m6 95v3m28-94v3m0 5v6m0 30v3m4 99v4m4-165v7m0 21v5m0 29v8m2-43v5m6 10v3m0 0v9m6 24v4m0 80v3m14 23v7m2-101v4m0 0v4m0 105v6m2-171v8m0 147v9m6-26v9m2-10v3m4-96v4m4 109v5m0 4v3m0 6v5m0 4v7m0 29v8m0 13v1m6-242v5m0 0v5m0 0v4m0 0v8m0 23v3m2-37v7m0 0v3m2 17v3m4-34v5m2-18v4m2-8v6m6 58v4m2-63v7m18 7v3m14-15v2" stroke="#6a6aff" stroke-width="2.0" fill="none"/>
<path transform="scale(.5)" d="M973 706v5m6 2v4m6-5v4m0 0v3m2-24v4m6 18v3m4-38v4m0 26v2m2-13v3m6-19v3m12 49v3m0 0v5m18-56v9m0 0v8m2-27v3m6 180v9m0 41v7m2-222v8m0 129v3m0 55v7m14-168v4m4 76v4m4-135v7m0 16v4m0 141v3m2-39v7m0 0v9m6-176v8m2 71v1m0 5v4m6-18v3m8 149v8m2-157v6m4-69v8m0 32v9m2-15v5m2 20v5m2 5v7m2 8v6m0 27v7m2-149v7m0 3v6m0 8v4m0 8v5m0 0v5m0 6v5m0 4v7m0 0v4m4 83v8m4-133v4m2 30v6m6-70v8m0 0v6m0 6v8m0 23v7m0 18v4m2-66v4m0 10v8m0 15v4m0 0v6m0 0v5m0 9v5m4 30v6m2-124v7m0 0v4m0 4v8m0 0v6m0 42v4m2-72v5m0 22v5m0 25v5m0 6v6m0 177v7m2-161v8m0 38v6m2-54v7m2-75v3m0 9v9m2 28v5m0 59v3m0 153v4m14-14v5m2-168v3m16-22v6m0 0v5m8 101v5m0 0v4m2-57v6m12-60v8m2 1v5m2-75v9m0 194v7m8-244v7m0 0v6m2-47v9m2 112v7m0 28v6m0 35v5m4 85v4m2-215v8m2 32v8m2-93v7m0 17v7m2 30v8m0 164v6m2-219v8m0 21v3m8-41v8m0 223v6m10-241v9m2 124v8m4-137v9m0 5v4m0 37v5m0 103v4m2-154v6m2 66v7m2-13v9m2-94v7m0 34v5m0 9v5m0 128v5m4-162v8m0 38v4m0 4v2m0 55v5m2-70v4m0 57v6m2-149v5m0 10v9m0 40v6m0 140v4m6-141v4m6 147v7m0 0v9m2-210v7m0 7v7m0 104v4m2-149v4m2 82v2m4-85v8m0 36v8m0 0v4m0 122v9m0 55v5m2-231v7m0 8v6m0 197v8m0 0v9m4-176v4m2-66v7m0 29v4m0 190v6m0 0v5m2-256v7m0 155v5m0 51v8m2-139v3m12-88v9m4-1v3m4 27v7m2 19v2m2-57v7m0 7v4m0 6v9m0 4v6m4 28v4m28-64v2m0 0v5m0 0v2m0 0v3m0 5v1m0 11v5m0 0v2" stroke="#6060ff" stroke-width="2.0" fill="none"/>
<path transform="scale(.5)" d="M973 699v4m0 12v3m6-13v5m6-26v3m0 18v3m2-16v3m2 9v4m8-22v3m0 14v2m2-25v4m6-2v3m0 18v4m0 4v2m20-42v4m0 14v5m0 0v7m6 23v4m0 7v3m4-15v3m0 16v4m6-20v4m0 15v4m2-84v5m0 25v5m0 171v4m0 5v8m0 15v9m2-226v5m0 155v6m0 29v6m0 20v7m6-179v4m0 8v3m2 102v4m6-136v3m8-73v3m0 0v7m0 8v7m0 36v8m0 112v7m0 0v7m0 36v6m0 0v7m0 0v7m2-224v4m0 9v6m0 132v7m2-169v6m0 124v5m4-127v4m0 177v7m4-61v6m4-66v5m0 125v9m4-173v4m0 212v5m2-240v7m4 90v9m2-136v8m0 215v7m2-217v5m0 187v8m2-200v8m0 6v5m2 111v7m4-77v5m6-8v6m2-67v3m0 39v4m0 60v7m0 16v9m4-142v9m6-6v6m2 2v4m0 26v9m0 214v5m2-288v5m4 35v6m0 96v5m2-119v9m4-28v4m4-33v9m0 70v6m0 148v8m4-146v4m2-68v7m0 69v5m0 0v5m0 4v5m4-36v8m0 22v7m8-66v9m0 59v5m14 125v8m2-109v8m2-177v5m4 110v5m2-95v7m6 59v4m0 172v4m6-159v6m4-95v7m0 3v5m0 21v8m0 28v6m0 143v6m2-154v8m2 5v8m0 122v7m4-242v5m0 49v6m0 225v6m4-189v7m6 161v6m2-170v7m2-92v7m2 45v5m2-71v6m0 0v6m0 5v8m0 0v7m2 85v8m2 48v7m4-164v5m0 61v4m4-52v8m6 183v4m2-118v6m0 56v5m0 4v7m2-15v6m0 9v7m0 38v7m4-222v6m0 15v4m0 45v8m2 106v7m2-138v8m0 0v7m0 12v5m0 89v3m2-173v7m0 20v9m0 31v6m0 127v5m4-199v6m0 0v6m0 72v2m0 84v7m2-183v9m0 69v4m0 69v5m8-75v3m4 184v9m2-271v8m0 175v6m0 27v4m2-45v8m0 35v6m0 5v6m2-41v3m0 19v6m2-140v3m4-55v8m0 146v3m2-141v5m0 119v7m0 39v4m4-156v3m2 172v4m2-222v5m0 33v5m0 110v7m0 0v6m0 12v6m2-130v3m4-56v8m0 37v4m0 21v4m2-81v6m0 35v6m2 4v2m0 3v4m0 14v2m4-63v9m0 5v6m4 14v5m4-48v4m0 16v4m8 28v4m0 6v4m14-28v4m14-14v2" stroke="#5555ff" stroke-width="2.0" fill="none"/>
<path transform="scale(.5)" d="M973 711v4m16-15v4m4-2v3m0 7v2m12-37v3m0 8v3m12 36v4m4-4v3m6-60v6m2 30v8m2 24v2m0 2v4m4-34v4m0 10v2m0 0v4m0 0v4m2-41v8m6 3v4m0 0v5m2-58v3m0 0v4m0 12v6m6 37v4m0 2v4m2 86v4m0 55v6m6-136v5m8-55v5m0 106v4m0 0v4m2-153v5m0 4v8m0 158v4m0 8v5m2-204v9m0 42v4m4-34v5m0 250v2m2-280v9m0 66v3m0 4v3m2 87v9m6-37v5m2-6v9m0 5v3m2-139v9m4 202v4m2-242v4m2 0v9m2-15v5m0 36v6m2 7v9m0 43v7m0 30v7m0 3v4m0 0v6m0 7v6m2-117v6m2 15v5m0 0v5m0 0v3m0 78v7m2-162v8m0 4v8m0 21v4m0 118v4m2-47v8m2-59v5m0 173v8m2-255v5m0 72v5m0 0v8m0 36v9m0 60v6m2-211v4m0 10v4m0 0v6m0 4v8m2-24v7m0 29v5m0 99v5m0 49v9m4-41v7m2-142v6m0 126v7m2-182v3m0 0v9m2 84v5m4-100v4m0 20v7m0 21v5m0 180v9m0 0v7m0 22v4m2-282v4m0 0v4m0 19v7m0 23v6m2 22v7m0 63v5m2-111v5m0 12v7m2-65v3m0 32v7m0 7v3m0 6v6m2-27v5m0 26v7m0 70v3m0 48v4m0 27v8m2-141v4m2-21v7m2-3v4m2 70v7m0 22v5m0 18v8m0 38v5m4-269v4m2 36v6m2-42v3m0 196v7m2-219v3m0 103v5m0 9v7m0 44v3m0 66v6m0 0v8m6-115v6m0 12v7m0 28v8m2-87v5m4-1v9m2-29v6m0 95v6m0 61v7m0 14v8m2-196v3m0 31v9m4-123v8m0 233v8m2-237v8m0 73v3m0 164v6m0 17v4m2-30v7m2-88v3m6-123v5m8 121v3m0 88v3m2-301v8m0 8v3m0 228v6m0 7v6m4-86v7m2-170v8m0 208v4m0 25v7m2-254v4m0 166v8m2-182v5m2 25v6m0 12v5m0 54v4m2-107v8m0 15v9m0 0v5m0 0v6m0 27v4m0 136v4m0 6v4m4-128v4m0 8v9m4-127v3m2 66v5m0 100v7m0 7v3m0 115v3m2-97v8m4-118v4m0 0v5m2-61v5m0 0v8m0 0v7m4 26v8m4-55v7m0 14v6m0 12v8m2-75v8m0 20v4m0 22v7m0 0v5m0 205v8m2-111v4m0 0v5m2-31v7m2-150v5m0 221v8m2-188v8m0 200v7m2-193v8m0 4v4m0 0v9m0 93v7m2-198v8m0 81v4m2-75v8m4 2v8m0 22v4m0 30v2m0 81v5m0 7v7m2-114v2m0 16v4m0 127v6m2-219v5m0 26v9m4 101v3m2-77v2m0 10v3m2 109v7m0 54v6m4-70v8m2-209v9m0 61v6m0 5v3m0 84v9m0 31v9m0 14v5m0 6v4m0 0v4m2-220v7m0 11v8m0 105v7m0 108v3m2-198v2m0 2v4m4-40v6m0 0v5m0 95v6m0 0v6m0 57v4m2-21v7m0 0v9m0 50v3m4-191v4m2-74v5m0 19v5m0 179v6m2-158v5m0 93v7m0 52v4m0 8v6m0 19v4m2-184v3m6-60v7m0 0v6m0 28v5m2 8v3m0 7v2m6-59v5m0 17v7m8 33v4m0 0v5m6-14v2m0 6v4m2-76v3m0 5v2m12 24v2m14-16v5m0 3v4m0 2v2" stroke="#4a4aff" stroke-width="2.0" fill="none"/>
<path transform="scale(.5)" d="M979 693v3m6-9v2m0 11v3m2 3v2m0 2v2m2-4v1m0 2v5m4-7v3m0 2v3m4-39v4m2 4v2m0 19v4m6 7v4m12 9v4m8-54v8m6 30v2m4-44v7m6 46v4m2-76v7m0 22v8m0 180v5m0 20v3m2-198v7m0 148v6m6-185v5m0 30v3m0 92v3m2-124v4m6 29v3m2 74v8m0 59v5m0 0v4m0 13v4m2-190v7m4-35v5m0 176v8m0 0v6m0 31v8m2-205v6m2-31v6m0 23v3m0 0v5m0 93v5m0 48v5m2 45v4m2-216v8m2-53v8m0 84v4m0 85v4m4 24v6m0 36v5m2-176v2m0 122v4m2-48v7m2 74v8m2-192v7m0 207v2m2-61v8m0 12v7m2-86v5m0 20v8m2-47v7m0 14v9m2-148v4m0 7v8m0 187v3m2-242v5m0 218v4m0 15v3m0 20v5m2-88v7m2-156v5m0 41v6m0 69v4m0 9v5m0 6v9m2-25v4m0 90v5m2-220v6m0 20v3m4-72v6m2 23v5m0 47v4m0 0v5m0 58v7m0 115v9m2-272v5m0 0v5m0 41v6m0 0v6m0 118v9m2-166v8m0 0v5m0 12v5m0 164v6m0 29v6m2-45v4m4-194v6m0 144v5m0 66v3m2-218v7m0 166v6m0 0v7m2-200v6m0 59v7m0 13v4m2 179v2m2-275v6m0 7v5m0 134v5m0 21v3m0 80v8m2-221v6m0 77v9m2-57v8m2-122v8m2-2v4m0 0v8m0 17v3m0 44v4m0 106v8m2-171v5m0 26v7m2-72v6m0 71v8m0 29v3m0 30v4m2-44v7m0 3v6m2-27v8m0 14v4m0 9v9m2 14v8m2-155v5m0 87v7m0 5v4m0 13v9m2 84v6m2-226v9m0 54v8m0 35v4m2-8v8m0 8v6m0 11v6m0 47v6m2-211v6m0 282v4m0 19v8m2-168v3m0 96v5m2-258v6m0 32v8m0 95v3m2-122v3m0 43v8m0 24v4m2-99v5m0 11v5m0 274v9m2-106v8m2 87v8m2-216v7m0 10v6m0 64v8m2-115v3m0 98v7m0 50v6m0 78v5m6-268v3m0 8v8m0 46v5m0 17v7m2-129v8m0 211v8m0 78v7m4-246v4m0 13v5m0 104v4m2-5v5m2-132v4m0 137v7m0 51v7m4-25v6m0 59v8m2-205v3m0 42v5m2-138v3m0 5v4m0 25v6m0 9v4m0 67v8m0 106v5m2-213v7m0 116v3m2-68v4m0 8v8m2-31v5m2-59v6m0 6v8m0 0v8m0 0v8m0 97v7m0 0v4m0 119v6m2-287v4m0 165v6m0 14v8m0 47v4m0 30v6m4-311v6m0 40v9m0 94v4m0 16v6m0 60v7m2-210v5m0 57v3m0 113v8m2-158v4m0 130v5m0 34v7m4-133v7m0 40v6m0 0v6m2-117v6m0 4v4m0 23v4m2-9v5m0 202v4m2-138v3m0 0v5m0 50v4m2-89v3m0 150v8m8-270v3m0 136v6m0 89v9m4-247v4m0 42v5m0 18v9m0 140v4m0 0v9m0 36v6m2-275v5m0 0v8m0 39v7m2 37v7m2-90v8m0 56v6m0 6v8m0 55v3m2-131v4m0 18v4m0 11v7m0 0v3m2-21v7m0 162v4m2-211v8m0 89v4m0 51v7m0 60v5m2-149v4m0 13v3m0 64v5m2-108v4m0 162v6m2 4v5m2-213v3m0 22v8m0 26v4m0 73v5m0 0v9m0 19v6m0 40v7m0 23v6m0 0v8m2-267v4m0 16v8m0 132v5m0 0v5m0 0v5m2-136v7m0 0v7m2 204v6m2-70v8m0 13v8m2-141v4m0 0v2m6 65v8m0 0v9m0 13v5m2-176v8m0 43v5m0 16v2m0 0v2m0 175v4m2-259v5m0 30v9m0 110v3m0 39v6m0 6v3m2-149v2m4-57v9m0 130v8m0 12v4m0 17v8m0 12v4m2-75v8m0 3v6m0 10v8m0 49v9m4-161v2m2-22v4m0 197v7m2-256v3m0 0v4m0 5v5m0 20v8m2 12v4m0 6v3m0 2v3m4-84v7m0 51v4m0 21v4m4-10v3m6-28v3m14 19v2m0 6v2m2-30v3m0 0v1m12-41v4m0 0v4m0 4v5" stroke="#4040ff" stroke-width="2.0" fill="none"/>
<path transform="scale(.5)" d="M987 701v2m2 6v2m4-31v3m0 3v4m0 15v4m4-9v3m2-7v5m6 12v5m12 6v3m4 9v2m0 4v3m6-50v8m4 25v3m0 0v4m0 5v2m10-8v2m0 7v2m2-30v8m0 128v6m2-193v5m0 43v6m0 124v4m6-183v5m0 61v4m0 6v2m0 64v6m0 37v6m0 36v8m2-93v5m0 0v5m0 8v7m0 8v6m0 62v5m6-183v3m0 69v7m2 96v5m6-31v4m2-232v3m0 0v8m0 211v7m0 0v6m0 10v5m2-242v6m0 0v3m0 160v8m0 0v7m4-163v8m0 176v4m0 0v5m2-130v2m0 53v7m2-119v9m0 118v7m0 49v4m2 5v8m0 17v5m4-250v5m0 134v7m2-125v3m0 118v5m0 66v6m0 16v5m0 12v8m2-269v8m0 196v9m0 31v7m0 14v7m4-199v6m0 6v8m0 61v7m0 12v4m2-158v5m0 0v8m0 122v8m0 27v4m0 63v6m2-38v6m0 8v8m0 17v8m2-259v6m0 25v7m2 34v7m0 50v3m0 41v7m2-149v7m0 31v4m0 16v7m0 24v4m0 0v8m0 55v8m0 12v8m2-183v6m2 147v7m0 23v8m4-148v7m0 93v5m0 26v7m2-192v6m0 62v6m0 51v8m0 45v5m2-231v4m0 44v7m0 24v7m0 155v6m0 16v7m2 5v7m2-256v4m0 17v5m0 40v6m0 109v8m0 57v7m0 0v4m4-215v7m0 0v7m2-81v7m0 16v3m0 152v3m0 50v9m0 13v9m0 0v9m2-134v6m0 35v6m4 28v6m0 17v7m0 33v8m2-61v7m0 15v7m0 21v8m0 11v4m2-305v7m0 191v4m0 29v7m2-225v9m0 39v3m0 126v8m2-123v6m0 166v5m2-255v4m2 16v4m0 14v6m0 56v5m0 0v3m0 36v6m0 4v7m2-108v9m0 55v3m0 16v4m0 44v5m0 87v5m2-273v6m0 185v9m0 82v6m2-118v3m2-60v3m2-133v3m0 71v6m0 103v6m0 50v4m2-196v5m0 32v6m0 20v6m0 26v6m2-134v5m0 67v4m0 13v6m0 28v8m0 40v6m2-84v3m0 61v6m0 12v4m0 15v8m0 13v5m2-175v8m0 210v8m2-242v6m0 7v4m0 0v4m0 67v3m0 11v4m0 22v7m0 43v4m0 73v8m2-272v3m0 32v5m0 23v4m0 31v7m0 59v9m0 26v6m0 55v4m0 21v3m2-189v5m0 24v6m0 13v5m0 116v4m0 14v6m4-172v5m0 113v7m0 20v8m0 8v9m2-330v4m0 64v3m0 41v6m0 53v5m0 31v3m0 54v8m0 26v9m2-302v6m0 42v7m0 23v5m0 0v6m0 0v3m0 9v5m0 80v8m0 4v4m0 60v8m0 13v5m2-125v5m0 103v7m2-17v6m2-248v5m0 14v5m0 26v7m0 61v6m0 26v5m0 57v8m0 22v4m0 12v9m2-182v6m0 16v3m0 22v6m0 59v3m0 48v4m0 14v6m2-289v4m0 21v8m0 193v4m2-136v8m0 38v3m0 18v6m2-47v6m2-114v4m0 89v8m0 183v6m2-69v8m0 82v1m2-120v4m0 74v8m0 20v6m2-160v4m0 0v4m0 22v4m2-15v7m0 8v6m0 67v5m0 5v4m2-262v8m0 28v9m0 31v6m0 65v4m0 154v3m2-163v7m0 130v7m2-266v4m0 70v8m0 62v5m2-177v8m0 179v7m0 15v4m0 5v7m2-185v7m0 0v9m0 22v9m0 0v6m0 0v6m0 185v7m0 18v3m2-282v6m0 88v7m2-120v4m0 63v5m0 75v9m2-169v8m0 70v6m0 167v5m0 50v7m2-308v4m0 35v7m0 13v5m0 13v6m0 0v5m0 72v8m0 46v7m2-199v5m0 57v5m0 55v9m0 0v8m0 108v5m2-178v6m0 43v4m0 69v4m0 37v3m2-245v5m0 8v8m0 32v4m0 0v7m0 137v8m2-195v6m0 24v3m2-9v7m0 38v8m0 57v8m0 29v5m0 29v9m2-178v4m0 121v7m0 44v7m2-192v9m0 107v4m0 47v5m2-221v6m0 5v3m0 50v8m0 7v9m0 158v3m2 6v6m2-2v6m2-157v6m0 34v4m0 8v5m0 50v8m2-172v9m0 213v8m2-62v7m2-207v9m0 179v3m0 16v8m0 11v6m2-206v4m0 22v4m0 78v4m0 36v3m0 5v7m0 73v6m2-268v3m2-21v8m0 46v5m0 153v4m0 36v7m2-214v6m0 124v8m0 61v8m2-196v5m0 99v8m4 54v4m0 29v5m2-152v4m2-18v2m0 4v4m0 67v6m0 4v4m0 15v9m0 38v5m2-214v8m0 175v3m0 53v8m6-249v6m0 6v4m2 179v9m2 28v3m2-256v3m0 26v5m0 120v8m0 46v8m2-206v8m0 0v3m0 29v8m0 25v2m0 12v4m0 145v9m2-214v3m0 130v7m0 0v7m0 40v8m2-162v3m4-57v4m0 175v5m0 8v8m0 16v6m0 0v7m2-243v8m0 0v8m0 13v8m0 16v7m0 157v3m0 8v3m4-167v2m0 19v4m0 4v3m2 135v5m2-237v5m0 31v6m0 0v7m2 33v2m8-22v2m6-56v7m0 16v4m0 0v8m2-5v7m8-32v3m4 49v4m2-54v4m0 26v2m0 8v2m2-19v4m0 20v3m10-37v4m0 8v4m0 5v4" stroke="#3535ff" stroke-width="2.0" fill="none"/>
<path transform="scale(.5)" d="M979 690v3m8-3v2m2 3v5m0 16v4m4-30v5m4-2v3m0 0v4m0 8v4m2-35v3m0 12v4m6-16v2m0 17v4m12 32v2m0 8v4m12-71v5m0 15v8m0 8v6m2 1v3m4-40v5m0 31v3m0 13v3m6-3v3m2-60v8m2-5v4m0 228v4m6-177v4m0 0v2m0 95v6m2 63v4m6-229v5m0 35v2m0 7v4m0 98v7m2-157v4m0 217v4m0 0v6m2-45v7m4-35v3m0 3v5m0 14v7m0 40v7m2-119v7m0 76v6m2-191v5m0 93v8m0 5v8m0 45v5m0 0v7m0 33v7m4-259v9m0 222v8m0 0v8m0 12v5m2-84v7m2-195v4m2 241v4m2-172v3m0 0v3m0 11v2m0 115v8m0 14v7m2-70v8m0 34v4m0 11v9m2-245v6m0 62v5m0 122v5m2 34v9m2-31v4m0 0v8m0 27v7m2-257v8m0 3v6m0 133v7m0 70v7m0 13v6m2-201v6m0 0v6m0 17v8m0 50v8m0 118v6m2-61v4m0 70v2m2-282v7m0 56v7m0 123v4m0 79v6m2-293v6m0 23v6m0 55v4m0 7v6m2-41v5m0 93v9m0 28v8m0 16v4m0 8v9m2-234v3m0 10v8m0 41v7m0 22v7m0 53v5m2 33v6m0 65v5m2-274v6m0 9v5m0 61v8m0 6v3m0 55v3m0 116v4m0 0v6m2-13v7m4-109v6m0 66v6m0 0v3m2-238v6m0 177v8m0 18v3m0 0v4m0 6v3m0 47v7m2-231v5m0 0v6m0 173v7m2-154v8m0 104v7m2-176v5m0 170v8m0 8v5m0 8v3m0 0v8m0 8v8m2-103v5m0 14v8m2-153v9m0 93v3m0 8v6m0 67v8m2-234v6m0 83v6m0 132v8m4-251v4m0 180v4m0 58v7m2-197v6m0 190v8m0 23v9m2-259v5m0 79v7m0 90v5m0 80v4m0 0v8m2-286v4m0 13v6m0 161v7m0 80v8m2-291v5m0 38v3m0 111v4m0 4v5m0 24v4m0 61v4m0 16v4m0 0v9m2-201v9m0 73v5m0 7v7m0 104v2m2-189v8m0 117v7m0 41v8m2-130v8m0 10v4m0 87v4m2-288v7m0 10v5m0 48v5m0 120v6m0 38v6m0 37v9m2-243v8m0 105v3m0 61v7m0 40v7m2-282v4m0 30v9m0 0v4m0 13v6m0 55v4m0 65v5m2 10v8m2-139v4m0 23v6m0 39v3m0 64v6m0 79v7m0 9v4m2-308v3m2 14v5m0 0v8m0 102v6m0 8v4m2-92v6m0 108v7m0 28v3m0 54v6m2-169v6m0 141v9m2-166v8m0 0v6m0 15v4m0 58v7m0 63v5m2-239v6m0 100v6m0 116v3m0 34v5m2-244v6m0 37v8m0 14v5m2-109v5m0 20v5m0 173v6m0 55v5m0 17v8m2-282v4m0 77v5m0 0v8m0 50v6m0 8v4m0 4v9m0 0v5m0 0v6m0 48v9m0 0v4m2-108v4m0 131v7m2-298v4m0 86v6m0 66v8m2-194v8m0 77v4m0 59v5m0 26v4m0 27v4m0 39v5m0 12v6m0 29v5m0 16v6m2-276v8m0 10v7m0 14v6m0 33v9m0 0v3m0 94v8m0 63v7m2-307v7m0 31v8m0 0v7m0 87v6m0 130v6m2-233v6m0 72v9m0 174v8m2-309v9m0 20v6m0 10v6m0 5v8m0 93v3m0 7v5m0 42v8m0 85v4m2-326v4m0 5v5m0 53v5m0 23v9m0 74v7m0 42v4m0 5v7m0 43v4m2-263v9m0 59v3m0 14v8m0 174v8m2-269v5m0 47v7m0 87v7m0 73v5m0 14v6m0 19v9m2-289v9m0 37v8m0 108v3m0 53v6m0 19v3m0 53v4m2-128v7m0 33v4m0 0v5m0 6v7m0 26v8m0 6v3m0 0v4m2-271v9m0 0v5m0 0v3m0 24v6m0 5v5m0 80v6m0 54v5m0 80v4m2-246v6m0 42v8m0 37v9m0 54v5m0 43v4m0 28v5m0 0v3m2-249v8m0 43v6m0 0v9m0 111v5m0 43v5m2-281v6m0 72v4m0 154v8m0 47v7m2-277v6m0 0v5m0 30v8m0 88v8m0 121v8m2-284v3m0 27v7m0 53v8m0 41v3m2-157v7m0 54v9m0 16v5m0 104v7m0 84v3m2-238v8m0 0v4m0 19v6m0 79v8m0 64v6m0 38v9m2-205v9m0 76v8m0 126v2m2-295v8m0 27v5m0 228v8m2-129v5m0 0v5m0 115v8m2-292v6m0 0v9m0 253v7m0 9v8m2-283v5m0 21v7m0 174v9m0 12v8m0 9v7m2-155v8m0 81v5m2-165v4m0 21v5m2-30v5m0 44v6m0 18v6m0 38v3m0 62v6m0 38v5m2-80v5m0 92v7m0 0v6m2-219v8m0 19v7m0 57v3m2-132v5m0 5v4m0 223v9m0 0v7m2-194v7m0 4v6m0 48v4m0 77v3m0 41v8m2-292v3m0 4v9m0 221v8m0 39v6m2-244v7m0 27v7m0 175v8m0 27v2m2-260v5m0 34v4m2-80v8m0 12v7m0 0v5m0 69v9m0 3v8m2-72v5m0 24v4m0 130v6m0 15v4m0 23v4m0 22v7m2-46v7m2-235v8m0 35v6m0 87v8m0 26v5m0 14v7m2-166v9m0 175v6m2-231v6m0 57v5m0 174v6m2-21v8m2-230v7m0 69v3m0 16v2m0 100v4m0 43v4m2-238v4m0 4v8m0 185v6m2-223v4m0 276v5m2-33v5m0 13v4m2-53v5m2-172v4m0 109v3m0 0v5m2-20v6m0 22v6m0 34v3m2 33v4m0 21v2m2-281v5m0 41v5m0 14v5m0 0v3m0 0v3m0 168v4m2-30v8m2-216v4m0 4v4m0 5v4m0 138v7m0 37v5m0 43v5m6-261v7m2 154v3m0 24v9m0 0v6m0 23v8m10-142v3m0 0v2m4-42v7m0 12v4m4 12v2m0 2v2m4-75v7m20-4v4m0 19v3m10-1v3m0 12v4m14 0v3" stroke="#2a2aff" stroke-width="2.0" fill="none"/>
<path transform="scale(.5)" d="M985 696v4m8-17v3m4 19v3m2 3v5m22 8v3m0 11v4m0 3v2m6-83v6m8 46v4m8-20v6m8-14v4m0 0v7m0 6v7m0 105v6m0 8v7m0 19v7m2-214v6m0 170v4m0 0v4m0 60v8m6-215v5m0 0v5m0 41v2m2-29v5m0 103v5m0 0v8m2-120v4m0 146v7m0 36v8m6-221v8m0 153v7m0 20v4m0 11v8m0 0v6m2-34v7m0 7v6m0 8v5m4-37v8m2-196v8m0 8v3m0 0v7m0 5v3m0 11v5m0 80v6m0 5v8m0 59v6m0 23v3m2-271v3m0 48v3m0 128v4m4-116v3m0 163v6m0 25v4m2-213v6m0 136v8m0 38v5m2-258v6m0 44v8m0 106v5m0 0v6m0 3v7m0 29v6m2-206v4m2 176v8m0 32v4m0 34v7m2-267v8m0 28v7m0 43v5m0 61v7m0 85v8m2-202v8m0 0v6m0 8v6m0 0v4m0 0v9m0 39v3m0 46v5m0 43v6m0 30v3m2-98v5m2-169v6m0 178v5m0 0v7m0 31v9m0 12v5m2-258v6m0 18v8m0 147v4m0 15v8m0 52v4m2-268v6m0 79v9m0 106v8m0 55v9m0 0v4m2-290v9m0 8v5m0 8v5m0 0v9m0 160v4m0 17v8m2-47v5m0 35v8m0 22v4m0 14v6m2-109v9m0 50v3m2-226v9m0 3v5m0 4v4m0 0v5m0 31v8m0 0v7m0 18v8m0 32v5m0 15v6m0 55v3m0 17v7m2-203v8m0 22v6m0 181v8m2-221v9m0 146v6m0 70v6m2-101v7m0 58v5m0 33v4m2-200v3m0 111v3m2-199v4m0 95v4m0 177v2m2-84v4m0 8v8m0 27v5m0 24v8m2-113v5m0 8v5m0 35v6m0 53v1m2-244v4m0 29v7m0 12v8m0 27v6m0 17v7m0 43v9m0 19v8m0 23v5m2-95v8m2-136v3m0 103v6m0 38v5m0 11v5m0 14v3m0 20v4m2-103v4m0 0v5m0 25v7m2-210v8m0 167v4m0 64v3m0 8v9m2-271v6m0 17v8m0 58v6m0 0v6m0 86v4m0 50v6m2-181v7m0 82v5m0 81v4m0 17v3m2-102v6m0 58v8m0 8v8m0 27v7m0 0v5m2-283v7m0 0v4m0 4v7m0 0v7m0 23v7m0 93v5m0 8v8m2-145v7m0 39v7m0 0v4m0 46v3m0 92v8m0 28v5m2-258v9m0 0v8m0 7v6m0 0v7m0 25v6m2-45v9m0 0v8m0 0v9m0 0v5m0 20v9m0 158v8m0 0v4m0 0v4m2-191v4m0 85v9m0 23v7m0 49v8m0 16v7m2-206v5m0 103v7m0 33v3m0 14v5m2-243v9m0 9v7m0 110v4m0 48v4m0 8v4m2-215v4m0 61v7m0 12v5m0 24v8m0 84v6m0 21v4m0 0v8m0 7v6m0 6v7m0 7v5m0 0v8m2-271v9m0 118v8m0 130v5m0 24v3m2-303v4m0 79v6m0 0v7m0 6v8m0 0v6m0 66v7m0 88v9m2-241v8m0 10v4m0 14v5m0 185v4m2-274v3m0 22v7m0 30v7m0 32v7m0 28v7m0 12v8m0 99v8m2-286v6m0 212v6m0 11v3m2-98v3m0 65v8m2-208v3m0 131v4m0 14v7m0 33v5m0 74v4m2-289v6m0 0v8m0 102v8m0 11v5m0 19v4m0 13v7m0 34v7m0 15v6m0 19v6m0 45v4m0 0v6m2-337v9m0 15v8m0 36v5m0 66v4m0 94v8m0 21v5m4 36v9m2-283v8m0 116v3m0 27v5m0 35v8m0 79v6m0 0v6m2-254v6m0 75v7m0 54v4m0 43v3m2-124v6m0 59v7m0 10v3m0 30v5m0 6v6m0 61v3m2-108v5m2-200v8m0 96v6m0 6v4m0 50v5m0 43v3m0 6v4m0 27v9m2-273v3m0 94v6m0 73v5m0 105v7m2-275v8m0 33v6m0 22v7m0 12v7m0 8v5m2-142v9m0 137v6m0 9v6m0 101v8m2-246v6m0 4v9m0 100v7m0 49v6m0 56v8m0 7v5m0 19v4m0 7v3m2-312v6m0 5v5m0 63v4m0 119v4m0 44v5m0 45v8m2-139v6m0 67v4m0 39v8m0 10v5m2-297v8m0 35v5m0 0v7m0 6v9m0 65v6m2-25v6m0 25v5m0 47v5m0 51v9m2-194v7m0 86v4m0 18v6m2-184v9m0 31v5m0 161v4m0 6v6m2-238v8m0 5v6m0 25v5m0 37v7m0 11v5m0 99v7m2 25v3m0 67v2m2-306v6m0 55v4m0 165v7m0 68v1m2-291v5m0 23v6m0 133v4m0 32v7m0 64v4m2-231v4m0 8v7m0 88v8m0 0v4m0 22v7m0 5v6m0 24v5m0 42v5m2-269v5m0 7v5m0 61v9m0 0v6m0 87v7m0 48v5m2-221v4m0 146v4m0 22v8m2-2v7m2-213v8m0 0v4m0 31v6m0 190v3m2-246v7m0 28v5m0 9v7m0 17v7m0 0v5m0 11v4m0 57v8m0 20v6m0 0v6m0 16v8m2-222v3m0 126v4m0 11v9m0 80v9m0 11v8m0 13v5m2-297v6m0 19v7m0 149v4m0 11v7m2-52v7m0 18v5m0 0v8m2-89v8m0 0v4m0 0v4m0 59v5m0 4v4m0 103v5m2-282v4m0 58v3m0 41v6m0 32v4m0 88v7m0 15v8m2-261v5m0 18v3m0 162v5m0 25v3m0 53v6m0 0v3m2-239v8m0 135v7m2-209v4m2 79v6m0 99v7m0 44v8m0 14v8m0 26v3m2-296v7m2 201v5m0 26v7m0 38v5m2-287v3m0 21v8m0 4v8m0 6v9m0 108v7m0 8v4m2-161v4m0 121v9m0 13v9m0 10v8m0 7v4m0 70v5m2-284v4m2 257v9m2-182v2m0 20v2m0 106v4m0 19v5m0 19v5m2-204v7m0 4v5m0 125v8m2 15v7m0 20v4m0 0v5m2-6v6m0 11v3m2-223v8m0 209v4m2-58v7m2-189v9m0 30v4m0 83v4m0 24v7m0 21v6m0 31v6m2 6v9m2-250v7m0 0v7m0 5v7m0 14v5m0 145v3m0 58v6m2-236v7m0 37v3m0 106v9m2 38v5m0 20v5m6-225v4m0 135v3m0 76v8m2-245v6m0 26v5m0 7v6m8 193v3m6-179v2m4 5v5m6-81v7m8 45v4m8-42v2m0 3v2m0 25v5m2-43v3m10 21v2m0 14v4m14-12v1" stroke="#2020ff" stroke-width="2.0" fill="none"/>
<path transform="scale(.5)" d="M985 689v3m2 11v3m6-9v5m4-13v1m0 0v3m2 23v2m6-22v3m20-24v6m4-18v5m12 71v4m4-74v7m6-8v7m0 58v2m0 122v4m0 37v7m0 0v3m0 0v6m2-254v8m0 8v4m0 0v7m0 169v8m0 27v7m6-237v8m0 138v8m0 81v6m0 0v8m0 0v3m2-261v3m0 16v8m0 134v3m0 25v4m0 16v6m2-216v3m0 30v7m0 107v7m0 56v5m0 19v5m0 0v4m4 30v2m2-240v4m0 26v5m2-28v6m0 123v4m0 31v5m0 57v7m2-43v9m0 30v4m2-43v8m2-222v8m0 0v3m0 33v5m0 6v4m0 15v4m0 56v4m0 40v7m0 13v7m2-215v9m0 25v3m0 18v6m0 170v3m0 0v7m2 11v6m2-169v4m0 160v7m2-258v5m0 164v7m0 82v6m2-245v7m0 172v4m0 41v4m0 8v7m2-58v6m0 15v5m4-208v7m0 0v7m0 10v7m0 110v9m0 27v7m0 46v5m2-109v6m0 82v6m2-26v5m2-53v3m0 6v3m0 60v7m2-261v5m0 28v4m0 17v8m0 7v6m2-77v6m0 140v6m0 18v6m2 103v5m2-108v5m0 5v7m2-204v6m0 6v9m0 83v8m0 74v5m0 5v8m0 23v5m0 56v6m2-295v8m0 23v4m0 16v5m0 88v4m0 108v9m0 0v3m2-242v8m0 27v7m0 0v8m0 4v3m0 204v8m2-90v7m0 6v5m0 0v7m0 50v8m0 6v3m2-299v6m0 7v6m0 156v4m0 0v8m0 0v8m0 49v4m0 17v5m2-217v5m0 31v4m0 6v3m0 15v3m0 104v7m0 53v4m2-240v8m0 30v3m0 0v6m0 107v8m0 75v9m2-229v4m0 107v8m0 23v8m2 33v7m2-231v9m0 9v7m0 22v7m0 124v8m0 84v7m2-296v4m0 29v5m0 9v6m0 0v8m0 6v5m0 27v9m0 36v7m0 14v5m0 20v7m0 0v5m0 25v4m2-162v7m0 90v9m2 5v5m0 5v7m0 29v8m0 21v8m0 14v5m0 0v6m2-281v8m0 0v4m0 31v6m0 9v8m0 59v8m0 117v6m2-219v4m0 84v5m0 31v5m0 42v7m0 11v4m2-159v7m0 124v5m0 0v6m0 0v7m2-51v5m0 18v7m0 46v8m0 37v2m2-271v6m0 24v6m0 16v4m0 36v8m0 118v8m2-241v5m0 0v3m0 41v5m0 81v7m0 0v8m0 0v5m0 43v8m0 29v7m2-271v8m0 55v6m0 4v7m0 6v7m0 0v6m0 131v6m0 77v3m2-287v8m0 135v6m0 97v4m0 14v6m0 10v7m2-319v5m0 22v5m0 4v4m0 28v4m0 19v6m0 24v3m0 45v7m0 19v3m0 0v3m0 0v7m0 29v6m0 5v4m0 4v4m2-227v3m0 63v7m0 26v4m0 86v5m2-137v6m0 69v4m0 20v5m0 0v9m0 16v4m0 48v4m0 0v9m0 0v7m0 0v5m2-305v4m0 18v9m0 23v5m0 123v6m0 6v7m0 0v3m0 83v3m2-285v8m0 11v8m0 32v8m0 0v5m0 40v7m0 5v9m0 29v4m0 53v8m0 5v5m0 30v8m2-250v8m0 49v6m0 3v7m0 19v6m0 43v5m0 39v6m0 4v7m0 37v4m0 39v6m0 8v3m2-228v6m0 50v4m0 78v6m0 4v6m0 8v4m2-264v7m0 11v6m0 13v3m0 34v5m0 60v6m0 42v8m0 20v7m0 7v4m0 70v4m2-288v4m0 38v4m0 0v6m0 30v8m0 14v5m0 104v7m0 24v7m2-206v9m0 19v4m0 37v9m0 125v9m2-257v4m0 31v8m0 59v6m0 57v6m0 12v6m0 5v9m0 0v8m0 12v6m2-220v5m0 39v5m0 76v8m0 24v8m0 39v9m0 6v4m0 0v7m2-167v5m0 60v8m0 123v6m0 0v6m0 0v6m0 5v8m2-270v8m0 70v7m0 7v8m0 47v4m2-207v6m0 24v3m0 134v8m0 121v9m2-295v7m0 103v5m0 33v7m0 0v4m0 47v9m0 35v8m2-226v8m0 75v8m0 38v7m0 0v3m0 0v8m2-147v9m0 22v8m0 48v9m0 6v9m0 38v7m0 82v3m0 0v6m2-276v7m0 99v6m0 33v6m0 0v6m0 6v5m0 34v4m0 0v7m0 105v3m2-320v3m0 46v4m0 92v8m0 0v5m0 51v6m0 52v8m2-258v3m0 15v5m0 184v5m0 42v8m0 29v9m2-309v8m0 60v4m0 75v9m0 13v7m0 19v4m0 52v5m0 7v8m2-275v9m0 88v7m0 54v5m0 12v4m2-152v4m0 9v5m0 21v8m0 0v6m0 43v7m0 85v6m2-68v7m0 147v7m2-297v8m0 161v5m0 0v9m0 27v6m0 18v7m0 17v4m2-241v7m0 35v3m0 198v7m2-243v8m0 109v6m0 29v7m0 86v7m2-96v9m0 4v5m0 68v6m2-231v9m0 104v8m0 18v8m0 56v5m0 4v8m0 0v3m2-228v7m0 9v3m0 4v7m0 75v7m0 90v4m2-237v6m0 22v3m0 121v5m0 32v5m0 8v6m0 21v4m0 6v5m2-244v5m0 41v5m0 103v6m2-154v4m0 149v4m0 111v4m2-296v6m0 17v6m0 36v8m0 111v7m0 4v3m0 51v4m0 17v3m0 13v5m0 5v8m2-246v6m0 0v4m0 132v7m0 39v9m0 3v4m2-228v6m0 14v7m0 105v5m0 8v9m0 0v8m0 38v8m0 31v3m0 0v6m2-59v5m0 41v5m0 0v5m0 4v8m2-289v4m0 11v5m0 158v8m0 86v8m0 16v4m2-265v6m0 60v3m0 0v3m0 43v9m0 0v7m0 47v9m0 39v8m2-273v8m0 61v4m0 7v4m0 37v5m0 140v6m2-251v5m0 178v6m0 36v7m0 24v6m2-213v7m0 8v6m0 190v8m2-287v9m0 33v5m0 23v3m0 106v4m2-132v6m0 9v4m0 145v5m2-190v5m0 152v7m0 17v4m2 80v4m2-285v5m0 0v5m0 44v5m0 0v7m2-44v8m0 15v9m0 0v8m0 104v4m0 52v6m0 8v7m2-199v6m0 177v4m0 11v8m0 17v4m0 12v3m2-91v4m0 52v8m2-234v4m0 29v7m0 144v6m0 33v6m2-261v7m0 35v4m0 46v4m0 88v7m0 45v6m2-6v5m2-16v7m0 13v9m2-251v7m0 66v4m0 85v3m0 55v4m2-191v8m0 18v5m0 36v2m0 4v4m0 103v5m0 6v6m0 0v3m2 2v7m2-5v4m2-173v7m0 95v6m0 13v6m0 48v5m0 16v4m2-264v6m0 6v7m0 52v8m0 9v4m0 60v5m0 31v3m0 20v3m0 11v8m0 18v7m0 0v8m0 9v7m2-274v5m0 0v8m0 32v7m0 200v4m0 0v4m6-1v7m2-270v8m0 56v8m0 197v6m2-184v2m0 0v5m0 2v3m4 167v8m2-274v5m4 66v5m28 14v2m6-15v4m2-39v4m0 0v3m0 2v4m2-35v3m0 7v3m0 6v3m0 14v2m0 0v5" stroke="#1515ff" stroke-width="2.0" fill="none"/>
<path transform="scale(.5)" d="M1017 721v3m4 8v4m0 11v3m8-82v4m22-17v8m0 40v6m0 145v3m0 11v4m0 9v6m0 27v3m0 0v7m2-237v3m0 21v8m0 100v4m0 44v7m0 47v3m6-214v5m0 24v3m0 111v6m0 18v8m2-230v7m0 0v9m0 165v5m2-187v6m0 155v6m0 11v6m0 42v5m0 32v8m6-260v4m0 183v5m0 56v5m0 6v2m2-254v7m2 237v6m2-12v4m4-218v7m0 0v4m0 86v8m0 6v4m0 20v7m0 62v5m0 6v5m2-46v6m0 8v5m0 0v8m0 27v3m2-8v4m2-279v6m0 0v6m0 181v5m2 13v4m0 16v6m0 0v6m2-43v4m2 60v7m2-175v7m0 94v5m0 6v8m0 58v9m2-219v3m0 157v7m2-41v9m0 0v3m0 12v5m0 30v8m0 0v9m2-65v4m0 21v6m0 42v3m2-278v4m0 167v8m0 0v3m0 55v5m2-225v5m0 43v8m0 114v8m2-202v4m0 44v7m0 11v9m0 114v7m0 26v7m2-54v6m0 42v7m0 24v6m2-236v6m0 12v8m0 25v3m0 0v7m0 68v4m0 88v4m0 43v3m2-242v7m0 90v7m0 22v4m0 0v8m0 45v3m0 48v5m2-288v3m0 179v6m0 55v8m2-3v4m0 10v4m2-191v5m0 159v7m2-197v9m0 71v7m0 7v6m0 16v5m0 5v5m0 15v4m2-131v4m0 149v7m0 0v9m0 26v6m2-82v7m0 40v4m0 0v4m2-68v6m0 22v9m0 61v5m0 0v4m0 0v6m2-286v3m0 178v6m0 30v8m0 19v8m2-242v9m0 0v4m0 0v5m0 28v6m0 19v7m0 155v4m0 19v4m0 0v8m2-128v5m0 20v4m0 0v9m0 99v6m2-151v7m0 31v5m0 73v6m2-250v6m0 185v8m0 7v3m0 57v3m0 4v6m2-150v7m0 67v5m0 10v6m0 21v6m0 7v5m2-265v7m0 155v5m0 55v9m0 44v7m2-159v9m0 13v4m0 5v5m0 5v7m0 57v7m2-211v4m0 7v6m0 108v8m0 28v5m0 47v6m0 0v5m0 6v8m0 13v5m2-304v6m0 128v6m0 0v6m0 55v7m0 26v5m0 59v7m2-150v9m0 35v4m0 10v4m0 75v5m2-118v9m0 18v8m0 24v9m0 0v3m0 40v6m2-243v3m0 75v9m0 37v6m0 109v8m2-306v5m0 0v7m0 4v5m0 109v7m0 0v8m0 57v9m0 28v9m0 11v3m0 0v6m0 37v6m2-253v6m0 14v6m0 6v8m0 38v5m0 22v7m0 131v8m2-231v4m0 78v7m0 75v7m0 52v9m2-284v9m0 36v3m0 0v6m0 58v6m0 12v3m0 22v6m0 40v4m0 45v6m0 5v8m0 8v8m2-233v3m0 94v7m0 6v5m2-91v6m0 17v8m0 39v6m0 7v6m0 74v5m2-290v8m0 79v7m0 59v4m0 18v5m0 23v3m0 41v5m0 0v7m0 0v5m0 6v4m2-235v8m0 41v8m0 98v6m0 0v8m0 7v3m0 0v6m0 59v6m0 0v6m2-292v5m0 85v7m0 59v8m0 0v4m0 0v4m0 4v4m0 12v5m0 12v5m0 31v5m2-234v5m0 66v7m0 8v8m0 129v8m0 37v8m2-271v7m0 34v5m0 15v6m0 7v5m0 98v8m0 3v3m0 0v6m2-159v4m0 47v8m2-114v3m0 8v6m0 60v6m0 35v9m0 7v3m0 51v8m0 33v8m0 21v8m0 34v3m2-304v7m0 129v8m0 54v8m0 44v4m0 30v6m0 27v6m2-260v7m0 31v8m0 75v7m0 6v9m0 66v6m0 9v8m2-278v5m0 4v3m0 215v9m0 10v5m0 9v9m2-272v8m0 131v6m0 0v4m0 5v4m0 32v7m0 95v8m0 0v6m0 0v5m2-311v5m0 0v6m0 0v8m0 93v8m0 54v4m0 33v6m0 20v9m0 16v6m0 15v4m0 0v8m2-210v5m0 105v8m0 21v5m0 57v4m2-282v3m0 9v9m0 34v6m0 0v8m0 40v7m0 33v8m0 21v3m0 6v5m2-145v9m0 81v4m0 29v6m0 46v4m0 14v5m0 51v8m2-287v3m0 0v7m0 16v6m0 0v4m0 30v4m0 19v6m0 90v8m0 0v9m2-149v8m0 17v5m0 3v6m0 41v6m0 74v5m0 41v4m0 4v3m0 4v7m2-25v6m2-112v9m0 31v5m0 42v7m0 21v5m2-279v7m0 20v8m0 38v6m0 129v5m0 10v3m0 29v8m0 28v5m2-319v6m0 0v8m0 8v8m0 43v7m0 69v7m0 17v5m0 16v8m0 7v5m0 5v3m0 25v9m0 0v7m0 0v7m0 46v3m2-156v8m0 0v7m0 53v5m0 36v3m0 0v4m2-268v7m0 147v7m0 81v9m2-220v8m0 145v4m0 9v6m0 27v7m0 38v5m2-265v5m0 148v4m0 5v9m0 0v8m0 7v4m0 48v6m0 5v9m0 0v5m0 23v4m2-118v4m0 20v6m0 74v8m2-297v6m0 0v8m0 5v5m0 36v5m0 99v5m0 102v8m0 3v6m2-295v7m0 55v6m0 96v5m0 18v4m0 14v4m0 28v5m2-233v7m0 23v7m0 40v7m0 136v7m0 38v8m0 24v5m2-133v8m0 27v5m0 0v3m0 45v7m2-206v4m0 13v5m0 124v8m0 45v4m0 28v4m2-289v7m0 29v4m0 12v7m0 6v3m0 16v6m0 57v8m0 107v6m0 18v6m2-294v4m0 17v8m0 162v8m0 52v8m0 28v4m2-289v4m0 0v7m0 3v4m0 23v7m0 58v7m0 34v8m2-122v6m0 36v3m2-85v7m0 197v9m2-139v9m0 72v8m0 33v5m0 0v6m0 5v4m0 0v9m0 28v8m0 10v4m2-239v5m0 0v3m0 0v8m0 36v9m0 74v8m0 0v9m0 14v5m0 4v5m0 13v6m0 22v6m2-239v4m0 188v8m2-29v4m0 0v7m0 7v8m0 11v7m0 34v7m0 0v8m2-254v8m0 13v8m0 131v7m0 4v8m0 27v7m0 0v4m2-49v5m0 14v9m0 28v7m0 8v6m2-48v7m0 31v9m4-48v5m0 8v4m2-202v5m0 177v5m0 30v7m0 5v8m2-241v5m0 185v7m0 23v9m2-3v3m2-233v3m0 48v6m0 185v6m2-101v4m0 91v8m0 4v8m4-43v8m0 11v7m0 13v4m2-270v6m0 6v8m0 12v5m0 102v4m0 15v8m0 18v5m0 24v4m0 33v4m2-262v6m0 32v7m0 41v3m0 147v9m0 31v1m2-223v4m0 210v5m4-261v4m2 240v5m0 7v5m2-24v8m6-249v5m0 237v5m10-6v5m6-172v4m18-7v3m0 3v3m8-60v5m0 4v3m2 25v3" stroke="#0b0bff" stroke-width="2.0" fill="none"/>
<path transform="scale(.5)" d="M997 714v3m2-33v2m6-12v3m0 14v5m30 43v3m0 4v4m16-75v6m0 5v6m0 31v2m0 89v7m0 6v8m0 37v5m0 0v4m0 6v3m2-222v8m0 18v8m0 0v9m0 133v8m0 12v3m0 13v6m0 0v5m0 24v6m6-269v9m0 8v8m0 0v4m0 0v5m0 15v5m0 0v4m0 5v5m0 95v8m0 0v9m0 0v5m0 7v9m0 6v6m0 0v4m0 0v8m0 8v6m0 0v5m0 17v8m0 0v4m2-246v8m0 4v6m0 0v4m0 0v6m0 0v8m0 93v5m0 3v7m0 22v7m0 0v9m0 15v9m0 0v4m0 4v6m0 0v4m0 15v7m2-265v8m0 0v4m0 0v4m0 0v8m0 7v6m0 0v6m0 7v6m0 89v6m0 10v6m0 0v5m0 6v7m0 0v8m0 0v8m0 33v8m0 0v3m0 0v4m2 1v8m0 0v5m2-14v8m2 1v6m2-208v7m0 118v9m0 0v7m0 42v8m2-15v8m0 0v7m0 0v5m2-5v3m0 4v5m2-256v6m0 11v7m0 8v3m0 0v5m0 104v3m0 0v7m0 6v5m0 26v9m0 0v4m0 7v6m0 0v7m0 0v8m0 6v8m0 0v6m0 0v9m2-278v6m0 16v8m0 0v8m0 26v4m0 113v4m0 15v8m0 0v3m0 0v5m0 0v5m0 4v7m0 0v8m0 0v4m0 15v6m0 5v6m0 0v5m2-10v7m2-44v5m0 13v6m0 0v8m2-246v9m0 0v3m0 0v9m0 0v7m0 0v5m0 0v7m0 0v8m0 97v4m0 27v9m0 0v5m0 12v3m0 0v8m0 9v6m0 0v4m0 0v4m0 5v4m0 0v8m0 6v3m2-273v7m0 0v6m0 0v9m0 10v3m0 0v9m0 17v4m0 86v7m0 11v3m0 7v4m0 5v4m0 0v3m0 0v5m0 32v4m2-43v3m0 9v5m0 6v6m0 21v5m0 0v9m0 7v7m2-75v4m0 46v7m0 7v6m2-280v3m0 8v3m0 14v6m0 0v8m0 21v3m0 7v6m0 126v6m0 15v4m0 11v9m0 6v8m0 22v2m2-285v4m0 0v4m0 0v6m0 21v9m0 0v8m0 128v4m0 0v8m0 9v6m0 0v8m0 0v9m0 7v3m0 0v3m0 13v3m0 18v9m0 3v2m2-83v8m0 64v4m0 0v6m2-103v4m0 3v6m0 23v5m0 10v9m0 3v4m0 29v3m2-272v5m0 0v3m0 12v8m0 29v7m0 127v8m0 0v7m0 8v7m0 0v7m0 5v7m0 0v7m0 0v7m0 0v8m0 0v4m0 4v8m2-293v8m0 6v3m0 11v3m0 0v8m0 5v9m0 26v6m0 161v8m0 0v5m0 0v9m0 0v3m0 0v9m2-265v5m0 40v5m0 114v3m0 0v6m0 7v8m0 0v4m0 4v4m0 0v6m0 15v9m0 0v5m0 0v4m0 0v8m0 5v4m0 0v9m0 0v3m0 0v4m0 5v2m2-218v8m0 130v8m0 23v8m0 10v9m0 11v7m0 0v4m2-265v7m0 0v5m0 14v3m0 0v8m0 0v8m0 71v7m0 7v3m0 0v7m0 0v5m0 14v5m0 8v6m0 0v6m0 0v6m0 0v5m0 5v4m0 3v8m0 4v7m0 0v5m0 0v7m0 0v8m2-256v3m0 18v7m0 12v9m0 0v3m0 99v8m0 12v7m0 5v7m0 0v8m0 0v8m0 13v7m0 34v7m0 5v4m2-300v8m0 3v5m0 0v6m0 21v5m0 133v9m0 6v6m0 0v9m0 0v6m0 6v3m0 5v6m0 0v6m0 0v8m0 8v6m0 0v6m0 25v4m2-133v8m0 6v8m0 0v8m0 34v4m0 0v6m0 19v3m0 11v7m0 17v2m2-295v7m0 41v7m0 109v5m0 35v9m0 36v5m0 23v8m2-292v4m0 0v4m0 0v8m0 0v8m0 0v4m0 4v8m0 0v9m0 30v5m0 0v6m0 16v5m0 0v3m0 0v4m0 28v7m0 6v8m0 0v8m0 5v5m0 5v8m0 0v7m0 15v5m0 11v4m0 0v4m0 0v8m0 7v5m0 0v6m0 0v4m0 15v6m0 0v5m0 0v3m2-304v3m0 0v5m0 0v6m0 0v8m0 4v7m0 0v8m0 0v9m0 8v6m0 0v7m0 0v8m0 4v5m0 9v9m0 8v7m0 18v9m0 0v4m0 0v7m0 0v5m0 0v9m0 0v5m0 0v6m0 0v5m0 7v8m0 8v6m0 7v7m0 16v9m0 0v8m0 0v9m0 6v7m0 9v6m2-135v4m0 0v7m0 27v4m0 8v3m0 64v4m0 0v8m2-133v7m0 0v7m0 32v4m0 62v3m0 0v5m2-285v6m0 0v8m0 8v6m0 15v3m0 20v9m0 7v9m0 0v4m0 63v8m0 13v5m0 6v5m0 6v5m0 8v8m0 25v3m0 16v8m0 0v7m0 5v6m0 0v6m0 7v2m2-308v5m0 0v5m0 10v5m0 23v9m0 25v9m0 0v5m0 22v4m0 17v9m0 0v6m0 7v7m0 0v7m0 5v5m0 0v3m0 0v4m0 20v5m0 0v5m0 0v8m0 0v7m0 12v9m0 4v5m0 0v3m0 0v5m0 0v6m0 12v6m0 0v7m2-103v8m0 14v5m0 5v7m0 26v4m0 4v6m2-96v4m0 24v7m0 0v8m0 73v6m2-296v5m0 18v7m0 0v8m0 0v4m0 12v9m0 8v7m0 0v7m0 59v6m0 0v5m0 5v3m0 0v4m0 4v4m0 0v4m0 0v4m0 4v7m0 0v4m0 0v4m0 0v6m0 18v4m0 0v5m0 26v8m0 9v5m0 3v4m2-266v4m0 0v6m0 0v4m0 0v4m0 12v8m0 0v4m0 69v3m0 0v8m0 7v7m0 0v6m0 17v4m0 0v6m0 0v7m0 5v4m0 0v4m0 28v7m0 0v6m0 0v8m0 6v7m0 5v5m2-141v7m0 0v5m0 0v6m0 0v4m0 0v5m0 0v6m0 13v5m0 7v5m0 22v3m0 17v9m0 0v9m0 0v5m0 0v7m0 0v3m2-278v7m0 25v6m0 144v7m0 15v3m0 63v4m2-298v5m0 47v7m0 31v8m0 70v8m0 21v7m0 7v9m0 5v6m0 0v6m0 0v8m0 0v6m0 0v6m0 0v7m0 19v6m0 8v8m0 0v5m2-311v9m0 0v3m0 6v9m0 0v5m0 15v9m0 9v6m0 0v4m0 0v6m0 16v5m0 56v9m0 25v4m0 0v9m0 0v8m0 7v6m0 0v4m0 21v3m0 7v6m0 17v7m0 0v4m0 0v7m0 15v1m2-319v4m0 14v4m0 37v8m0 6v4m0 70v5m0 0v8m0 0v8m0 9v4m0 8v4m0 0v6m0 17v5m0 0v5m0 4v4m0 6v6m0 0v5m0 0v8m0 0v4m0 0v8m0 0v6m0 0v6m0 0v7m0 10v5m0 5v7m2-319v8m0 7v6m0 0v4m0 5v5m0 8v4m0 36v6m0 0v4m0 0v5m0 50v8m0 0v7m0 8v7m0 31v7m0 13v6m0 0v4m0 72v4m2-316v4m0 5v8m0 5v6m0 0v3m0 5v4m0 4v7m0 0v6m0 8v4m0 7v7m0 0v8m0 25v5m0 35v8m0 0v6m0 19v4m0 26v5m0 0v3m0 0v7m0 13v5m0 4v4m0 4v4m0 8v5m0 7v4m0 7v9m0 8v6m2-321v5m0 25v6m0 16v6m0 0v7m0 12v6m0 0v5m0 0v4m0 5v5m0 7v6m0 0v3m0 0v8m0 4v5m0 19v7m0 0v5m0 0v4m0 0v6m0 0v4m0 6v9m0 12v4m0 9v5m0 18v5m0 14v6m0 9v6m0 0v8m0 0v8m0 0v6m0 0v6m0 0v3m0 6v2m2-326v6m0 0v8m0 18v9m0 12v3m0 0v9m0 52v3m0 4v8m0 0v6m0 0v5m0 11v4m0 4v3m0 0v7m0 11v4m0 0v6m0 0v3m0 34v4m0 0v4m0 0v7m0 0v4m0 0v7m0 0v8m0 0v7m0 0v7m0 25v6m0 13v4m2-324v3m0 0v6m0 21v6m0 0v5m0 0v9m0 5v3m0 0v9m0 0v7m0 24v4m0 54v8m0 0v7m0 35v8m0 52v6m0 7v4m0 16v6m2-296v5m0 32v7m0 0v7m0 31v8m0 0v7m0 40v3m0 27v9m0 13v9m0 8v5m0 22v6m0 0v6m0 22v7m2-289v4m0 0v6m0 0v4m0 0v4m0 0v4m0 0v6m0 25v3m0 0v8m0 8v7m0 0v3m0 0v7m0 16v6m0 50v8m0 9v4m0 0v4m0 0v6m0 7v6m0 18v4m0 7v8m0 0v9m0 5v8m0 0v7m0 4v7m0 8v6m0 0v4m0 0v5m0 15v8m2-324v8m0 0v5m0 0v5m0 0v4m0 0v5m0 0v5m0 8v4m0 6v7m0 8v4m0 14v4m0 4v8m0 11v5m0 6v5m0 0v6m0 18v5m0 4v9m0 0v4m0 7v3m0 0v3m0 19v9m0 0v5m0 0v4m0 7v8m0 6v4m0 6v8m0 4v4m0 0v3m0 0v6m0 11v6m0 12v4m0 0v8m0 0v6m0 0v2m2-319v8m0 12v7m0 6v9m0 7v5m0 40v5m0 0v5m0 0v8m0 30v5m0 68v7m0 27v6m0 13v3m0 0v8m0 12v5m0 4v8m0 0v4m0 3v4m2-335v7m0 5v5m0 15v8m0 8v6m0 0v5m0 0v4m0 0v7m0 10v9m0 8v7m0 0v6m0 41v6m0 0v8m0 0v6m0 6v7m0 0v6m0 35v5m0 0v5m0 13v4m0 3v6m0 0v5m0 0v6m0 24v6m0 13v8m0 0v6m2-330v5m0 5v8m0 0v8m0 0v9m0 0v3m0 0v8m0 6v8m0 0v7m0 0v3m0 0v4m0 9v6m0 0v6m0 11v5m0 0v7m0 0v4m0 0v7m0 0v9m0 0v5m0 34v4m0 4v6m0 0v6m0 5v4m0 13v7m0 8v7m0 0v9m0 5v7m0 0v5m0 0v7m0 12v6m0 0v7m0 0v5m0 0v7m0 5v4m0 0v4m0 0v4m0 0v5m0 0v4m2-339v7m0 0v7m0 0v9m0 12v9m0 0v6m0 0v7m0 0v9m0 14v8m0 0v6m0 7v3m0 0v5m0 16v4m0 0v4m0 20v5m0 0v4m0 9v9m0 7v9m0 6v5m0 0v4m0 0v3m0 28v4m0 14v7m0 0v9m0 0v8m0 35v8m0 9v3m2-338v5m0 4v4m0 31v9m0 0v6m0 5v4m0 8v7m0 23v5m0 42v6m0 0v5m2-148v9m0 8v7m0 10v8m0 19v4m0 0v7m0 19v4m0 39v8m0 88v4m0 0v9m0 0v8m0 62v9m2-336v8m0 8v3m0 6v6m0 0v4m0 0v5m0 0v7m0 0v6m0 0v4m0 8v5m0 0v7m0 0v8m0 6v8m0 0v4m0 0v8m0 0v5m0 0v4m0 0v6m0 19v4m0 8v7m0 0v7m0 5v7m0 4v4m0 0v5m0 12v5m0 0v3m0 0v8m0 0v7m0 0v6m0 8v7m0 0v3m0 0v4m0 0v7m0 8v5m0 7v4m0 0v3m0 0v9m0 0v6m0 3v7m0 7v5m0 0v5m2-321v9m0 0v4m0 7v8m0 8v6m0 0v5m0 0v8m0 0v8m0 0v8m0 0v8m0 0v6m0 0v8m0 0v4m0 0v6m0 6v7m0 0v6m0 0v7m0 8v3m0 0v5m0 0v9m0 8v7m0 0v6m0 8v8m0 8v3m0 0v4m0 0v7m0 0v6m0 0v3m0 0v5m0 0v7m0 0v9m0 4v8m0 6v8m0 32v9m0 6v5m2-317v9m0 13v6m0 38v4m0 4v8m0 0v8m0 62v7m0 21v6m0 30v5m2-235v7m0 0v5m0 13v4m0 18v8m0 8v4m0 13v8m0 0v6m0 6v8m0 53v3m0 0v4m0 18v9m0 6v8m0 4v7m0 3v8m0 28v7m0 9v5m0 22v8m0 14v7m2-330v5m0 19v6m0 32v7m0 8v7m0 0v6m0 0v7m0 0v6m0 0v7m0 0v3m0 0v8m0 0v4m0 40v5m0 4v8m0 0v5m0 7v5m0 20v5m0 0v7m0 4v6m0 0v8m0 5v6m0 6v6m0 0v4m0 15v9m0 0v8m2-307v8m0 26v9m0 0v6m0 0v8m0 6v5m0 0v8m0 4v8m0 0v5m0 13v8m0 6v7m0 20v6m0 23v5m0 0v8m0 4v9m0 4v4m0 22v7m0 0v3m0 0v4m0 0v6m0 9v8m0 0v8m0 6v8m0 0v7m0 12v8m2-317v8m0 3v5m0 17v7m0 0v5m0 6v6m0 10v5m0 8v4m0 0v6m0 0v5m0 9v7m0 0v7m0 0v5m0 12v6m0 4v8m0 13v7m0 3v7m0 5v7m0 10v4m0 14v7m0 16v6m0 4v4m0 0v6m0 0v5m0 21v4m0 0v4m0 4v6m0 0v7m0 0v6m2-318v5m0 18v6m0 14v8m0 0v4m0 0v8m0 37v3m0 14v9m0 25v6m0 0v9m0 15v9m0 8v6m0 12v7m0 16v6m0 0v7m0 0v7m0 0v8m0 19v8m0 13v4m0 9v2m2-324v7m0 0v6m0 8v4m0 17v4m0 0v8m0 0v3m0 0v9m0 19v3m0 0v5m0 3v7m0 15v4m0 7v8m0 5v5m0 0v4m0 0v5m0 13v7m0 0v6m0 13v9m0 0v4m0 4v4m0 0v5m0 0v5m0 0v7m0 12v9m0 0v5m0 10v7m0 8v8m0 8v5m0 0v5m0 0v5m2-297v7m0 0v6m0 15v4m0 0v6m0 0v6m0 10v4m0 0v4m0 0v3m0 7v4m0 0v4m0 0v4m0 17v6m0 6v4m0 8v3m0 6v9m0 11v5m0 11v6m0 0v4m0 0v6m0 4v6m0 0v7m0 17v6m0 0v4m0 0v3m0 11v6m0 22v7m0 0v4m2-300v8m0 0v6m0 0v6m0 33v8m0 0v5m0 30v4m0 0v6m0 0v7m0 14v4m0 43v8m0 7v7m0 0v8m0 6v6m0 0v7m0 6v3m0 0v6m0 6v4m0 5v7m0 0v3m0 11v7m0 5v3m0 0v5m0 4v4m2-134v6m0 7v8m0 13v7m0 7v6m0 0v8m0 0v5m2-155v5m0 80v5m0 38v9m0 0v8m0 16v8m0 30v4m0 4v5m0 13v5m2-307v8m0 0v7m0 15v7m0 0v6m0 45v8m0 6v4m0 37v7m0 22v7m0 0v5m0 0v6m0 0v9m0 0v9m0 0v5m0 0v5m0 0v8m0 17v3m0 3v4m0 0v5m0 0v7m0 0v9m0 26v6m2-292v8m0 8v4m0 4v5m0 0v7m0 8v7m0 15v4m0 0v4m0 0v5m0 0v7m0 0v3m0 53v6m0 28v4m0 28v7m0 0v7m0 0v6m0 37v7m0 0v4m0 12v4m0 0v3m0 0v7m2-76v3m0 0v7m0 8v7m0 14v7m0 12v7m2-109v4m0 14v6m0 12v6m0 6v9m0 9v8m0 27v4m2-298v3m0 22v8m0 33v9m0 3v4m0 14v4m0 71v5m0 0v8m0 0v3m0 0v5m0 9v4m0 13v4m0 0v7m0 0v9m0 7v4m0 0v6m0 0v6m0 4v3m0 0v7m0 0v8m0 5v4m0 0v3m0 0v6m0 0v4m0 0v8m0 0v2m2-297v5m0 11v7m0 23v4m0 9v4m0 17v6m0 109v4m0 5v8m0 16v7m0 0v4m0 29v7m0 3v4m0 0v9m2-286v5m0 139v7m0 14v3m0 0v4m0 4v7m0 0v5m0 18v6m0 22v9m0 0v7m0 0v7m0 0v6m2-284v4m0 52v3m0 139v6m0 0v9m0 0v5m0 21v6m0 0v7m0 0v6m0 0v4m0 0v4m0 6v7m0 8v3m0 14v7m2-297v4m0 19v9m0 0v7m0 5v5m0 30v9m0 68v6m0 23v4m0 14v5m0 6v5m0 0v5m0 5v9m0 9v8m0 0v4m0 8v5m2-284v8m0 14v4m0 31v7m0 10v3m0 0v8m0 7v6m0 75v5m0 0v4m0 0v5m0 0v8m0 0v7m0 0v4m0 18v4m0 7v6m0 0v6m0 0v5m0 29v7m0 8v6m0 0v3m2-99v6m0 24v4m0 8v6m0 0v5m0 37v8m0 0v6m2-256v9m0 119v7m0 3v7m0 0v7m0 0v6m0 37v9m0 11v6m0 26v6m2-305v6m0 11v4m0 17v8m0 4v5m0 23v7m0 0v4m0 0v5m0 79v8m0 0v3m0 8v5m0 22v9m0 0v8m0 9v8m0 0v8m0 0v4m0 3v4m0 14v4m0 0v6m0 10v2m2-307v7m0 4v7m0 0v3m0 25v4m0 0v6m0 21v6m0 0v6m0 0v5m0 18v5m0 29v9m0 31v5m0 36v7m0 15v3m0 0v6m0 24v5m0 0v7m0 4v7m0 0v1m2-279v4m0 0v5m0 5v9m0 16v4m0 4v7m0 10v9m0 77v8m0 0v9m0 0v6m0 0v5m0 0v5m0 0v5m0 0v3m0 11v4m0 0v8m0 0v7m0 0v5m0 28v7m0 0v6m0 5v7m2-238v4m0 120v6m0 13v5m0 0v8m0 0v5m0 0v7m0 0v4m0 0v7m0 10v8m0 6v7m0 19v9m2-297v8m0 0v5m0 0v6m0 0v3m0 0v7m0 0v6m0 0v8m0 0v6m0 0v4m0 0v4m0 0v5m0 21v5m0 0v8m0 7v8m0 0v7m0 33v9m0 3v6m0 13v6m0 0v9m0 9v8m0 0v5m0 0v9m0 0v7m0 0v7m0 0v7m0 0v5m0 6v9m0 0v4m0 8v5m0 0v9m0 0v1m2-290v4m0 0v8m0 0v5m0 22v6m0 0v8m0 0v5m0 12v5m0 0v4m0 24v6m0 41v5m0 0v7m0 13v8m0 11v5m0 13v5m0 0v9m0 0v5m0 17v4m0 31v6m0 0v1m2-301v3m0 0v9m0 4v6m0 0v6m0 0v6m0 22v6m0 0v3m0 4v5m0 3v9m0 16v4m0 80v5m0 0v9m0 5v4m0 24v8m0 3v4m0 13v9m0 8v7m0 8v7m0 0v1m2-108v5m0 0v7m0 41v7m0 0v9m0 0v5m0 0v4m2-236v8m0 194v4m0 0v6m0 0v5m0 0v4m0 0v7m2-257v7m0 32v8m0 8v6m0 16v6m0 110v4m0 11v5m0 0v7m0 0v4m0 25v8m0 0v7m0 0v7m0 0v6m0 0v7m0 0v7m0 0v3m2-289v4m0 28v6m0 4v5m0 116v5m0 33v7m0 58v8m0 6v6m2-94v6m0 0v6m0 6v8m0 23v3m0 21v4m0 4v5m2-64v9m0 0v9m0 36v9m0 5v6m2-290v5m0 64v8m0 132v4m0 16v3m0 4v4m0 8v4m0 6v8m0 0v4m0 7v9m0 0v4m2-278v4m0 0v6m0 4v8m0 38v8m0 116v7m0 4v9m0 5v6m0 12v4m0 0v8m0 7v5m0 8v6m0 5v3m0 0v4m2-76v7m0 18v6m0 15v5m0 0v8m0 0v6m0 0v5m0 0v6m2-15v9m0 0v6m2-249v6m0 20v7m0 135v8m0 8v7m0 0v8m0 16v8m2-262v7m0 41v6m0 0v4m0 12v4m0 164v4m0 5v7m0 0v5m0 0v8m0 8v4m2-38v8m0 0v5m0 9v9m0 13v2m2-47v4m2-242v8m0 0v7m0 6v6m0 8v8m0 0v4m0 13v5m0 7v6m0 83v6m0 14v5m0 6v7m0 5v7m0 13v4m0 17v6m0 0v3m0 0v7m0 12v9m0 0v3m2-265v4m0 0v5m0 6v6m0 15v8m0 0v4m0 0v4m0 33v3m0 50v7m0 8v7m0 0v9m0 3v7m0 0v5m0 0v8m0 10v4m0 8v9m0 24v5m0 0v4m2-275v8m0 13v8m0 0v3m0 9v3m0 0v9m0 11v7m0 91v7m0 0v4m0 0v7m0 13v5m0 0v5m0 0v4m0 25v8m0 0v4m0 0v7m0 6v3m0 19v4m4-230v9m0 161v3m0 24v9m0 0v3m0 0v4m0 0v7m0 6v4m12-13v6m0 3v3m40-234v2m0 13v4m2-26v3m0 0v3m0 10v2m0 0v5" stroke="#0000ff" stroke-width="2.0" fill="none"/>
<line x1="585.8" y1="287.5" x2="585.8" y2="300" stroke="#0000ff" stroke-width="1.2"/>
<path d="M553 368.5 Q585.8 352 618 368.5" stroke="#fff" stroke-width="1.6" fill="none" stroke-opacity="0.7"/>
<path d="M557 378 Q585.8 368 614.5 378" stroke="#fff" stroke-width="1.4" fill="none" stroke-opacity="0.55"/>
<path d="M520.1 463.1L521.4 447.1L522.7 463.1ZM524.7 463.4L526.0 447.4L527.3 463.4ZM529.3 463.8L530.6 447.8L531.9 463.8ZM533.9 464.1L535.2 448.1L536.5 464.1ZM538.5 464.5L539.8 448.5L541.1 464.5ZM543.1 464.9L544.4 448.9L545.7 464.9ZM547.7 465.2L549.0 449.2L550.3 465.2ZM552.3 465.6L553.6 449.6L554.9 465.6ZM556.9 465.9L558.2 449.9L559.5 465.9ZM561.5 466.2L562.8 450.2L564.1 466.2ZM566.1 466.6L567.4 450.6L568.7 466.6ZM570.7 466.9L572.0 450.9L573.3 466.9ZM575.3 467.3L576.6 451.3L577.9 467.3ZM579.9 467.6L581.2 451.6L582.5 467.6ZM589.1 467.6L590.4 451.6L591.7 467.6ZM593.7 467.3L595.0 451.3L596.3 467.3ZM598.3 466.9L599.6 450.9L600.9 466.9ZM602.9 466.6L604.2 450.6L605.5 466.6ZM607.5 466.2L608.8 450.2L610.1 466.2ZM612.1 465.9L613.4 449.9L614.7 465.9ZM616.7 465.6L618.0 449.6L619.3 465.6ZM621.3 465.2L622.6 449.2L623.9 465.2ZM625.9 464.9L627.2 448.9L628.5 464.9ZM630.5 464.5L631.8 448.5L633.1 464.5ZM635.1 464.1L636.4 448.1L637.7 464.1ZM639.7 463.8L641.0 447.8L642.3 463.8ZM644.3 463.4L645.6 447.4L646.9 463.4ZM648.9 463.1L650.2 447.1L651.5 463.1Z" fill="#fff" fill-opacity="0.5"/>
<path d="M584.5999999999999 468.5 L585.8 438 L587.0 468.5Z" fill="#fff" fill-opacity="0.8"/>
</g>
<path transform="scale(.2)" d="M2728 559h7v7h-7zM2727 577h7v7h-7zM2723 596h7v7h-7zM2722 619h7v7h-7zM2722 637h7v7h-7zM2724 656h7v7h-7zM2727 678h7v7h-7zM2724 500h7v7h-7zM2718 518h7v7h-7zM2716 540h7v7h-7zM2713 559h7v7h-7zM2709 578h7v7h-7zM2707 596h7v7h-7zM2708 619h7v7h-7zM2709 640h7v7h-7zM2707 654h7v7h-7zM2712 678h7v7h-7zM2713 696h7v7h-7zM2720 719h7v7h-7zM2724 734h7v7h-7zM2711 482h7v7h-7zM2705 500h7v7h-7zM2701 521h7v7h-7zM2698 541h7v7h-7zM2693 558h7v7h-7zM2691 577h7v7h-7zM2691 597h7v7h-7zM2689 619h7v7h-7zM2690 638h7v7h-7zM2693 655h7v7h-7zM2694 676h7v7h-7zM2696 696h7v7h-7zM2702 714h7v7h-7zM2706 733h7v7h-7zM2709 754h7v7h-7zM2700 467h7v7h-7zM2693 482h7v7h-7zM2687 504h7v7h-7zM2684 521h7v7h-7zM2680 543h7v7h-7zM2676 563h7v7h-7zM2673 582h7v7h-7zM2671 600h7v7h-7zM2673 616h7v7h-7zM2673 638h7v7h-7zM2675 657h7v7h-7zM2676 676h7v7h-7zM2679 697h7v7h-7zM2684 715h7v7h-7zM2688 735h7v7h-7zM2696 755h7v7h-7zM2698 769h7v7h-7zM2684 449h7v7h-7zM2683 466h7v7h-7zM2677 486h7v7h-7zM2672 503h7v7h-7zM2664 522h7v7h-7zM2663 543h7v7h-7zM2659 560h7v7h-7zM2655 579h7v7h-7zM2655 600h7v7h-7zM2658 617h7v7h-7zM2656 638h7v7h-7zM2658 655h7v7h-7zM2660 673h7v7h-7zM2662 696h7v7h-7zM2665 716h7v7h-7zM2670 731h7v7h-7zM2673 751h7v7h-7zM2681 770h7v7h-7zM2687 787h7v7h-7zM2671 450h7v7h-7zM2665 469h7v7h-7zM2657 485h7v7h-7zM2654 505h7v7h-7zM2649 526h7v7h-7zM2644 543h7v7h-7zM2643 563h7v7h-7zM2640 582h7v7h-7zM2638 599h7v7h-7zM2638 617h7v7h-7zM2641 637h7v7h-7zM2640 656h7v7h-7zM2642 673h7v7h-7zM2644 694h7v7h-7zM2646 712h7v7h-7zM2652 730h7v7h-7zM2655 749h7v7h-7zM2663 768h7v7h-7zM2667 786h7v7h-7zM2658 433h7v7h-7zM2650 451h7v7h-7zM2644 470h7v7h-7zM2642 483h7v7h-7zM2633 504h7v7h-7zM2629 526h7v7h-7zM2628 544h7v7h-7zM2623 564h7v7h-7zM2623 581h7v7h-7zM2624 600h7v7h-7zM2620 620h7v7h-7zM2621 639h7v7h-7zM2624 658h7v7h-7zM2627 674h7v7h-7zM2626 690h7v7h-7zM2633 710h7v7h-7zM2634 732h7v7h-7zM2639 747h7v7h-7zM2646 769h7v7h-7zM2649 784h7v7h-7zM2658 801h7v7h-7zM2645 417h7v7h-7zM2638 438h7v7h-7zM2633 453h7v7h-7zM2627 469h7v7h-7zM2620 489h7v7h-7zM2616 506h7v7h-7zM2613 528h7v7h-7zM2610 544h7v7h-7zM2610 559h7v7h-7zM2605 582h7v7h-7zM2603 599h7v7h-7zM2606 618h7v7h-7zM2605 639h7v7h-7zM2603 657h7v7h-7zM2606 674h7v7h-7zM2611 692h7v7h-7zM2613 712h7v7h-7zM2617 730h7v7h-7zM2622 748h7v7h-7zM2629 764h7v7h-7zM2629 780h7v7h-7zM2638 798h7v7h-7zM2645 817h7v7h-7zM2635 402h7v7h-7zM2625 418h7v7h-7zM2623 437h7v7h-7zM2613 455h7v7h-7zM2610 472h7v7h-7zM2602 491h7v7h-7zM2599 509h7v7h-7zM2594 525h7v7h-7zM2595 546h7v7h-7zM2592 561h7v7h-7zM2588 581h7v7h-7zM2587 600h7v7h-7zM2590 617h7v7h-7zM2589 636h7v7h-7zM2587 655h7v7h-7zM2590 674h7v7h-7zM2594 691h7v7h-7zM2595 711h7v7h-7zM2600 728h7v7h-7zM2604 748h7v7h-7zM2610 764h7v7h-7zM2613 783h7v7h-7zM2620 795h7v7h-7zM2628 819h7v7h-7zM2634 833h7v7h-7zM2621 389h7v7h-7zM2611 404h7v7h-7zM2607 420h7v7h-7zM2604 441h7v7h-7zM2593 459h7v7h-7zM2591 475h7v7h-7zM2587 491h7v7h-7zM2582 511h7v7h-7zM2577 527h7v7h-7zM2575 546h7v7h-7zM2572 563h7v7h-7zM2571 583h7v7h-7zM2570 601h7v7h-7zM2571 617h7v7h-7zM2572 637h7v7h-7zM2571 656h7v7h-7zM2575 670h7v7h-7zM2577 688h7v7h-7zM2578 710h7v7h-7zM2582 727h7v7h-7zM2585 745h7v7h-7zM2588 764h7v7h-7zM2592 779h7v7h-7zM2599 796h7v7h-7zM2606 812h7v7h-7zM2615 830h7v7h-7zM2620 847h7v7h-7zM2601 391h7v7h-7zM2597 410h7v7h-7zM2589 424h7v7h-7zM2582 442h7v7h-7zM2578 455h7v7h-7zM2570 477h7v7h-7zM2568 492h7v7h-7zM2563 511h7v7h-7zM2561 527h7v7h-7zM2559 546h7v7h-7zM2555 562h7v7h-7zM2556 582h7v7h-7zM2554 599h7v7h-7zM2555 618h7v7h-7zM2552 636h7v7h-7zM2552 655h7v7h-7zM2555 671h7v7h-7zM2556 691h7v7h-7zM2561 709h7v7h-7zM2564 725h7v7h-7zM2568 743h7v7h-7zM2571 758h7v7h-7zM2576 776h7v7h-7zM2583 795h7v7h-7zM2587 812h7v7h-7zM2595 830h7v7h-7zM2602 846h7v7h-7zM2591 377h7v7h-7zM2580 394h7v7h-7zM2575 408h7v7h-7zM2571 426h7v7h-7zM2563 441h7v7h-7zM2560 460h7v7h-7zM2553 478h7v7h-7zM2551 495h7v7h-7zM2548 513h7v7h-7zM2542 528h7v7h-7zM2542 549h7v7h-7zM2542 563h7v7h-7zM2538 582h7v7h-7zM2537 599h7v7h-7zM2537 618h7v7h-7zM2538 636h7v7h-7zM2540 655h7v7h-7zM2540 671h7v7h-7zM2542 688h7v7h-7zM2544 706h7v7h-7zM2548 724h7v7h-7zM2550 743h7v7h-7zM2554 759h7v7h-7zM2557 776h7v7h-7zM2565 793h7v7h-7zM2569 811h7v7h-7zM2578 827h7v7h-7zM2582 842h7v7h-7zM2590 858h7v7h-7zM2575 363h7v7h-7zM2572 378h7v7h-7zM2564 396h7v7h-7zM2555 409h7v7h-7zM2549 428h7v7h-7zM2546 445h7v7h-7zM2540 463h7v7h-7zM2537 481h7v7h-7zM2532 495h7v7h-7zM2527 513h7v7h-7zM2528 531h7v7h-7zM2524 545h7v7h-7zM2521 567h7v7h-7zM2521 582h7v7h-7zM2520 598h7v7h-7zM2521 618h7v7h-7zM2521 637h7v7h-7zM2519 651h7v7h-7zM2522 669h7v7h-7zM2525 686h7v7h-7zM2525 705h7v7h-7zM2531 723h7v7h-7zM2533 740h7v7h-7zM2537 757h7v7h-7zM2540 773h7v7h-7zM2545 793h7v7h-7zM2552 807h7v7h-7zM2555 828h7v7h-7zM2563 840h7v7h-7zM2571 855h7v7h-7zM2579 872h7v7h-7zM2563 351h7v7h-7zM2558 363h7v7h-7zM2551 385h7v7h-7zM2541 396h7v7h-7zM2536 413h7v7h-7zM2531 429h7v7h-7zM2525 447h7v7h-7zM2522 466h7v7h-7zM2518 478h7v7h-7zM2513 497h7v7h-7zM2511 513h7v7h-7zM2510 531h7v7h-7zM2506 547h7v7h-7zM2503 567h7v7h-7zM2505 584h7v7h-7zM2503 601h7v7h-7zM2505 619h7v7h-7zM2504 634h7v7h-7zM2504 652h7v7h-7zM2504 669h7v7h-7zM2508 688h7v7h-7zM2509 705h7v7h-7zM2512 723h7v7h-7zM2516 738h7v7h-7zM2518 756h7v7h-7zM2523 773h7v7h-7zM2527 788h7v7h-7zM2532 805h7v7h-7zM2538 824h7v7h-7zM2542 841h7v7h-7zM2550 853h7v7h-7zM2556 868h7v7h-7zM2565 887h7v7h-7zM2555 337h7v7h-7zM2545 353h7v7h-7zM2537 367h7v7h-7zM2531 386h7v7h-7zM2526 401h7v7h-7zM2517 416h7v7h-7zM2512 433h7v7h-7zM2508 447h7v7h-7zM2504 466h7v7h-7zM2500 481h7v7h-7zM2497 500h7v7h-7zM2493 514h7v7h-7zM2492 535h7v7h-7zM2487 548h7v7h-7zM2485 569h7v7h-7zM2485 583h7v7h-7zM2487 603h7v7h-7zM2487 620h7v7h-7zM2486 635h7v7h-7zM2486 650h7v7h-7zM2489 671h7v7h-7zM2490 686h7v7h-7zM2490 703h7v7h-7zM2494 721h7v7h-7zM2495 735h7v7h-7zM2501 755h7v7h-7zM2503 771h7v7h-7zM2510 787h7v7h-7zM2515 804h7v7h-7zM2518 821h7v7h-7zM2524 837h7v7h-7zM2531 853h7v7h-7zM2538 871h7v7h-7zM2545 885h7v7h-7zM2551 901h7v7h-7zM2532 338h7v7h-7zM2526 354h7v7h-7zM2519 368h7v7h-7zM2513 386h7v7h-7zM2506 403h7v7h-7zM2501 415h7v7h-7zM2495 434h7v7h-7zM2490 453h7v7h-7zM2486 464h7v7h-7zM2483 484h7v7h-7zM2478 500h7v7h-7zM2478 518h7v7h-7zM2472 532h7v7h-7zM2473 550h7v7h-7zM2470 569h7v7h-7zM2468 584h7v7h-7zM2468 598h7v7h-7zM2467 618h7v7h-7zM2469 635h7v7h-7zM2469 652h7v7h-7zM2469 667h7v7h-7zM2471 686h7v7h-7zM2476 705h7v7h-7zM2474 718h7v7h-7zM2479 737h7v7h-7zM2484 754h7v7h-7zM2484 768h7v7h-7zM2490 785h7v7h-7zM2497 803h7v7h-7zM2501 818h7v7h-7zM2505 836h7v7h-7zM2510 852h7v7h-7zM2517 866h7v7h-7zM2524 882h7v7h-7zM2535 896h7v7h-7zM2511 343h7v7h-7zM2504 358h7v7h-7zM2498 372h7v7h-7zM2491 389h7v7h-7zM2488 404h7v7h-7zM2482 419h7v7h-7zM2477 436h7v7h-7zM2472 452h7v7h-7zM2469 468h7v7h-7zM2462 484h7v7h-7zM2461 501h7v7h-7zM2458 516h7v7h-7zM2456 533h7v7h-7zM2456 553h7v7h-7zM2450 568h7v7h-7zM2452 585h7v7h-7zM2448 602h7v7h-7zM2452 617h7v7h-7zM2451 633h7v7h-7zM2454 652h7v7h-7zM2451 669h7v7h-7zM2455 684h7v7h-7zM2458 702h7v7h-7zM2459 719h7v7h-7zM2461 733h7v7h-7zM2464 752h7v7h-7zM2468 767h7v7h-7zM2473 784h7v7h-7zM2477 800h7v7h-7zM2484 818h7v7h-7zM2486 832h7v7h-7zM2494 848h7v7h-7zM2497 866h7v7h-7zM2506 882h7v7h-7zM2510 894h7v7h-7zM2495 343h7v7h-7zM2485 359h7v7h-7zM2479 376h7v7h-7zM2474 392h7v7h-7zM2467 407h7v7h-7zM2465 421h7v7h-7zM2461 437h7v7h-7zM2455 454h7v7h-7zM2451 469h7v7h-7zM2447 486h7v7h-7zM2443 502h7v7h-7zM2440 520h7v7h-7zM2439 535h7v7h-7zM2436 552h7v7h-7zM2436 569h7v7h-7zM2436 587h7v7h-7zM2436 602h7v7h-7zM2433 618h7v7h-7zM2434 632h7v7h-7zM2435 651h7v7h-7zM2438 670h7v7h-7zM2436 684h7v7h-7zM2440 702h7v7h-7zM2441 718h7v7h-7zM2442 733h7v7h-7zM2448 747h7v7h-7zM2451 766h7v7h-7zM2454 781h7v7h-7zM2458 799h7v7h-7zM2462 814h7v7h-7zM2468 830h7v7h-7zM2474 845h7v7h-7zM2483 860h7v7h-7zM2485 876h7v7h-7zM2492 891h7v7h-7zM2474 345h7v7h-7zM2469 363h7v7h-7zM2460 378h7v7h-7zM2454 394h7v7h-7zM2448 410h7v7h-7zM2447 424h7v7h-7zM2440 439h7v7h-7zM2436 456h7v7h-7zM2433 472h7v7h-7zM2430 487h7v7h-7zM2427 505h7v7h-7zM2425 520h7v7h-7zM2422 535h7v7h-7zM2419 553h7v7h-7zM2423 569h7v7h-7zM2418 587h7v7h-7zM2417 603h7v7h-7zM2418 616h7v7h-7zM2417 634h7v7h-7zM2417 652h7v7h-7zM2420 666h7v7h-7zM2419 682h7v7h-7zM2423 700h7v7h-7zM2424 715h7v7h-7zM2428 732h7v7h-7zM2429 748h7v7h-7zM2432 765h7v7h-7zM2437 779h7v7h-7zM2441 796h7v7h-7zM2445 813h7v7h-7zM2450 828h7v7h-7zM2454 844h7v7h-7zM2460 858h7v7h-7zM2467 876h7v7h-7zM2471 887h7v7h-7zM2452 349h7v7h-7zM2446 365h7v7h-7zM2442 378h7v7h-7zM2435 396h7v7h-7zM2431 412h7v7h-7zM2426 428h7v7h-7zM2421 441h7v7h-7zM2419 457h7v7h-7zM2416 472h7v7h-7zM2413 490h7v7h-7zM2410 504h7v7h-7zM2407 523h7v7h-7zM2403 536h7v7h-7zM2406 551h7v7h-7zM2404 570h7v7h-7zM2400 586h7v7h-7zM2401 601h7v7h-7zM2401 618h7v7h-7zM2403 634h7v7h-7zM2401 650h7v7h-7zM2402 665h7v7h-7zM2405 682h7v7h-7zM2405 699h7v7h-7zM2407 716h7v7h-7zM2409 733h7v7h-7zM2413 745h7v7h-7zM2414 763h7v7h-7zM2420 779h7v7h-7zM2421 794h7v7h-7zM2426 812h7v7h-7zM2430 826h7v7h-7zM2437 842h7v7h-7zM2443 856h7v7h-7zM2448 874h7v7h-7zM2452 886h7v7h-7zM2429 369h7v7h-7zM2420 384h7v7h-7zM2417 396h7v7h-7zM2414 413h7v7h-7zM2408 427h7v7h-7zM2406 442h7v7h-7zM2403 458h7v7h-7zM2398 475h7v7h-7zM2395 489h7v7h-7zM2393 506h7v7h-7zM2390 522h7v7h-7zM2387 539h7v7h-7zM2386 555h7v7h-7zM2384 570h7v7h-7zM2386 587h7v7h-7zM2384 601h7v7h-7zM2386 619h7v7h-7zM2383 635h7v7h-7zM2385 649h7v7h-7zM2384 665h7v7h-7zM2385 681h7v7h-7zM2389 700h7v7h-7zM2389 713h7v7h-7zM2390 730h7v7h-7zM2396 744h7v7h-7zM2399 762h7v7h-7zM2401 776h7v7h-7zM2406 791h7v7h-7zM2407 808h7v7h-7zM2413 821h7v7h-7zM2419 837h7v7h-7zM2422 854h7v7h-7zM2427 869h7v7h-7zM2407 373h7v7h-7zM2405 384h7v7h-7zM2399 400h7v7h-7zM2394 416h7v7h-7zM2391 429h7v7h-7zM2386 446h7v7h-7zM2383 459h7v7h-7zM2378 477h7v7h-7zM2378 491h7v7h-7zM2374 510h7v7h-7zM2373 523h7v7h-7zM2371 538h7v7h-7zM2369 554h7v7h-7zM2364 572h7v7h-7zM2366 586h7v7h-7zM2366 603h7v7h-7zM2365 616h7v7h-7zM2367 635h7v7h-7zM2366 650h7v7h-7zM2370 665h7v7h-7zM2369 681h7v7h-7zM2372 695h7v7h-7zM2373 712h7v7h-7zM2374 729h7v7h-7zM2376 744h7v7h-7zM2382 759h7v7h-7zM2384 775h7v7h-7zM2387 791h7v7h-7zM2389 806h7v7h-7zM2395 819h7v7h-7zM2399 835h7v7h-7zM2403 851h7v7h-7zM2410 863h7v7h-7zM2385 389h7v7h-7zM2382 404h7v7h-7zM2376 419h7v7h-7zM2372 435h7v7h-7zM2368 451h7v7h-7zM2365 463h7v7h-7zM2363 483h7v7h-7zM2358 494h7v7h-7zM2359 511h7v7h-7zM2355 525h7v7h-7zM2354 541h7v7h-7zM2353 556h7v7h-7zM2350 571h7v7h-7zM2352 587h7v7h-7zM2349 601h7v7h-7zM2348 618h7v7h-7zM2350 635h7v7h-7zM2350 651h7v7h-7zM2349 664h7v7h-7zM2351 678h7v7h-7zM2351 697h7v7h-7zM2356 712h7v7h-7zM2357 726h7v7h-7zM2360 743h7v7h-7zM2362 756h7v7h-7zM2367 772h7v7h-7zM2370 785h7v7h-7zM2370 803h7v7h-7zM2377 819h7v7h-7zM2380 834h7v7h-7zM2384 847h7v7h-7zM2362 408h7v7h-7zM2359 421h7v7h-7zM2354 436h7v7h-7zM2351 451h7v7h-7zM2348 467h7v7h-7zM2344 479h7v7h-7zM2341 496h7v7h-7zM2341 514h7v7h-7zM2339 527h7v7h-7zM2338 542h7v7h-7zM2334 557h7v7h-7zM2333 571h7v7h-7zM2333 586h7v7h-7zM2332 604h7v7h-7zM2330 618h7v7h-7zM2335 632h7v7h-7zM2333 648h7v7h-7zM2336 665h7v7h-7zM2337 680h7v7h-7zM2337 696h7v7h-7zM2338 709h7v7h-7zM2339 726h7v7h-7zM2343 740h7v7h-7zM2345 757h7v7h-7zM2347 770h7v7h-7zM2352 785h7v7h-7zM2355 801h7v7h-7zM2359 816h7v7h-7zM2363 830h7v7h-7zM2341 425h7v7h-7zM2334 438h7v7h-7zM2335 455h7v7h-7zM2328 470h7v7h-7zM2327 483h7v7h-7zM2325 496h7v7h-7zM2322 510h7v7h-7zM2320 525h7v7h-7zM2319 542h7v7h-7zM2318 560h7v7h-7zM2317 572h7v7h-7zM2318 586h7v7h-7zM2315 604h7v7h-7zM2314 620h7v7h-7zM2315 634h7v7h-7zM2315 647h7v7h-7zM2316 663h7v7h-7zM2317 678h7v7h-7zM2320 693h7v7h-7zM2322 708h7v7h-7zM2324 724h7v7h-7zM2324 739h7v7h-7zM2326 753h7v7h-7zM2329 767h7v7h-7zM2334 786h7v7h-7zM2336 798h7v7h-7zM2339 810h7v7h-7zM3100 616h7v7h-7zM3092 607h7v7h-7zM3092 621h7v7h-7zM3093 626h7v7h-7zM3084 610h7v7h-7zM3083 618h7v7h-7zM3084 630h7v7h-7zM3079 601h7v7h-7zM3076 609h7v7h-7zM3075 618h7v7h-7zM3074 629h7v7h-7zM3081 637h7v7h-7zM3071 598h7v7h-7zM3065 611h7v7h-7zM3066 618h7v7h-7zM3070 629h7v7h-7zM3070 636h7v7h-7zM3068 587h7v7h-7zM3063 596h7v7h-7zM3059 610h7v7h-7zM3058 617h7v7h-7zM3061 629h7v7h-7zM3061 638h7v7h-7zM3068 647h7v7h-7zM3058 591h7v7h-7zM3052 600h7v7h-7zM3052 606h7v7h-7zM3049 620h7v7h-7zM3051 630h7v7h-7zM3056 637h7v7h-7zM3055 645h7v7h-7zM3047 588h7v7h-7zM3047 598h7v7h-7zM3043 608h7v7h-7zM3044 619h7v7h-7zM3044 629h7v7h-7zM3046 637h7v7h-7zM3048 649h7v7h-7zM3044 578h7v7h-7zM3042 589h7v7h-7zM3038 599h7v7h-7zM3034 608h7v7h-7zM3038 619h7v7h-7zM3037 629h7v7h-7zM3038 635h7v7h-7zM3041 647h7v7h-7zM3046 655h7v7h-7zM3035 579h7v7h-7zM3032 589h7v7h-7zM3028 598h7v7h-7zM3027 605h7v7h-7zM3025 622h7v7h-7zM3027 629h7v7h-7zM3028 641h7v7h-7zM3028 647h7v7h-7zM3036 659h7v7h-7zM3031 573h7v7h-7zM3028 578h7v7h-7zM3025 587h7v7h-7zM3018 598h7v7h-7zM3018 609h7v7h-7zM3019 619h7v7h-7zM3021 629h7v7h-7zM3020 637h7v7h-7zM3025 647h7v7h-7zM3030 660h7v7h-7zM3031 671h7v7h-7zM3024 572h7v7h-7zM3018 579h7v7h-7zM3016 590h7v7h-7zM3013 600h7v7h-7zM3010 608h7v7h-7zM3008 620h7v7h-7zM3012 630h7v7h-7zM3015 638h7v7h-7zM3016 649h7v7h-7zM3019 658h7v7h-7zM3023 666h7v7h-7zM3012 566h7v7h-7zM3008 578h7v7h-7zM2999 592h7v7h-7zM3000 604h7v7h-7zM2997 617h7v7h-7zM2999 630h7v7h-7zM2999 644h7v7h-7zM3004 661h7v7h-7zM3011 673h7v7h-7zM2993 561h7v7h-7zM2993 575h7v7h-7zM2988 589h7v7h-7zM2986 603h7v7h-7zM2983 616h7v7h-7zM2986 634h7v7h-7zM2986 648h7v7h-7zM2990 660h7v7h-7zM2996 673h7v7h-7zM2989 551h7v7h-7zM2982 566h7v7h-7zM2977 577h7v7h-7zM2972 594h7v7h-7zM2970 606h7v7h-7zM2973 617h7v7h-7zM2970 633h7v7h-7zM2975 646h7v7h-7zM2977 657h7v7h-7zM2981 670h7v7h-7zM2987 686h7v7h-7zM2976 550h7v7h-7zM2971 564h7v7h-7zM2962 576h7v7h-7zM2963 592h7v7h-7zM2961 604h7v7h-7zM2960 616h7v7h-7zM2959 631h7v7h-7zM2962 648h7v7h-7zM2964 659h7v7h-7zM2970 673h7v7h-7zM2974 685h7v7h-7zM2968 535h7v7h-7zM2961 550h7v7h-7zM2956 564h7v7h-7zM2950 577h7v7h-7zM2949 590h7v7h-7zM2946 605h7v7h-7zM2945 619h7v7h-7zM2945 635h7v7h-7zM2946 645h7v7h-7zM2951 661h7v7h-7zM2955 671h7v7h-7zM2961 688h7v7h-7zM2967 700h7v7h-7zM2951 538h7v7h-7zM2945 549h7v7h-7zM2938 562h7v7h-7zM2935 577h7v7h-7zM2933 592h7v7h-7zM2932 605h7v7h-7zM2934 617h7v7h-7zM2933 634h7v7h-7zM2932 647h7v7h-7zM2938 661h7v7h-7zM2940 671h7v7h-7zM2946 688h7v7h-7zM2950 702h7v7h-7zM2942 526h7v7h-7zM2936 535h7v7h-7zM2934 548h7v7h-7zM2926 563h7v7h-7zM2923 578h7v7h-7zM2919 589h7v7h-7zM2923 602h7v7h-7zM2920 618h7v7h-7zM2918 627h7v7h-7zM2923 644h7v7h-7zM2924 659h7v7h-7zM2928 675h7v7h-7zM2932 689h7v7h-7zM2938 698h7v7h-7zM2941 712h7v7h-7zM2928 523h7v7h-7zM2926 536h7v7h-7zM2917 548h7v7h-7zM2913 561h7v7h-7zM2910 576h7v7h-7zM2908 589h7v7h-7zM2907 605h7v7h-7zM2909 618h7v7h-7zM2907 631h7v7h-7zM2906 647h7v7h-7zM2910 659h7v7h-7zM2916 674h7v7h-7zM2916 686h7v7h-7zM2923 699h7v7h-7zM2930 712h7v7h-7zM2924 511h7v7h-7zM2916 520h7v7h-7zM2907 536h7v7h-7zM2904 549h7v7h-7zM2899 563h7v7h-7zM2897 578h7v7h-7zM2895 590h7v7h-7zM2893 604h7v7h-7zM2895 616h7v7h-7zM2897 633h7v7h-7zM2895 645h7v7h-7zM2896 660h7v7h-7zM2901 675h7v7h-7zM2906 685h7v7h-7zM2909 700h7v7h-7zM2914 713h7v7h-7zM2921 724h7v7h-7zM2907 514h7v7h-7zM2900 523h7v7h-7zM2894 536h7v7h-7zM2892 549h7v7h-7zM2888 561h7v7h-7zM2884 575h7v7h-7zM2882 590h7v7h-7zM2880 607h7v7h-7zM2880 616h7v7h-7zM2880 634h7v7h-7zM2881 645h7v7h-7zM2884 661h7v7h-7zM2886 672h7v7h-7zM2891 688h7v7h-7zM2897 699h7v7h-7zM2901 713h7v7h-7zM2908 725h7v7h-7zM2896 498h7v7h-7zM2893 509h7v7h-7zM2884 522h7v7h-7zM2884 534h7v7h-7zM2878 548h7v7h-7zM2876 562h7v7h-7zM2872 580h7v7h-7zM2869 589h7v7h-7zM2868 605h7v7h-7zM2869 616h7v7h-7zM2865 633h7v7h-7zM2870 649h7v7h-7zM2872 660h7v7h-7zM2874 674h7v7h-7zM2878 688h7v7h-7zM2880 702h7v7h-7zM2888 713h7v7h-7zM2894 727h7v7h-7zM2901 738h7v7h-7zM2886 498h7v7h-7zM2876 508h7v7h-7zM2873 520h7v7h-7zM2870 534h7v7h-7zM2864 551h7v7h-7zM2864 563h7v7h-7zM2857 576h7v7h-7zM2856 590h7v7h-7zM2855 601h7v7h-7zM2855 617h7v7h-7zM2855 630h7v7h-7zM2858 646h7v7h-7zM2858 659h7v7h-7zM2860 673h7v7h-7zM2864 686h7v7h-7zM2870 703h7v7h-7zM2876 714h7v7h-7zM2877 726h7v7h-7zM2883 739h7v7h-7zM2873 499h7v7h-7zM2865 509h7v7h-7zM2860 522h7v7h-7zM2854 533h7v7h-7zM2849 550h7v7h-7zM2847 565h7v7h-7zM2845 577h7v7h-7zM2844 588h7v7h-7zM2843 603h7v7h-7zM2842 620h7v7h-7zM2842 631h7v7h-7zM2841 644h7v7h-7zM2846 661h7v7h-7zM2847 674h7v7h-7zM2851 687h7v7h-7zM2852 702h7v7h-7zM2858 716h7v7h-7zM2864 725h7v7h-7zM2869 740h7v7h-7zM2858 495h7v7h-7zM2847 511h7v7h-7zM2846 523h7v7h-7zM2842 536h7v7h-7zM2838 550h7v7h-7zM2837 562h7v7h-7zM2833 576h7v7h-7zM2830 590h7v7h-7zM2827 603h7v7h-7zM2827 620h7v7h-7zM2829 632h7v7h-7zM2828 648h7v7h-7zM2835 660h7v7h-7zM2835 671h7v7h-7zM2836 689h7v7h-7zM2843 702h7v7h-7zM2847 714h7v7h-7zM2851 728h7v7h-7zM2855 738h7v7h-7zM2842 494h7v7h-7zM2835 510h7v7h-7zM2832 523h7v7h-7zM2829 536h7v7h-7zM2823 548h7v7h-7zM2822 562h7v7h-7zM2818 577h7v7h-7zM2817 589h7v7h-7zM2814 603h7v7h-7zM2815 620h7v7h-7zM2817 633h7v7h-7zM2817 645h7v7h-7zM2818 661h7v7h-7zM2823 673h7v7h-7zM2824 688h7v7h-7zM2829 701h7v7h-7zM2829 714h7v7h-7zM2836 727h7v7h-7zM2840 740h7v7h-7zM2824 495h7v7h-7zM2823 507h7v7h-7zM2819 520h7v7h-7zM2818 535h7v7h-7zM2807 547h7v7h-7zM2809 562h7v7h-7zM2806 575h7v7h-7zM2807 589h7v7h-7zM2804 603h7v7h-7zM2802 616h7v7h-7zM2804 631h7v7h-7zM2804 648h7v7h-7zM2805 659h7v7h-7zM2809 676h7v7h-7zM2810 685h7v7h-7zM2812 702h7v7h-7zM2817 716h7v7h-7zM2820 727h7v7h-7zM2826 741h7v7h-7zM2813 495h7v7h-7zM2811 508h7v7h-7zM2804 522h7v7h-7zM2800 535h7v7h-7zM2795 551h7v7h-7zM2793 563h7v7h-7zM2795 576h7v7h-7zM2793 589h7v7h-7zM2791 602h7v7h-7zM2790 616h7v7h-7zM2791 634h7v7h-7zM2790 646h7v7h-7zM2791 659h7v7h-7zM2796 673h7v7h-7zM2797 688h7v7h-7zM2802 703h7v7h-7zM2803 716h7v7h-7zM2809 730h7v7h-7zM2816 740h7v7h-7zM2800 495h7v7h-7zM2793 507h7v7h-7zM2793 521h7v7h-7zM2787 537h7v7h-7zM2784 548h7v7h-7zM2782 566h7v7h-7zM2778 576h7v7h-7zM2779 591h7v7h-7zM2776 602h7v7h-7zM2776 620h7v7h-7zM2775 634h7v7h-7zM2778 647h7v7h-7zM2782 658h7v7h-7zM2785 674h7v7h-7zM2784 687h7v7h-7zM2785 702h7v7h-7zM2792 714h7v7h-7zM2796 726h7v7h-7zM2798 741h7v7h-7zM2789 496h7v7h-7zM2782 509h7v7h-7zM2780 520h7v7h-7zM2772 537h7v7h-7zM2771 546h7v7h-7zM2770 565h7v7h-7zM2767 577h7v7h-7zM2763 592h7v7h-7zM2763 602h7v7h-7zM2763 617h7v7h-7zM2764 631h7v7h-7zM2765 644h7v7h-7zM2769 660h7v7h-7zM2768 675h7v7h-7zM2771 687h7v7h-7zM2773 700h7v7h-7zM2776 715h7v7h-7zM2780 729h7v7h-7zM2782 741h7v7h-7zM2766 509h7v7h-7zM2762 519h7v7h-7zM2759 535h7v7h-7zM2761 548h7v7h-7zM2757 560h7v7h-7zM2753 575h7v7h-7zM2751 590h7v7h-7zM2752 603h7v7h-7zM2751 619h7v7h-7zM2751 632h7v7h-7zM2753 644h7v7h-7zM2752 659h7v7h-7zM2754 675h7v7h-7zM2758 690h7v7h-7zM2761 699h7v7h-7zM2762 715h7v7h-7zM2766 727h7v7h-7zM2752 508h7v7h-7zM2751 522h7v7h-7zM2746 537h7v7h-7zM2742 547h7v7h-7zM2739 564h7v7h-7zM2740 576h7v7h-7zM2739 590h7v7h-7zM2737 603h7v7h-7zM2736 622h7v7h-7zM2738 630h7v7h-7zM2735 648h7v7h-7zM2741 664h7v7h-7zM2743 674h7v7h-7zM2744 686h7v7h-7zM2748 701h7v7h-7zM2747 713h7v7h-7zM2754 729h7v7h-7zM3219 585h7v7h-7zM3223 601h7v7h-7zM3225 615h7v7h-7zM3223 633h7v7h-7zM3221 649h7v7h-7zM3233 572h7v7h-7zM3237 587h7v7h-7zM3242 603h7v7h-7zM3241 620h7v7h-7zM3240 633h7v7h-7zM3236 649h7v7h-7zM3232 663h7v7h-7zM3250 571h7v7h-7zM3257 588h7v7h-7zM3258 602h7v7h-7zM3259 619h7v7h-7zM3257 633h7v7h-7zM3256 649h7v7h-7zM3251 666h7v7h-7zM3263 558h7v7h-7zM3270 572h7v7h-7zM3272 586h7v7h-7zM3273 601h7v7h-7zM3275 619h7v7h-7zM3274 634h7v7h-7zM3271 647h7v7h-7zM3270 664h7v7h-7zM3262 680h7v7h-7zM3280 553h7v7h-7zM3287 570h7v7h-7zM3288 586h7v7h-7zM3291 602h7v7h-7zM3291 620h7v7h-7zM3293 633h7v7h-7zM3291 648h7v7h-7zM3286 667h7v7h-7zM3282 680h7v7h-7zM3294 541h7v7h-7zM3301 554h7v7h-7zM3303 570h7v7h-7zM3308 587h7v7h-7zM3310 601h7v7h-7zM3309 618h7v7h-7zM3308 634h7v7h-7zM3308 651h7v7h-7zM3305 664h7v7h-7zM3299 681h7v7h-7zM3293 695h7v7h-7zM3312 538h7v7h-7zM3318 555h7v7h-7zM3323 569h7v7h-7zM3324 583h7v7h-7zM3327 600h7v7h-7zM3326 617h7v7h-7zM3328 634h7v7h-7zM3327 651h7v7h-7zM3325 664h7v7h-7zM3315 683h7v7h-7zM3311 696h7v7h-7zM3322 523h7v7h-7zM3330 538h7v7h-7zM3336 554h7v7h-7zM3339 572h7v7h-7zM3341 588h7v7h-7zM3343 601h7v7h-7zM3343 618h7v7h-7zM3344 635h7v7h-7zM3342 648h7v7h-7zM3338 667h7v7h-7zM3336 681h7v7h-7zM3329 694h7v7h-7zM3322 712h7v7h-7zM3341 522h7v7h-7zM3346 538h7v7h-7zM3353 555h7v7h-7zM3356 569h7v7h-7zM3358 588h7v7h-7zM3358 603h7v7h-7zM3360 619h7v7h-7zM3360 634h7v7h-7zM3357 651h7v7h-7zM3354 667h7v7h-7zM3353 681h7v7h-7zM3349 697h7v7h-7zM3344 711h7v7h-7zM3360 524h7v7h-7zM3366 540h7v7h-7zM3368 554h7v7h-7zM3371 571h7v7h-7zM3376 583h7v7h-7zM3378 603h7v7h-7zM3376 616h7v7h-7zM3380 634h7v7h-7zM3374 650h7v7h-7zM3373 666h7v7h-7zM3370 682h7v7h-7zM3365 697h7v7h-7zM3362 712h7v7h-7zM3372 511h7v7h-7zM3378 523h7v7h-7zM3382 542h7v7h-7zM3388 554h7v7h-7zM3389 568h7v7h-7zM3391 587h7v7h-7zM3393 601h7v7h-7zM3394 618h7v7h-7zM3395 634h7v7h-7zM3393 650h7v7h-7zM3391 665h7v7h-7zM3389 683h7v7h-7zM3385 697h7v7h-7zM3375 712h7v7h-7zM3374 728h7v7h-7zM3393 509h7v7h-7zM3397 522h7v7h-7zM3401 541h7v7h-7zM3404 554h7v7h-7zM3407 570h7v7h-7zM3408 586h7v7h-7zM3411 603h7v7h-7zM3411 619h7v7h-7zM3411 632h7v7h-7zM3410 653h7v7h-7zM3407 668h7v7h-7zM3404 683h7v7h-7zM3401 697h7v7h-7zM3397 711h7v7h-7zM3388 726h7v7h-7zM3404 493h7v7h-7zM3408 510h7v7h-7zM3416 523h7v7h-7zM3418 539h7v7h-7zM3420 554h7v7h-7zM3425 569h7v7h-7zM3427 585h7v7h-7zM3426 601h7v7h-7zM3428 616h7v7h-7zM3426 635h7v7h-7zM3429 652h7v7h-7zM3425 665h7v7h-7zM3421 683h7v7h-7zM3418 700h7v7h-7zM3415 714h7v7h-7zM3408 728h7v7h-7zM3402 745h7v7h-7zM3425 492h7v7h-7zM3428 508h7v7h-7zM3431 523h7v7h-7zM3438 539h7v7h-7zM3439 555h7v7h-7zM3442 569h7v7h-7zM3445 587h7v7h-7zM3445 599h7v7h-7zM3445 616h7v7h-7zM3446 632h7v7h-7zM3443 648h7v7h-7zM3441 666h7v7h-7zM3441 682h7v7h-7zM3436 695h7v7h-7zM3431 713h7v7h-7zM3427 728h7v7h-7zM3422 743h7v7h-7zM3436 477h7v7h-7zM3440 493h7v7h-7zM3443 509h7v7h-7zM3449 522h7v7h-7zM3455 539h7v7h-7zM3457 554h7v7h-7zM3460 569h7v7h-7zM3459 585h7v7h-7zM3462 601h7v7h-7zM3459 620h7v7h-7zM3463 634h7v7h-7zM3463 649h7v7h-7zM3460 665h7v7h-7zM3460 682h7v7h-7zM3453 696h7v7h-7zM3449 713h7v7h-7zM3444 727h7v7h-7zM3439 744h7v7h-7zM3432 759h7v7h-7zM3452 476h7v7h-7zM3457 493h7v7h-7zM3461 507h7v7h-7zM3466 524h7v7h-7zM3470 537h7v7h-7zM3474 555h7v7h-7zM3476 569h7v7h-7zM3478 586h7v7h-7zM3478 602h7v7h-7zM3479 619h7v7h-7zM3480 635h7v7h-7zM3478 650h7v7h-7zM3477 667h7v7h-7zM3477 681h7v7h-7zM3470 695h7v7h-7zM3467 714h7v7h-7zM3463 728h7v7h-7zM3456 746h7v7h-7zM3451 759h7v7h-7zM3464 462h7v7h-7zM3468 477h7v7h-7zM3474 492h7v7h-7zM3479 508h7v7h-7zM3484 524h7v7h-7zM3487 541h7v7h-7zM3490 554h7v7h-7zM3495 570h7v7h-7zM3495 589h7v7h-7zM3495 603h7v7h-7zM3494 618h7v7h-7zM3493 635h7v7h-7zM3497 648h7v7h-7zM3494 667h7v7h-7zM3492 682h7v7h-7zM3487 695h7v7h-7zM3485 714h7v7h-7zM3482 728h7v7h-7zM3476 742h7v7h-7zM3469 758h7v7h-7zM3466 776h7v7h-7zM3483 464h7v7h-7zM3486 476h7v7h-7zM3495 493h7v7h-7zM3498 508h7v7h-7zM3500 524h7v7h-7zM3506 540h7v7h-7zM3507 556h7v7h-7zM3510 571h7v7h-7zM3514 587h7v7h-7zM3513 603h7v7h-7zM3515 619h7v7h-7zM3511 635h7v7h-7zM3515 649h7v7h-7zM3511 665h7v7h-7zM3508 683h7v7h-7zM3505 695h7v7h-7zM3503 713h7v7h-7zM3499 730h7v7h-7zM3494 745h7v7h-7zM3486 759h7v7h-7zM3483 772h7v7h-7zM3500 463h7v7h-7zM3506 475h7v7h-7zM3512 493h7v7h-7zM3515 506h7v7h-7zM3519 525h7v7h-7zM3523 540h7v7h-7zM3525 556h7v7h-7zM3529 570h7v7h-7zM3531 586h7v7h-7zM3528 601h7v7h-7zM3531 619h7v7h-7zM3530 633h7v7h-7zM3530 649h7v7h-7zM3528 667h7v7h-7zM3525 685h7v7h-7zM3525 698h7v7h-7zM3518 713h7v7h-7zM3516 730h7v7h-7zM3512 743h7v7h-7zM3505 760h7v7h-7zM3499 773h7v7h-7zM3513 445h7v7h-7zM3519 459h7v7h-7zM3526 475h7v7h-7zM3529 492h7v7h-7zM3534 505h7v7h-7zM3538 521h7v7h-7zM3539 539h7v7h-7zM3544 554h7v7h-7zM3544 568h7v7h-7zM3549 588h7v7h-7zM3549 602h7v7h-7zM3549 616h7v7h-7zM3546 634h7v7h-7zM3547 652h7v7h-7zM3545 665h7v7h-7zM3542 682h7v7h-7zM3541 697h7v7h-7zM3535 712h7v7h-7zM3532 731h7v7h-7zM3529 743h7v7h-7zM3525 759h7v7h-7zM3520 774h7v7h-7zM3511 790h7v7h-7zM2498 135h7v7h-7zM2494 1103h7v7h-7zM2487 174h7v7h-7zM2483 1065h7v7h-7zM2545 164h7v7h-7zM2541 1075h7v7h-7zM2527 181h7v7h-7zM2523 1058h7v7h-7zM2517 191h7v7h-7zM2513 1048h7v7h-7zM2509 200h7v7h-7zM2505 1039h7v7h-7zM2499 205h7v7h-7zM2495 1033h7v7h-7zM2489 211h7v7h-7zM2485 1027h7v7h-7zM2545 200h7v7h-7zM2541 1039h7v7h-7zM2541 215h7v7h-7zM2537 1024h7v7h-7zM2534 228h7v7h-7zM2530 1011h7v7h-7zM2527 239h7v7h-7zM2523 1000h7v7h-7zM2519 245h7v7h-7zM2515 993h7v7h-7zM2509 249h7v7h-7zM2505 989h7v7h-7zM2498 249h7v7h-7zM2494 989h7v7h-7zM2567 217h7v7h-7zM2563 1022h7v7h-7zM2595 215h7v7h-7zM2591 1023h7v7h-7zM2562 236h7v7h-7zM2558 1003h7v7h-7zM2585 231h7v7h-7zM2582 1008h7v7h-7zM2567 261h7v7h-7zM2563 978h7v7h-7zM2587 257h7v7h-7zM2583 982h7v7h-7zM2569 279h7v7h-7zM2565 959h7v7h-7zM2563 290h7v7h-7zM2559 949h7v7h-7zM2553 293h7v7h-7zM2549 946h7v7h-7zM2539 291h7v7h-7zM2535 947h7v7h-7zM2524 287h7v7h-7zM2520 951h7v7h-7zM2617 312h7v7h-7zM2614 927h7v7h-7zM2531 318h7v7h-7zM2527 921h7v7h-7zM2553 325h7v7h-7zM2549 914h7v7h-7zM2515 333h7v7h-7zM2511 906h7v7h-7zM2573 333h7v7h-7zM2569 906h7v7h-7zM2272 847h7v7h-7zM2482 702h7v7h-7zM2912 482h7v7h-7zM3002 422h7v7h-7zM2942 407h7v7h-7zM2932 747h7v7h-7zM2957 787h7v7h-7zM2887 837h7v7h-7zM3447 772h7v7h-7zM3507 812h7v7h-7zM3122 772h7v7h-7z" fill="#7373ff"/>
<path transform="scale(.2)" d="M2734 512h7v7h-7zM2731 520h7v7h-7zM2732 528h7v7h-7zM2735 536h7v7h-7zM2732 544h7v7h-7zM2732 552h7v7h-7zM2733 560h7v7h-7zM2732 568h7v7h-7zM2732 576h7v7h-7zM2734 584h7v7h-7zM2728 592h7v7h-7zM2733 600h7v7h-7zM2733 608h7v7h-7zM2734 616h7v7h-7zM2731 624h7v7h-7zM2734 632h7v7h-7zM2734 640h7v7h-7zM2733 648h7v7h-7zM2734 656h7v7h-7zM2730 664h7v7h-7zM2732 672h7v7h-7zM2731 680h7v7h-7zM2732 688h7v7h-7zM2730 696h7v7h-7zM2731 704h7v7h-7zM2730 712h7v7h-7zM2732 720h7v7h-7zM3128 621h7v7h-7zM3131 608h7v7h-7zM3136 620h7v7h-7zM3136 625h7v7h-7zM3143 607h7v7h-7zM3145 619h7v7h-7zM3142 628h7v7h-7zM3152 608h7v7h-7zM3152 619h7v7h-7zM3151 629h7v7h-7zM3156 600h7v7h-7zM3160 608h7v7h-7zM3162 620h7v7h-7zM3160 628h7v7h-7zM3156 636h7v7h-7zM3165 598h7v7h-7zM3166 607h7v7h-7zM3168 617h7v7h-7zM3169 626h7v7h-7zM3165 638h7v7h-7zM3173 601h7v7h-7zM3175 608h7v7h-7zM3174 616h7v7h-7zM3176 630h7v7h-7zM3174 640h7v7h-7zM3178 590h7v7h-7zM3181 599h7v7h-7zM3185 610h7v7h-7zM3185 618h7v7h-7zM3184 628h7v7h-7zM3180 637h7v7h-7zM3178 649h7v7h-7zM3187 590h7v7h-7zM3191 600h7v7h-7zM3192 611h7v7h-7zM3193 618h7v7h-7zM3192 628h7v7h-7zM3191 638h7v7h-7zM3185 646h7v7h-7zM3195 588h7v7h-7zM3198 597h7v7h-7zM3201 609h7v7h-7zM3200 618h7v7h-7zM3200 628h7v7h-7zM3198 636h7v7h-7zM3194 648h7v7h-7zM3201 577h7v7h-7zM3205 588h7v7h-7zM3208 599h7v7h-7zM3208 608h7v7h-7zM3210 618h7v7h-7zM3209 628h7v7h-7zM3205 639h7v7h-7zM3205 650h7v7h-7zM3201 656h7v7h-7zM3208 578h7v7h-7zM3212 587h7v7h-7zM3213 598h7v7h-7zM3216 606h7v7h-7zM3215 618h7v7h-7zM3218 628h7v7h-7zM3215 636h7v7h-7zM3212 645h7v7h-7zM3208 657h7v7h-7z" fill="#6666ff"/>
<line x1="458" y1="124.2" x2="692" y2="124.2" stroke="#3535ff" stroke-width="1.1"/>
<rect x="451.30" y="14.60" width="275.30" height="219.10" fill="none" stroke="#6a6a6a" stroke-width="1.2"/>
<line x1="451.30" y1="233.70" x2="451.30" y2="231.20" stroke="#6a6a6a" stroke-width="1.0"/>
<line x1="451.30" y1="14.60" x2="451.30" y2="17.10" stroke="#6a6a6a" stroke-width="1.0"/>
<text x="451.30" y="243.70" font-size="8.7" fill="#444444" text-anchor="middle" dominant-baseline="central" font-family="Liberation Sans">-500</text>
<line x1="485.71" y1="233.70" x2="485.71" y2="231.20" stroke="#6a6a6a" stroke-width="1.0"/>
<line x1="485.71" y1="14.60" x2="485.71" y2="17.10" stroke="#6a6a6a" stroke-width="1.0"/>
<text x="485.71" y="243.70" font-size="8.7" fill="#444444" text-anchor="middle" dominant-baseline="central" font-family="Liberation Sans">-400</text>
<line x1="520.12" y1="233.70" x2="520.12" y2="231.20" stroke="#6a6a6a" stroke-width="1.0"/>
<line x1="520.12" y1="14.60" x2="520.12" y2="17.10" stroke="#6a6a6a" stroke-width="1.0"/>
<text x="520.12" y="243.70" font-size="8.7" fill="#444444" text-anchor="middle" dominant-baseline="central" font-family="Liberation Sans">-300</text>
<line x1="554.54" y1="233.70" x2="554.54" y2="231.20" stroke="#6a6a6a" stroke-width="1.0"/>
<line x1="554.54" y1="14.60" x2="554.54" y2="17.10" stroke="#6a6a6a" stroke-width="1.0"/>
<text x="554.54" y="243.70" font-size="8.7" fill="#444444" text-anchor="middle" dominant-baseline="central" font-family="Liberation Sans">-200</text>
<line x1="588.95" y1="233.70" x2="588.95" y2="231.20" stroke="#6a6a6a" stroke-width="1.0"/>
<line x1="588.95" y1="14.60" x2="588.95" y2="17.10" stroke="#6a6a6a" stroke-width="1.0"/>
<text x="588.95" y="243.70" font-size="8.7" fill="#444444" text-anchor="middle" dominant-baseline="central" font-family="Liberation Sans">-100</text>
<line x1="623.36" y1="233.70" x2="623.36" y2="231.20" stroke="#6a6a6a" stroke-width="1.0"/>
<line x1="623.36" y1="14.60" x2="623.36" y2="17.10" stroke="#6a6a6a" stroke-width="1.0"/>
<text x="623.36" y="243.70" font-size="8.7" fill="#444444" text-anchor="middle" dominant-baseline="central" font-family="Liberation Sans">0</text>
<line x1="657.77" y1="233.70" x2="657.77" y2="231.20" stroke="#6a6a6a" stroke-width="1.0"/>
<line x1="657.77" y1="14.60" x2="657.77" y2="17.10" stroke="#6a6a6a" stroke-width="1.0"/>
<text x="657.77" y="243.70" font-size="8.7" fill="#444444" text-anchor="middle" dominant-baseline="central" font-family="Liberation Sans">100</text>
<line x1="692.19" y1="233.70" x2="692.19" y2="231.20" stroke="#6a6a6a" stroke-width="1.0"/>
<line x1="692.19" y1="14.60" x2="692.19" y2="17.10" stroke="#6a6a6a" stroke-width="1.0"/>
<text x="692.19" y="243.70" font-size="8.7" fill="#444444" text-anchor="middle" dominant-baseline="central" font-family="Liberation Sans">200</text>
<line x1="726.60" y1="233.70" x2="726.60" y2="231.20" stroke="#6a6a6a" stroke-width="1.0"/>
<line x1="726.60" y1="14.60" x2="726.60" y2="17.10" stroke="#6a6a6a" stroke-width="1.0"/>
<text x="726.60" y="243.70" font-size="8.7" fill="#444444" text-anchor="middle" dominant-baseline="central" font-family="Liberation Sans">300</text>
<line x1="451.30" y1="233.70" x2="453.80" y2="233.70" stroke="#6a6a6a" stroke-width="1.0"/>
<line x1="726.60" y1="233.70" x2="724.10" y2="233.70" stroke="#6a6a6a" stroke-width="1.0"/>
<text x="447.20" y="234.70" font-size="8.7" fill="#444444" text-anchor="end" dominant-baseline="central" font-family="Liberation Sans">-80</text>
<line x1="451.30" y1="206.31" x2="453.80" y2="206.31" stroke="#6a6a6a" stroke-width="1.0"/>
<line x1="726.60" y1="206.31" x2="724.10" y2="206.31" stroke="#6a6a6a" stroke-width="1.0"/>
<text x="447.20" y="207.31" font-size="8.7" fill="#444444" text-anchor="end" dominant-baseline="central" font-family="Liberation Sans">-60</text>
<line x1="451.30" y1="178.92" x2="453.80" y2="178.92" stroke="#6a6a6a" stroke-width="1.0"/>
<line x1="726.60" y1="178.92" x2="724.10" y2="178.92" stroke="#6a6a6a" stroke-width="1.0"/>
<text x="447.20" y="179.92" font-size="8.7" fill="#444444" text-anchor="end" dominant-baseline="central" font-family="Liberation Sans">-40</text>
<line x1="451.30" y1="151.54" x2="453.80" y2="151.54" stroke="#6a6a6a" stroke-width="1.0"/>
<line x1="726.60" y1="151.54" x2="724.10" y2="151.54" stroke="#6a6a6a" stroke-width="1.0"/>
<text x="447.20" y="152.54" font-size="8.7" fill="#444444" text-anchor="end" dominant-baseline="central" font-family="Liberation Sans">-20</text>
<line x1="451.30" y1="124.15" x2="453.80" y2="124.15" stroke="#6a6a6a" stroke-width="1.0"/>
<line x1="726.60" y1="124.15" x2="724.10" y2="124.15" stroke="#6a6a6a" stroke-width="1.0"/>
<text x="447.20" y="125.15" font-size="8.7" fill="#444444" text-anchor="end" dominant-baseline="central" font-family="Liberation Sans">0</text>
<line x1="451.30" y1="96.76" x2="453.80" y2="96.76" stroke="#6a6a6a" stroke-width="1.0"/>
<line x1="726.60" y1="96.76" x2="724.10" y2="96.76" stroke="#6a6a6a" stroke-width="1.0"/>
<text x="447.20" y="97.76" font-size="8.7" fill="#444444" text-anchor="end" dominant-baseline="central" font-family="Liberation Sans">20</text>
<line x1="451.30" y1="69.38" x2="453.80" y2="69.38" stroke="#6a6a6a" stroke-width="1.0"/>
<line x1="726.60" y1="69.38" x2="724.10" y2="69.38" stroke="#6a6a6a" stroke-width="1.0"/>
<text x="447.20" y="70.38" font-size="8.7" fill="#444444" text-anchor="end" dominant-baseline="central" font-family="Liberation Sans">40</text>
<line x1="451.30" y1="41.99" x2="453.80" y2="41.99" stroke="#6a6a6a" stroke-width="1.0"/>
<line x1="726.60" y1="41.99" x2="724.10" y2="41.99" stroke="#6a6a6a" stroke-width="1.0"/>
<text x="447.20" y="42.99" font-size="8.7" fill="#444444" text-anchor="end" dominant-baseline="central" font-family="Liberation Sans">60</text>
<line x1="451.30" y1="14.60" x2="453.80" y2="14.60" stroke="#6a6a6a" stroke-width="1.0"/>
<line x1="726.60" y1="14.60" x2="724.10" y2="14.60" stroke="#6a6a6a" stroke-width="1.0"/>
<text x="447.20" y="15.60" font-size="8.7" fill="#444444" text-anchor="end" dominant-baseline="central" font-family="Liberation Sans">80</text>
<text x="589.00" y="255.60" font-size="9.8" fill="#444444" text-anchor="middle" dominant-baseline="central" font-family="Liberation Sans">X(mm)</text>
<text x="427.60" y="123.50" font-size="9.8" fill="#444444" text-anchor="middle" dominant-baseline="central" font-family="Liberation Sans" transform="rotate(-90 427.60 123.50)">Y(mm)</text>
<rect x="48.40" y="280.00" width="279.70" height="222.40" fill="none" stroke="#6a6a6a" stroke-width="1.2"/>
<line x1="48.40" y1="502.40" x2="48.40" y2="499.90" stroke="#6a6a6a" stroke-width="1.0"/>
<line x1="48.40" y1="280.00" x2="48.40" y2="282.50" stroke="#6a6a6a" stroke-width="1.0"/>
<text x="48.40" y="512.40" font-size="8.7" fill="#444444" text-anchor="middle" dominant-baseline="central" font-family="Liberation Sans">-500</text>
<line x1="83.36" y1="502.40" x2="83.36" y2="499.90" stroke="#6a6a6a" stroke-width="1.0"/>
<line x1="83.36" y1="280.00" x2="83.36" y2="282.50" stroke="#6a6a6a" stroke-width="1.0"/>
<text x="83.36" y="512.40" font-size="8.7" fill="#444444" text-anchor="middle" dominant-baseline="central" font-family="Liberation Sans">-400</text>
<line x1="118.33" y1="502.40" x2="118.33" y2="499.90" stroke="#6a6a6a" stroke-width="1.0"/>
<line x1="118.33" y1="280.00" x2="118.33" y2="282.50" stroke="#6a6a6a" stroke-width="1.0"/>
<text x="118.33" y="512.40" font-size="8.7" fill="#444444" text-anchor="middle" dominant-baseline="central" font-family="Liberation Sans">-300</text>
<line x1="153.29" y1="502.40" x2="153.29" y2="499.90" stroke="#6a6a6a" stroke-width="1.0"/>
<line x1="153.29" y1="280.00" x2="153.29" y2="282.50" stroke="#6a6a6a" stroke-width="1.0"/>
<text x="153.29" y="512.40" font-size="8.7" fill="#444444" text-anchor="middle" dominant-baseline="central" font-family="Liberation Sans">-200</text>
<line x1="188.25" y1="502.40" x2="188.25" y2="499.90" stroke="#6a6a6a" stroke-width="1.0"/>
<line x1="188.25" y1="280.00" x2="188.25" y2="282.50" stroke="#6a6a6a" stroke-width="1.0"/>
<text x="188.25" y="512.40" font-size="8.7" fill="#444444" text-anchor="middle" dominant-baseline="central" font-family="Liberation Sans">-100</text>
<line x1="223.21" y1="502.40" x2="223.21" y2="499.90" stroke="#6a6a6a" stroke-width="1.0"/>
<line x1="223.21" y1="280.00" x2="223.21" y2="282.50" stroke="#6a6a6a" stroke-width="1.0"/>
<text x="223.21" y="512.40" font-size="8.7" fill="#444444" text-anchor="middle" dominant-baseline="central" font-family="Liberation Sans">0</text>
<line x1="258.18" y1="502.40" x2="258.18" y2="499.90" stroke="#6a6a6a" stroke-width="1.0"/>
<line x1="258.18" y1="280.00" x2="258.18" y2="282.50" stroke="#6a6a6a" stroke-width="1.0"/>
<text x="258.18" y="512.40" font-size="8.7" fill="#444444" text-anchor="middle" dominant-baseline="central" font-family="Liberation Sans">100</text>
<line x1="293.14" y1="502.40" x2="293.14" y2="499.90" stroke="#6a6a6a" stroke-width="1.0"/>
<line x1="293.14" y1="280.00" x2="293.14" y2="282.50" stroke="#6a6a6a" stroke-width="1.0"/>
<text x="293.14" y="512.40" font-size="8.7" fill="#444444" text-anchor="middle" dominant-baseline="central" font-family="Liberation Sans">200</text>
<line x1="328.10" y1="502.40" x2="328.10" y2="499.90" stroke="#6a6a6a" stroke-width="1.0"/>
<line x1="328.10" y1="280.00" x2="328.10" y2="282.50" stroke="#6a6a6a" stroke-width="1.0"/>
<text x="328.10" y="512.40" font-size="8.7" fill="#444444" text-anchor="middle" dominant-baseline="central" font-family="Liberation Sans">300</text>
<line x1="48.40" y1="502.40" x2="50.90" y2="502.40" stroke="#6a6a6a" stroke-width="1.0"/>
<line x1="328.10" y1="502.40" x2="325.60" y2="502.40" stroke="#6a6a6a" stroke-width="1.0"/>
<text x="44.20" y="503.40" font-size="8.7" fill="#444444" text-anchor="end" dominant-baseline="central" font-family="Liberation Sans">0</text>
<line x1="48.40" y1="457.92" x2="50.90" y2="457.92" stroke="#6a6a6a" stroke-width="1.0"/>
<line x1="328.10" y1="457.92" x2="325.60" y2="457.92" stroke="#6a6a6a" stroke-width="1.0"/>
<text x="44.20" y="458.92" font-size="8.7" fill="#444444" text-anchor="end" dominant-baseline="central" font-family="Liberation Sans">500</text>
<line x1="48.40" y1="413.44" x2="50.90" y2="413.44" stroke="#6a6a6a" stroke-width="1.0"/>
<line x1="328.10" y1="413.44" x2="325.60" y2="413.44" stroke="#6a6a6a" stroke-width="1.0"/>
<text x="44.20" y="414.44" font-size="8.7" fill="#444444" text-anchor="end" dominant-baseline="central" font-family="Liberation Sans">1000</text>
<line x1="48.40" y1="368.96" x2="50.90" y2="368.96" stroke="#6a6a6a" stroke-width="1.0"/>
<line x1="328.10" y1="368.96" x2="325.60" y2="368.96" stroke="#6a6a6a" stroke-width="1.0"/>
<text x="44.20" y="369.96" font-size="8.7" fill="#444444" text-anchor="end" dominant-baseline="central" font-family="Liberation Sans">1500</text>
<line x1="48.40" y1="324.48" x2="50.90" y2="324.48" stroke="#6a6a6a" stroke-width="1.0"/>
<line x1="328.10" y1="324.48" x2="325.60" y2="324.48" stroke="#6a6a6a" stroke-width="1.0"/>
<text x="44.20" y="325.48" font-size="8.7" fill="#444444" text-anchor="end" dominant-baseline="central" font-family="Liberation Sans">2000</text>
<line x1="48.40" y1="280.00" x2="50.90" y2="280.00" stroke="#6a6a6a" stroke-width="1.0"/>
<line x1="328.10" y1="280.00" x2="325.60" y2="280.00" stroke="#6a6a6a" stroke-width="1.0"/>
<text x="44.20" y="281.00" font-size="8.7" fill="#444444" text-anchor="end" dominant-baseline="central" font-family="Liberation Sans">2500</text>
<text x="188.20" y="525.40" font-size="9.8" fill="#444444" text-anchor="middle" dominant-baseline="central" font-family="Liberation Sans">X(mm)</text>
<text x="17.50" y="390.80" font-size="9.8" fill="#444444" text-anchor="middle" dominant-baseline="central" font-family="Liberation Sans" transform="rotate(-90 17.50 390.80)">Z(mm)</text>
<rect x="445.90" y="280.00" width="279.70" height="222.40" fill="none" stroke="#6a6a6a" stroke-width="1.2"/>
<line x1="445.90" y1="502.40" x2="445.90" y2="499.90" stroke="#6a6a6a" stroke-width="1.0"/>
<line x1="445.90" y1="280.00" x2="445.90" y2="282.50" stroke="#6a6a6a" stroke-width="1.0"/>
<text x="445.90" y="512.50" font-size="8.7" fill="#444444" text-anchor="middle" dominant-baseline="central" font-family="Liberation Sans">-80</text>
<line x1="480.86" y1="502.40" x2="480.86" y2="499.90" stroke="#6a6a6a" stroke-width="1.0"/>
<line x1="480.86" y1="280.00" x2="480.86" y2="282.50" stroke="#6a6a6a" stroke-width="1.0"/>
<text x="480.86" y="512.50" font-size="8.7" fill="#444444" text-anchor="middle" dominant-baseline="central" font-family="Liberation Sans">-60</text>
<line x1="515.83" y1="502.40" x2="515.83" y2="499.90" stroke="#6a6a6a" stroke-width="1.0"/>
<line x1="515.83" y1="280.00" x2="515.83" y2="282.50" stroke="#6a6a6a" stroke-width="1.0"/>
<text x="515.83" y="512.50" font-size="8.7" fill="#444444" text-anchor="middle" dominant-baseline="central" font-family="Liberation Sans">-40</text>
<line x1="550.79" y1="502.40" x2="550.79" y2="499.90" stroke="#6a6a6a" stroke-width="1.0"/>
<line x1="550.79" y1="280.00" x2="550.79" y2="282.50" stroke="#6a6a6a" stroke-width="1.0"/>
<text x="550.79" y="512.50" font-size="8.7" fill="#444444" text-anchor="middle" dominant-baseline="central" font-family="Liberation Sans">-20</text>
<line x1="585.75" y1="502.40" x2="585.75" y2="499.90" stroke="#6a6a6a" stroke-width="1.0"/>
<line x1="585.75" y1="280.00" x2="585.75" y2="282.50" stroke="#6a6a6a" stroke-width="1.0"/>
<text x="585.75" y="512.50" font-size="8.7" fill="#444444" text-anchor="middle" dominant-baseline="central" font-family="Liberation Sans">0</text>
<line x1="620.71" y1="502.40" x2="620.71" y2="499.90" stroke="#6a6a6a" stroke-width="1.0"/>
<line x1="620.71" y1="280.00" x2="620.71" y2="282.50" stroke="#6a6a6a" stroke-width="1.0"/>
<text x="620.71" y="512.50" font-size="8.7" fill="#444444" text-anchor="middle" dominant-baseline="central" font-family="Liberation Sans">20</text>
<line x1="655.67" y1="502.40" x2="655.67" y2="499.90" stroke="#6a6a6a" stroke-width="1.0"/>
<line x1="655.67" y1="280.00" x2="655.67" y2="282.50" stroke="#6a6a6a" stroke-width="1.0"/>
<text x="655.67" y="512.50" font-size="8.7" fill="#444444" text-anchor="middle" dominant-baseline="central" font-family="Liberation Sans">40</text>
<line x1="690.64" y1="502.40" x2="690.64" y2="499.90" stroke="#6a6a6a" stroke-width="1.0"/>
<line x1="690.64" y1="280.00" x2="690.64" y2="282.50" stroke="#6a6a6a" stroke-width="1.0"/>
<text x="690.64" y="512.50" font-size="8.7" fill="#444444" text-anchor="middle" dominant-baseline="central" font-family="Liberation Sans">60</text>
<line x1="725.60" y1="502.40" x2="725.60" y2="499.90" stroke="#6a6a6a" stroke-width="1.0"/>
<line x1="725.60" y1="280.00" x2="725.60" y2="282.50" stroke="#6a6a6a" stroke-width="1.0"/>
<text x="725.60" y="512.50" font-size="8.7" fill="#444444" text-anchor="middle" dominant-baseline="central" font-family="Liberation Sans">80</text>
<line x1="445.90" y1="502.40" x2="448.40" y2="502.40" stroke="#6a6a6a" stroke-width="1.0"/>
<line x1="725.60" y1="502.40" x2="723.10" y2="502.40" stroke="#6a6a6a" stroke-width="1.0"/>
<text x="441.00" y="503.40" font-size="8.7" fill="#444444" text-anchor="end" dominant-baseline="central" font-family="Liberation Sans">0</text>
<line x1="445.90" y1="457.92" x2="448.40" y2="457.92" stroke="#6a6a6a" stroke-width="1.0"/>
<line x1="725.60" y1="457.92" x2="723.10" y2="457.92" stroke="#6a6a6a" stroke-width="1.0"/>
<text x="441.00" y="458.92" font-size="8.7" fill="#444444" text-anchor="end" dominant-baseline="central" font-family="Liberation Sans">500</text>
<line x1="445.90" y1="413.44" x2="448.40" y2="413.44" stroke="#6a6a6a" stroke-width="1.0"/>
<line x1="725.60" y1="413.44" x2="723.10" y2="413.44" stroke="#6a6a6a" stroke-width="1.0"/>
<text x="441.00" y="414.44" font-size="8.7" fill="#444444" text-anchor="end" dominant-baseline="central" font-family="Liberation Sans">1000</text>
<line x1="445.90" y1="368.96" x2="448.40" y2="368.96" stroke="#6a6a6a" stroke-width="1.0"/>
<line x1="725.60" y1="368.96" x2="723.10" y2="368.96" stroke="#6a6a6a" stroke-width="1.0"/>
<text x="441.00" y="369.96" font-size="8.7" fill="#444444" text-anchor="end" dominant-baseline="central" font-family="Liberation Sans">1500</text>
<line x1="445.90" y1="324.48" x2="448.40" y2="324.48" stroke="#6a6a6a" stroke-width="1.0"/>
<line x1="725.60" y1="324.48" x2="723.10" y2="324.48" stroke="#6a6a6a" stroke-width="1.0"/>
<text x="441.00" y="325.48" font-size="8.7" fill="#444444" text-anchor="end" dominant-baseline="central" font-family="Liberation Sans">2000</text>
<line x1="445.90" y1="280.00" x2="448.40" y2="280.00" stroke="#6a6a6a" stroke-width="1.0"/>
<line x1="725.60" y1="280.00" x2="723.10" y2="280.00" stroke="#6a6a6a" stroke-width="1.0"/>
<text x="441.00" y="281.00" font-size="8.7" fill="#444444" text-anchor="end" dominant-baseline="central" font-family="Liberation Sans">2500</text>
<text x="585.80" y="524.90" font-size="9.8" fill="#444444" text-anchor="middle" dominant-baseline="central" font-family="Liberation Sans">Y(mm)</text>
<text x="414.50" y="390.80" font-size="9.8" fill="#444444" text-anchor="middle" dominant-baseline="central" font-family="Liberation Sans" transform="rotate(-90 414.50 390.80)">Z(mm)</text>
<line x1="47.50" y1="178.10" x2="47.50" y2="55.90" stroke="#6a6a6a" stroke-width="1.0"/>
<line x1="47.50" y1="178.10" x2="168.57" y2="234.38" stroke="#6a6a6a" stroke-width="1.0"/>
<line x1="168.57" y1="234.38" x2="324.07" y2="192.38" stroke="#6a6a6a" stroke-width="1.0"/>
<line x1="47.50" y1="178.10" x2="44.50" y2="178.10" stroke="#6a6a6a" stroke-width="1.0"/>
<text x="40.20" y="178.10" font-size="8.7" fill="#444444" text-anchor="end" dominant-baseline="central" font-family="Liberation Sans">0</text>
<line x1="47.50" y1="153.66" x2="44.50" y2="153.66" stroke="#6a6a6a" stroke-width="1.0"/>
<text x="40.20" y="153.66" font-size="8.7" fill="#444444" text-anchor="end" dominant-baseline="central" font-family="Liberation Sans">500</text>
<line x1="47.50" y1="129.22" x2="44.50" y2="129.22" stroke="#6a6a6a" stroke-width="1.0"/>
<text x="40.20" y="129.22" font-size="8.7" fill="#444444" text-anchor="end" dominant-baseline="central" font-family="Liberation Sans">1000</text>
<line x1="47.50" y1="104.78" x2="44.50" y2="104.78" stroke="#6a6a6a" stroke-width="1.0"/>
<text x="40.20" y="104.78" font-size="8.7" fill="#444444" text-anchor="end" dominant-baseline="central" font-family="Liberation Sans">1500</text>
<line x1="47.50" y1="80.34" x2="44.50" y2="80.34" stroke="#6a6a6a" stroke-width="1.0"/>
<text x="40.20" y="80.34" font-size="8.7" fill="#444444" text-anchor="end" dominant-baseline="central" font-family="Liberation Sans">2000</text>
<line x1="47.50" y1="55.90" x2="44.50" y2="55.90" stroke="#6a6a6a" stroke-width="1.0"/>
<text x="40.20" y="55.90" font-size="8.7" fill="#444444" text-anchor="end" dominant-baseline="central" font-family="Liberation Sans">2500</text>
<line x1="44.70" y1="178.86" x2="48.43" y2="177.85" stroke="#6a6a6a" stroke-width="1.0"/>
<line x1="80.95" y1="195.71" x2="84.68" y2="194.70" stroke="#6a6a6a" stroke-width="1.0"/>
<line x1="117.20" y1="212.56" x2="120.93" y2="211.55" stroke="#6a6a6a" stroke-width="1.0"/>
<line x1="153.45" y1="229.41" x2="157.18" y2="228.40" stroke="#6a6a6a" stroke-width="1.0"/>
<line x1="168.57" y1="234.38" x2="164.22" y2="232.36" stroke="#6a6a6a" stroke-width="1.0"/>
<line x1="199.68" y1="225.98" x2="195.32" y2="223.96" stroke="#6a6a6a" stroke-width="1.0"/>
<line x1="230.78" y1="217.58" x2="226.43" y2="215.56" stroke="#6a6a6a" stroke-width="1.0"/>
<line x1="261.88" y1="209.18" x2="257.52" y2="207.16" stroke="#6a6a6a" stroke-width="1.0"/>
<line x1="292.98" y1="200.78" x2="288.62" y2="198.76" stroke="#6a6a6a" stroke-width="1.0"/>
<line x1="324.07" y1="192.38" x2="319.73" y2="190.36" stroke="#6a6a6a" stroke-width="1.0"/>
<text x="33.40" y="186.90" font-size="8.7" fill="#444444" text-anchor="middle" dominant-baseline="central" font-family="Liberation Sans">100</text>
<text x="71.50" y="203.80" font-size="8.7" fill="#444444" text-anchor="middle" dominant-baseline="central" font-family="Liberation Sans">50</text>
<text x="110.00" y="220.30" font-size="8.7" fill="#444444" text-anchor="middle" dominant-baseline="central" font-family="Liberation Sans">0</text>
<text x="142.70" y="237.00" font-size="8.7" fill="#444444" text-anchor="middle" dominant-baseline="central" font-family="Liberation Sans">-50</text>
<text x="182.70" y="243.00" font-size="8.7" fill="#444444" text-anchor="middle" dominant-baseline="central" font-family="Liberation Sans">-600</text>
<text x="213.40" y="234.60" font-size="8.7" fill="#444444" text-anchor="middle" dominant-baseline="central" font-family="Liberation Sans">-400</text>
<text x="244.70" y="226.00" font-size="8.7" fill="#444444" text-anchor="middle" dominant-baseline="central" font-family="Liberation Sans">-200</text>
<text x="269.10" y="217.60" font-size="8.7" fill="#444444" text-anchor="middle" dominant-baseline="central" font-family="Liberation Sans">0</text>
<text x="306.30" y="209.30" font-size="8.7" fill="#444444" text-anchor="middle" dominant-baseline="central" font-family="Liberation Sans">200</text>
<text x="337.60" y="200.40" font-size="8.7" fill="#444444" text-anchor="middle" dominant-baseline="central" font-family="Liberation Sans">400</text>
<text x="94.50" y="242.00" font-size="9.8" fill="#444444" text-anchor="middle" dominant-baseline="central" font-family="Liberation Sans">Y(mm)</text>
<text x="251.60" y="245.40" font-size="9.8" fill="#444444" text-anchor="middle" dominant-baseline="central" font-family="Liberation Sans">X(mm)</text>
<text x="12.20" y="117.90" font-size="9.8" fill="#444444" text-anchor="middle" dominant-baseline="central" font-family="Liberation Sans" transform="rotate(-90 12.20 117.90)">Z(mm)</text>
<text x="12.6" y="25" font-size="25.5" fill="#111" font-family="Liberation Serif">(a)</text>
<text x="401.9" y="25" font-size="25.5" fill="#111" font-family="Liberation Serif">(b)</text>
<text x="12.9" y="265.3" font-size="25.5" fill="#111" font-family="Liberation Serif">(c)</text>
<text x="408.6" y="265.3" font-size="25.5" fill="#111" font-family="Liberation Serif">(d)</text>
</svg></body></html>
